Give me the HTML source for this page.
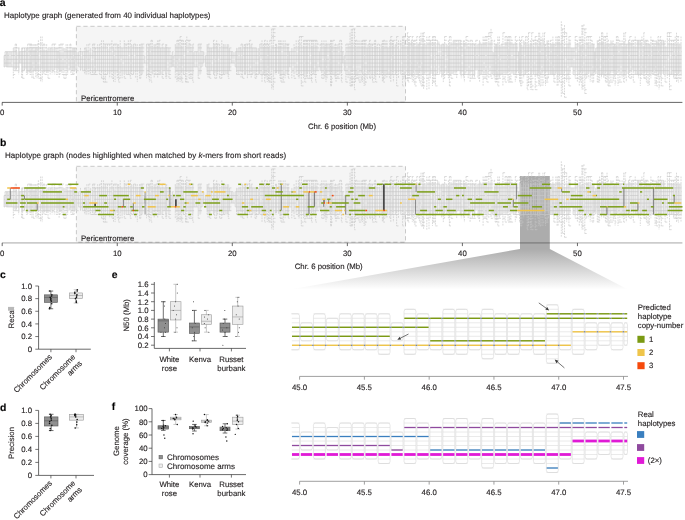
<!DOCTYPE html>
<html><head><meta charset="utf-8"><style>
html,body{margin:0;padding:0;background:#fff;}
svg{display:block;will-change:transform;}
text{font-family:"Liberation Sans", sans-serif;text-rendering:geometricPrecision;}
text{stroke:#231f20;stroke-width:0.14px;}
text.nb{stroke:none;}
</style></head><body>
<svg width="685" height="520" viewBox="0 0 685 520" font-family='"Liberation Sans", sans-serif'><rect width="685" height="520" fill="#fff"/><text x="-0.20" y="6.30" font-size="10.4" text-anchor="start" font-weight="bold" fill="#000" >a</text><text x="4.00" y="18.00" font-size="7.95" text-anchor="start" font-weight="normal" fill="#231f20" >Haplotype graph (generated from 40 individual haplotypes)</text><rect x="76.4" y="26.3" width="329.1" height="75.9" fill="#f5f5f5" stroke="#a8a8a8" stroke-width="0.6" stroke-dasharray="4.2 2.8"/><path id="hgf" d="M4.0 55.5h1.0V66.2h-1.0zM5.0 53.7h1.3V66.9h-1.3zM6.3 51.7h1.0V66.9h-1.0zM7.3 53.3h1.6V66.8h-1.6zM8.9 51.7h2.2V66.9h-2.2zM11.1 51.7h2.2V66.9h-2.2zM13.3 48.8h1.9V68.9h-1.9zM15.2 49.6h1.3V68.8h-1.3zM16.5 51.1h2.2V67.8h-2.2zM18.7 48.2h1.0V71.5h-1.0zM19.7 51.7h1.9V63.1h-1.9zM21.6 47.9h1.0V70.8h-1.0zM22.6 50.7h1.9V71.1h-1.9zM24.5 49.5h1.9V68.8h-1.9zM26.4 47.9h1.3V71.4h-1.3zM27.7 47.7h2.2V72.0h-2.2zM29.9 50.4h1.0V71.1h-1.0zM30.9 49.2h1.0V68.6h-1.0zM31.9 47.4h1.3V68.2h-1.3zM33.2 50.3h1.6V70.9h-1.6zM34.8 49.3h1.0V70.2h-1.0zM35.8 47.4h1.3V70.0h-1.3zM37.1 48.8h1.3V69.2h-1.3zM38.4 47.3h2.2V70.2h-2.2zM40.6 49.8h1.6V68.7h-1.6zM42.2 47.5h1.0V68.0h-1.0zM43.2 49.8h1.6V71.8h-1.6zM44.8 50.2h1.9V70.6h-1.9zM46.7 51.0h1.3V71.2h-1.3zM48.0 49.1h2.2V71.2h-2.2zM50.2 47.9h1.9V70.5h-1.9zM52.1 47.0h2.2V71.4h-2.2zM54.3 48.0h1.9V68.2h-1.9zM56.2 50.2h1.6V68.3h-1.6zM57.8 50.8h1.3V68.8h-1.3zM59.1 50.7h1.0V70.5h-1.0zM60.1 49.7h1.9V70.3h-1.9zM62.0 47.2h1.9V71.2h-1.9zM63.9 47.9h2.2V68.6h-2.2zM66.1 49.0h1.6V69.1h-1.6zM67.7 49.8h2.2V71.0h-2.2zM69.9 49.8h1.0V68.1h-1.0zM70.9 49.5h1.9V71.3h-1.9zM72.8 47.9h1.3V69.5h-1.3zM74.1 47.9h1.0V70.1h-1.0zM75.1 49.4h1.6V70.7h-1.6zM76.7 51.7h1.9V68.6h-1.9zM78.6 51.7h1.9V66.9h-1.9zM80.5 52.2h1.9V69.0h-1.9zM82.4 51.7h2.2V70.6h-2.2zM84.6 50.9h1.3V69.0h-1.3zM85.9 49.6h1.0V70.7h-1.0zM86.9 51.1h1.9V68.0h-1.9zM88.8 51.2h1.6V67.7h-1.6zM90.4 48.5h2.2V69.1h-2.2zM92.6 51.4h1.6V71.2h-1.6zM94.2 48.2h1.3V69.5h-1.3zM95.5 50.9h2.2V71.1h-2.2zM97.7 47.9h1.9V70.6h-1.9zM99.6 47.0h1.9V69.9h-1.9zM101.5 49.7h1.9V71.0h-1.9zM103.4 45.3h1.9V72.9h-1.9zM105.3 46.0h2.2V70.4h-2.2zM107.5 48.8h2.2V73.0h-2.2zM109.7 47.8h2.2V72.8h-2.2zM111.9 46.7h1.6V70.5h-1.6zM113.5 47.7h1.6V71.8h-1.6zM115.1 49.4h2.2V73.0h-2.2zM117.3 45.8h1.3V71.4h-1.3zM118.6 49.2h1.6V73.5h-1.6zM120.2 47.4h1.9V71.7h-1.9zM122.1 47.9h2.2V74.0h-2.2zM124.3 44.5h1.9V73.2h-1.9zM126.2 48.0h2.2V73.2h-2.2zM128.4 47.0h1.9V74.3h-1.9zM130.3 46.6h1.3V72.2h-1.3zM131.6 45.1h1.9V70.1h-1.9zM133.5 44.8h2.2V72.9h-2.2zM135.7 46.6h1.6V70.4h-1.6zM137.3 46.9h2.2V70.4h-2.2zM139.5 48.8h1.3V71.8h-1.3zM140.8 46.5h1.3V74.0h-1.3zM142.1 45.8h2.2V72.7h-2.2zM144.3 55.5h2.2V63.1h-2.2zM146.5 45.9h1.9V74.5h-1.9zM148.4 47.2h1.0V69.9h-1.0zM149.4 44.7h1.6V70.7h-1.6zM151.0 48.3h1.3V71.3h-1.3zM152.3 48.0h1.9V74.4h-1.9zM154.2 45.1h1.6V70.2h-1.6zM155.8 46.3h1.9V69.7h-1.9zM157.7 47.1h1.3V70.3h-1.3zM159.0 45.0h1.6V72.4h-1.6zM160.6 48.2h1.6V74.3h-1.6zM162.2 46.5h1.9V73.2h-1.9zM164.1 47.9h1.6V70.7h-1.6zM165.7 45.4h1.0V72.8h-1.0zM166.7 46.9h2.2V69.7h-2.2zM168.9 47.9h2.2V73.2h-2.2zM171.1 55.5h1.3V66.9h-1.3zM172.4 51.7h1.3V66.9h-1.3zM173.7 55.5h1.6V66.9h-1.6zM175.3 45.8h1.6V70.9h-1.6zM176.9 45.2h1.3V70.3h-1.3zM178.2 44.2h1.9V74.1h-1.9zM180.1 46.3h1.6V73.1h-1.6zM181.7 47.4h1.6V71.0h-1.6zM183.3 46.4h2.2V73.0h-2.2zM185.5 47.8h1.3V69.8h-1.3zM186.8 44.2h2.2V70.2h-2.2zM189.0 44.6h1.9V71.3h-1.9zM190.9 48.9h1.9V70.1h-1.9zM192.8 44.7h1.3V73.9h-1.3zM194.1 51.7h2.2V66.9h-2.2zM196.3 51.7h1.9V66.9h-1.9zM198.2 46.2h1.9V74.5h-1.9zM200.1 44.5h1.9V73.8h-1.9zM202.0 51.7h1.6V66.9h-1.6zM203.6 51.7h1.9V63.1h-1.9zM205.5 55.5h1.6V66.9h-1.6zM207.1 44.6h1.0V70.1h-1.0zM208.1 44.3h1.6V73.1h-1.6zM209.7 47.9h1.6V73.5h-1.6zM211.3 47.9h2.2V70.7h-2.2zM213.5 45.3h1.3V72.8h-1.3zM214.8 44.7h1.9V71.7h-1.9zM216.7 47.3h1.0V74.4h-1.0zM217.7 46.3h1.9V70.3h-1.9zM219.6 48.7h2.2V70.6h-2.2zM221.8 49.0h1.6V71.6h-1.6zM223.4 46.1h1.6V72.2h-1.6zM225.0 45.9h2.2V74.2h-2.2zM227.2 44.4h1.0V72.6h-1.0zM228.2 44.2h1.3V72.7h-1.3zM229.5 47.9h1.9V70.7h-1.9zM231.4 51.7h1.6V63.1h-1.6zM233.0 51.7h2.2V63.1h-2.2zM235.2 51.7h1.3V66.9h-1.3zM236.5 47.9h1.6V70.2h-1.6zM238.1 47.9h1.9V74.5h-1.9zM240.0 47.9h1.0V70.5h-1.0zM241.0 48.4h1.6V70.4h-1.6zM242.6 44.2h1.9V70.8h-1.9zM244.5 47.2h1.0V72.9h-1.0zM245.5 45.2h1.9V72.8h-1.9zM247.4 47.8h2.2V73.7h-2.2zM249.6 44.9h1.6V70.9h-1.6zM251.2 44.1h1.6V70.4h-1.6zM252.8 47.9h2.2V72.7h-2.2zM255.0 47.9h1.6V73.9h-1.6zM256.6 47.9h2.2V70.2h-2.2zM258.8 48.2h1.0V74.5h-1.0zM259.8 45.3h2.2V72.0h-2.2zM262.0 44.0h1.6V74.7h-1.6zM263.6 47.4h1.0V74.5h-1.0zM264.6 46.8h1.3V71.6h-1.3zM265.9 47.8h1.3V74.7h-1.3zM267.2 46.1h1.3V70.2h-1.3zM268.5 46.9h1.3V71.4h-1.3zM269.8 47.1h1.9V74.7h-1.9zM271.7 45.4h1.6V70.5h-1.6zM273.3 47.1h2.2V75.1h-2.2zM275.5 48.8h1.0V71.5h-1.0zM276.5 45.8h2.2V71.2h-2.2zM278.7 46.0h1.3V72.0h-1.3zM280.0 46.3h1.0V74.3h-1.0zM281.0 47.5h2.2V74.6h-2.2zM283.2 44.1h1.9V73.5h-1.9zM285.1 44.0h2.2V74.5h-2.2zM287.3 46.8h1.0V73.9h-1.0zM288.3 48.2h1.3V70.7h-1.3zM289.6 51.7h2.2V66.9h-2.2zM291.8 47.9h2.2V71.4h-2.2zM294.0 47.6h2.2V72.4h-2.2zM296.2 48.4h2.2V70.9h-2.2zM298.4 48.3h1.0V72.4h-1.0zM299.4 44.3h1.9V72.1h-1.9zM301.3 45.5h2.2V71.7h-2.2zM303.5 47.2h1.3V74.0h-1.3zM304.8 45.6h1.6V75.2h-1.6zM306.4 46.7h1.0V75.2h-1.0zM307.4 45.2h2.2V72.1h-2.2zM309.6 44.5h1.9V72.2h-1.9zM311.5 46.8h1.3V71.4h-1.3zM312.8 47.8h1.0V70.1h-1.0zM313.8 43.9h1.9V74.1h-1.9zM315.7 45.2h1.3V70.9h-1.3zM317.0 47.0h2.2V70.7h-2.2zM319.2 51.7h1.0V66.9h-1.0zM320.2 46.8h1.6V70.7h-1.6zM321.8 44.9h2.2V71.3h-2.2zM324.0 47.7h1.0V74.6h-1.0zM325.0 46.9h1.0V72.2h-1.0zM326.0 44.0h1.0V73.1h-1.0zM327.0 45.2h2.2V71.1h-2.2zM329.2 44.5h1.3V70.7h-1.3zM330.5 48.5h1.0V73.0h-1.0zM331.5 45.2h1.3V70.6h-1.3zM332.8 45.5h2.2V74.5h-2.2zM335.0 47.5h1.0V72.3h-1.0zM336.0 47.9h1.9V71.8h-1.9zM337.9 44.7h1.9V70.5h-1.9zM339.8 46.6h1.6V73.8h-1.6zM341.4 46.8h1.3V71.4h-1.3zM342.7 51.7h1.6V63.1h-1.6zM344.3 55.5h1.6V70.7h-1.6zM345.9 47.6h2.2V73.0h-2.2zM348.1 46.1h1.9V73.6h-1.9zM350.0 47.7h1.3V74.0h-1.3zM351.3 46.8h1.3V70.5h-1.3zM352.6 45.9h1.9V70.4h-1.9zM354.5 46.2h1.0V73.1h-1.0zM355.5 48.3h1.6V75.1h-1.6zM357.1 46.4h1.9V74.2h-1.9zM359.0 47.1h2.2V71.0h-2.2zM361.2 46.6h1.3V71.0h-1.3zM362.5 46.1h1.6V73.1h-1.6zM364.1 45.7h1.0V74.2h-1.0zM365.1 45.3h1.9V70.1h-1.9zM367.0 47.9h1.0V71.0h-1.0zM368.0 45.7h1.6V72.3h-1.6zM369.6 47.9h1.3V70.8h-1.3zM370.9 45.4h1.6V73.7h-1.6zM372.5 47.4h2.2V73.6h-2.2zM374.7 47.9h1.0V72.0h-1.0zM375.7 47.7h1.6V72.9h-1.6zM377.3 48.0h2.2V70.2h-2.2zM379.5 48.0h1.6V70.6h-1.6zM381.1 46.1h1.3V74.5h-1.3zM382.4 48.1h1.0V71.4h-1.0zM383.4 48.0h1.6V73.5h-1.6zM385.0 45.8h1.9V72.0h-1.9zM386.9 45.6h1.0V73.1h-1.0zM387.9 47.9h1.9V74.5h-1.9zM389.8 47.6h1.0V73.3h-1.0zM390.8 43.6h1.6V74.6h-1.6zM392.4 47.8h1.0V70.6h-1.0zM393.4 44.5h2.2V70.9h-2.2zM395.6 44.5h1.0V72.8h-1.0zM396.6 46.0h1.9V71.3h-1.9zM398.5 47.5h2.2V70.6h-2.2zM400.7 45.0h1.9V73.6h-1.9zM402.6 45.9h1.3V70.3h-1.3zM403.9 46.2h1.3V73.1h-1.3zM405.2 45.7h2.2V72.2h-2.2zM407.4 47.2h1.0V74.1h-1.0zM408.4 43.4h1.0V71.6h-1.0zM409.4 43.0h1.9V74.3h-1.9zM411.3 41.1h1.0V74.8h-1.0zM412.3 44.8h1.3V75.8h-1.3zM413.6 44.0h1.3V71.1h-1.3zM414.9 45.7h1.9V72.5h-1.9zM416.8 45.8h1.3V73.2h-1.3zM418.1 44.1h1.3V76.1h-1.3zM419.4 42.0h1.6V71.3h-1.6zM421.0 46.2h1.6V72.0h-1.6zM422.6 44.7h1.0V73.3h-1.0zM423.6 43.6h1.3V73.6h-1.3zM424.9 43.5h1.9V71.9h-1.9zM426.8 43.5h2.2V71.9h-2.2zM429.0 43.2h1.3V73.8h-1.3zM430.3 42.2h2.2V73.8h-2.2zM432.5 47.0h1.3V74.2h-1.3zM433.8 42.3h1.6V72.1h-1.6zM435.4 45.6h2.2V74.8h-2.2zM437.6 41.6h2.2V71.5h-2.2zM439.8 44.8h1.9V72.1h-1.9zM441.7 44.1h1.6V75.6h-1.6zM443.3 44.1h1.3V72.4h-1.3zM444.6 45.6h2.2V71.4h-2.2zM446.8 45.1h1.6V73.2h-1.6zM448.4 45.7h1.0V71.4h-1.0zM449.4 45.0h1.6V76.1h-1.6zM451.0 43.8h2.2V74.4h-2.2zM453.2 41.0h1.9V72.0h-1.9zM455.1 42.6h1.6V71.9h-1.6zM456.7 43.4h1.6V70.9h-1.6zM458.3 42.4h1.9V70.7h-1.9zM460.2 42.2h1.0V73.3h-1.0zM461.2 46.6h2.2V72.1h-2.2zM463.4 42.4h1.0V74.8h-1.0zM464.4 43.1h1.6V73.5h-1.6zM466.0 44.0h2.2V71.0h-2.2zM468.2 46.6h1.9V73.7h-1.9zM470.1 43.7h2.2V71.9h-2.2zM472.3 42.9h2.2V76.0h-2.2zM474.5 46.5h1.3V75.0h-1.3zM475.8 43.6h2.2V70.7h-2.2zM478.0 44.5h1.6V75.9h-1.6zM479.6 42.0h1.6V74.5h-1.6zM481.2 44.1h1.9V72.2h-1.9zM483.1 42.7h1.9V73.1h-1.9zM485.0 42.3h1.9V73.4h-1.9zM486.9 46.5h1.9V75.6h-1.9zM488.8 42.4h2.2V70.6h-2.2zM491.0 41.2h1.9V75.2h-1.9zM492.9 51.7h1.3V73.1h-1.3zM494.2 46.3h1.0V74.7h-1.0zM495.2 44.1h1.3V72.7h-1.3zM496.5 44.1h1.3V75.6h-1.3zM497.8 45.4h1.6V75.5h-1.6zM499.4 46.5h1.6V75.8h-1.6zM501.0 44.1h1.9V73.9h-1.9zM502.9 45.9h2.2V72.9h-2.2zM505.1 41.9h1.9V73.3h-1.9zM507.0 41.4h1.0V72.4h-1.0zM508.0 46.0h1.3V71.3h-1.3zM509.3 41.3h1.6V70.6h-1.6zM510.9 42.3h2.2V72.7h-2.2zM513.1 44.1h2.2V74.1h-2.2zM515.3 43.6h1.3V73.3h-1.3zM516.6 45.2h1.9V70.9h-1.9zM518.5 51.7h1.0V71.5h-1.0zM519.5 42.5h1.0V74.4h-1.0zM520.5 44.0h1.3V74.5h-1.3zM521.8 46.6h1.9V71.7h-1.9zM523.7 41.5h1.9V74.9h-1.9zM525.6 44.7h1.6V73.1h-1.6zM527.2 46.7h1.3V71.0h-1.3zM528.5 43.5h1.9V70.5h-1.9zM530.4 43.1h1.3V72.8h-1.3zM531.7 45.0h1.9V72.5h-1.9zM533.6 46.9h1.6V72.4h-1.6zM535.2 41.9h2.2V75.3h-2.2zM537.4 45.1h1.3V74.8h-1.3zM538.7 46.8h1.0V71.7h-1.0zM539.7 42.6h1.3V74.9h-1.3zM541.0 42.8h1.9V73.5h-1.9zM542.9 41.3h1.6V70.9h-1.6zM544.5 44.6h1.0V72.1h-1.0zM545.5 46.8h1.6V71.7h-1.6zM547.1 42.1h1.3V71.0h-1.3zM548.4 46.8h1.9V73.5h-1.9zM550.3 44.7h1.6V73.8h-1.6zM551.9 44.8h1.0V74.5h-1.0zM552.9 43.9h1.0V74.5h-1.0zM553.9 44.1h1.9V74.9h-1.9zM555.8 47.0h1.3V71.8h-1.3zM557.1 41.5h1.0V75.9h-1.0zM558.1 41.6h1.3V73.0h-1.3zM559.4 43.8h1.9V74.6h-1.9zM561.3 41.1h1.3V73.3h-1.3zM562.6 45.6h1.9V75.1h-1.9zM564.5 47.0h2.2V71.6h-2.2zM566.7 44.3h2.2V75.9h-2.2zM568.9 41.4h2.2V73.3h-2.2zM571.1 47.9h1.9V66.9h-1.9zM573.0 47.9h2.2V73.6h-2.2zM575.2 43.9h2.2V72.1h-2.2zM577.4 44.5h1.9V74.4h-1.9zM579.3 46.1h1.3V73.0h-1.3zM580.6 45.3h1.3V70.9h-1.3zM581.9 44.0h1.0V73.1h-1.0zM582.9 44.7h1.9V71.7h-1.9zM584.8 46.7h1.9V76.1h-1.9zM586.7 42.7h1.6V73.4h-1.6zM588.3 42.5h1.9V72.4h-1.9zM590.2 44.7h1.9V76.0h-1.9zM592.1 44.0h1.6V74.6h-1.6zM593.7 44.1h1.0V71.7h-1.0zM594.7 51.7h1.0V70.9h-1.0zM595.7 47.9h1.6V72.4h-1.6zM597.3 42.2h1.0V72.7h-1.0zM598.3 44.8h1.3V73.3h-1.3zM599.6 42.1h1.9V73.9h-1.9zM601.5 41.7h1.3V75.0h-1.3zM602.8 41.3h1.0V72.0h-1.0zM603.8 45.1h1.6V76.0h-1.6zM605.4 44.2h1.6V71.7h-1.6zM607.0 44.5h1.0V75.1h-1.0zM608.0 45.0h1.0V73.4h-1.0zM609.0 44.1h1.9V74.5h-1.9zM610.9 41.5h2.2V71.1h-2.2zM613.1 46.1h1.0V71.3h-1.0zM614.1 44.1h1.0V72.6h-1.0zM615.1 46.0h1.3V74.6h-1.3zM616.4 45.8h1.6V72.6h-1.6zM618.0 44.8h1.9V71.4h-1.9zM619.9 43.6h2.2V73.6h-2.2zM622.1 46.8h1.6V72.0h-1.6zM623.7 41.2h1.3V75.1h-1.3zM625.0 45.7h1.3V71.9h-1.3zM626.3 44.1h2.2V73.7h-2.2zM628.5 41.9h1.3V72.9h-1.3zM629.8 42.9h1.9V71.4h-1.9zM631.7 42.6h1.6V70.6h-1.6zM633.3 46.0h1.9V71.0h-1.9zM635.2 46.6h2.2V74.5h-2.2zM637.4 41.4h1.0V74.5h-1.0zM638.4 41.0h1.9V74.7h-1.9zM640.3 42.4h1.6V74.2h-1.6zM641.9 46.0h1.9V73.1h-1.9zM643.8 46.0h1.0V74.5h-1.0zM644.8 41.1h1.6V71.4h-1.6zM646.4 44.4h1.6V73.2h-1.6zM648.0 44.1h1.3V71.5h-1.3zM649.3 45.1h1.6V72.6h-1.6zM650.9 46.4h1.6V74.6h-1.6zM652.5 46.4h1.3V70.6h-1.3zM653.8 45.0h1.3V72.7h-1.3zM655.1 46.7h1.3V71.5h-1.3zM656.4 40.9h1.6V71.8h-1.6zM658.0 41.7h1.0V75.1h-1.0zM659.0 44.2h1.3V73.1h-1.3zM660.3 45.3h1.0V72.7h-1.0zM661.3 41.1h2.2V73.8h-2.2zM663.5 41.6h1.6V73.5h-1.6zM665.1 46.7h2.2V75.1h-2.2zM667.3 42.8h2.2V74.3h-2.2zM669.5 43.2h2.2V75.1h-2.2zM671.7 44.0h1.9V74.0h-1.9zM673.6 44.2h1.6V75.8h-1.6zM675.2 46.8h1.3V71.2h-1.3zM676.5 43.7h1.6V74.7h-1.6zM678.1 46.0h1.0V74.1h-1.0zM679.1 44.5h1.9V71.7h-1.9zM681.0 46.1h0.5V74.4h-0.5z" fill="#f0f0f0" stroke="none"/><g id="hg"><path d="M4.0 55.5V66.2M5.0 53.7V66.9M6.3 51.7V66.9M7.3 53.3V66.8M8.9 51.7V66.9M11.1 51.7V66.9M13.3 48.8V68.9M15.2 49.6V68.8M16.5 51.1V67.8M18.7 48.2V71.5M19.7 51.7V63.1M21.6 47.9V70.8M22.6 50.7V71.1M24.5 49.5V68.8M26.4 47.9V71.4M27.7 47.7V72.0M29.9 50.4V71.1M30.9 49.2V68.6M31.9 47.4V68.2M33.2 50.3V70.9M34.8 49.3V70.2M35.8 47.4V70.0M37.1 48.8V69.2M38.4 47.3V70.2M40.6 49.8V68.7M42.2 47.5V68.0M43.2 49.8V71.8M44.8 50.2V70.6M46.7 51.0V71.2M48.0 49.1V71.2M50.2 47.9V70.5M52.1 47.0V71.4M54.3 48.0V68.2M56.2 50.2V68.3M57.8 50.8V68.8M59.1 50.7V70.5M60.1 49.7V70.3M62.0 47.2V71.2M63.9 47.9V68.6M66.1 49.0V69.1M67.7 49.8V71.0M69.9 49.8V68.1M70.9 49.5V71.3M72.8 47.9V69.5M74.1 47.9V70.1M75.1 49.4V70.7M76.7 51.7V68.6M78.6 51.7V66.9M80.5 52.2V69.0M82.4 51.7V70.6M84.6 50.9V69.0M85.9 49.6V70.7M86.9 51.1V68.0M88.8 51.2V67.7M90.4 48.5V69.1M92.6 51.4V71.2M94.2 48.2V69.5M95.5 50.9V71.1M97.7 47.9V70.6M99.6 47.0V69.9M101.5 49.7V71.0M103.4 45.3V72.9M105.3 46.0V70.4M107.5 48.8V73.0M109.7 47.8V72.8M111.9 46.7V70.5M113.5 47.7V71.8M115.1 49.4V73.0M117.3 45.8V71.4M118.6 49.2V73.5M120.2 47.4V71.7M122.1 47.9V74.0M124.3 44.5V73.2M126.2 48.0V73.2M128.4 47.0V74.3M130.3 46.6V72.2M131.6 45.1V70.1M133.5 44.8V72.9M135.7 46.6V70.4M137.3 46.9V70.4M139.5 48.8V71.8M140.8 46.5V74.0M142.1 45.8V72.7M144.3 55.5V63.1M146.5 45.9V74.5M148.4 47.2V69.9M149.4 44.7V70.7M151.0 48.3V71.3M152.3 48.0V74.4M154.2 45.1V70.2M155.8 46.3V69.7M157.7 47.1V70.3M159.0 45.0V72.4M160.6 48.2V74.3M162.2 46.5V73.2M164.1 47.9V70.7M165.7 45.4V72.8M166.7 46.9V69.7M168.9 47.9V73.2M171.1 55.5V66.9M172.4 51.7V66.9M173.7 55.5V66.9M175.3 45.8V70.9M176.9 45.2V70.3M178.2 44.2V74.1M180.1 46.3V73.1M181.7 47.4V71.0M183.3 46.4V73.0M185.5 47.8V69.8M186.8 44.2V70.2M189.0 44.6V71.3M190.9 48.9V70.1M192.8 44.7V73.9M194.1 51.7V66.9M196.3 51.7V66.9M198.2 46.2V74.5M200.1 44.5V73.8M202.0 51.7V66.9M203.6 51.7V63.1M205.5 55.5V66.9M207.1 44.6V70.1M208.1 44.3V73.1M209.7 47.9V73.5M211.3 47.9V70.7M213.5 45.3V72.8M214.8 44.7V71.7M216.7 47.3V74.4M217.7 46.3V70.3M219.6 48.7V70.6M221.8 49.0V71.6M223.4 46.1V72.2M225.0 45.9V74.2M227.2 44.4V72.6M228.2 44.2V72.7M229.5 47.9V70.7M231.4 51.7V63.1M233.0 51.7V63.1M235.2 51.7V66.9M236.5 47.9V70.2M238.1 47.9V74.5M240.0 47.9V70.5M241.0 48.4V70.4M242.6 44.2V70.8M244.5 47.2V72.9M245.5 45.2V72.8M247.4 47.8V73.7M249.6 44.9V70.9M251.2 44.1V70.4M252.8 47.9V72.7M255.0 47.9V73.9M256.6 47.9V70.2M258.8 48.2V74.5M259.8 45.3V72.0M262.0 44.0V74.7M263.6 47.4V74.5M264.6 46.8V71.6M265.9 47.8V74.7M267.2 46.1V70.2M268.5 46.9V71.4M269.8 47.1V74.7M271.7 45.4V70.5M273.3 47.1V75.1M275.5 48.8V71.5M276.5 45.8V71.2M278.7 46.0V72.0M280.0 46.3V74.3M281.0 47.5V74.6M283.2 44.1V73.5M285.1 44.0V74.5M287.3 46.8V73.9M288.3 48.2V70.7M289.6 51.7V66.9M291.8 47.9V71.4M294.0 47.6V72.4M296.2 48.4V70.9M298.4 48.3V72.4M299.4 44.3V72.1M301.3 45.5V71.7M303.5 47.2V74.0M304.8 45.6V75.2M306.4 46.7V75.2M307.4 45.2V72.1M309.6 44.5V72.2M311.5 46.8V71.4M312.8 47.8V70.1M313.8 43.9V74.1M315.7 45.2V70.9M317.0 47.0V70.7M319.2 51.7V66.9M320.2 46.8V70.7M321.8 44.9V71.3M324.0 47.7V74.6M325.0 46.9V72.2M326.0 44.0V73.1M327.0 45.2V71.1M329.2 44.5V70.7M330.5 48.5V73.0M331.5 45.2V70.6M332.8 45.5V74.5M335.0 47.5V72.3M336.0 47.9V71.8M337.9 44.7V70.5M339.8 46.6V73.8M341.4 46.8V71.4M342.7 51.7V63.1M344.3 55.5V70.7M345.9 47.6V73.0M348.1 46.1V73.6M350.0 47.7V74.0M351.3 46.8V70.5M352.6 45.9V70.4M354.5 46.2V73.1M355.5 48.3V75.1M357.1 46.4V74.2M359.0 47.1V71.0M361.2 46.6V71.0M362.5 46.1V73.1M364.1 45.7V74.2M365.1 45.3V70.1M367.0 47.9V71.0M368.0 45.7V72.3M369.6 47.9V70.8M370.9 45.4V73.7M372.5 47.4V73.6M374.7 47.9V72.0M375.7 47.7V72.9M377.3 48.0V70.2M379.5 48.0V70.6M381.1 46.1V74.5M382.4 48.1V71.4M383.4 48.0V73.5M385.0 45.8V72.0M386.9 45.6V73.1M387.9 47.9V74.5M389.8 47.6V73.3M390.8 43.6V74.6M392.4 47.8V70.6M393.4 44.5V70.9M395.6 44.5V72.8M396.6 46.0V71.3M398.5 47.5V70.6M400.7 45.0V73.6M402.6 45.9V70.3M403.9 46.2V73.1M405.2 45.7V72.2M407.4 47.2V74.1M408.4 43.4V71.6M409.4 43.0V74.3M411.3 41.1V74.8M412.3 44.8V75.8M413.6 44.0V71.1M414.9 45.7V72.5M416.8 45.8V73.2M418.1 44.1V76.1M419.4 42.0V71.3M421.0 46.2V72.0M422.6 44.7V73.3M423.6 43.6V73.6M424.9 43.5V71.9M426.8 43.5V71.9M429.0 43.2V73.8M430.3 42.2V73.8M432.5 47.0V74.2M433.8 42.3V72.1M435.4 45.6V74.8M437.6 41.6V71.5M439.8 44.8V72.1M441.7 44.1V75.6M443.3 44.1V72.4M444.6 45.6V71.4M446.8 45.1V73.2M448.4 45.7V71.4M449.4 45.0V76.1M451.0 43.8V74.4M453.2 41.0V72.0M455.1 42.6V71.9M456.7 43.4V70.9M458.3 42.4V70.7M460.2 42.2V73.3M461.2 46.6V72.1M463.4 42.4V74.8M464.4 43.1V73.5M466.0 44.0V71.0M468.2 46.6V73.7M470.1 43.7V71.9M472.3 42.9V76.0M474.5 46.5V75.0M475.8 43.6V70.7M478.0 44.5V75.9M479.6 42.0V74.5M481.2 44.1V72.2M483.1 42.7V73.1M485.0 42.3V73.4M486.9 46.5V75.6M488.8 42.4V70.6M491.0 41.2V75.2M492.9 51.7V73.1M494.2 46.3V74.7M495.2 44.1V72.7M496.5 44.1V75.6M497.8 45.4V75.5M499.4 46.5V75.8M501.0 44.1V73.9M502.9 45.9V72.9M505.1 41.9V73.3M507.0 41.4V72.4M508.0 46.0V71.3M509.3 41.3V70.6M510.9 42.3V72.7M513.1 44.1V74.1M515.3 43.6V73.3M516.6 45.2V70.9M518.5 51.7V71.5M519.5 42.5V74.4M520.5 44.0V74.5M521.8 46.6V71.7M523.7 41.5V74.9M525.6 44.7V73.1M527.2 46.7V71.0M528.5 43.5V70.5M530.4 43.1V72.8M531.7 45.0V72.5M533.6 46.9V72.4M535.2 41.9V75.3M537.4 45.1V74.8M538.7 46.8V71.7M539.7 42.6V74.9M541.0 42.8V73.5M542.9 41.3V70.9M544.5 44.6V72.1M545.5 46.8V71.7M547.1 42.1V71.0M548.4 46.8V73.5M550.3 44.7V73.8M551.9 44.8V74.5M552.9 43.9V74.5M553.9 44.1V74.9M555.8 47.0V71.8M557.1 41.5V75.9M558.1 41.6V73.0M559.4 43.8V74.6M561.3 41.1V73.3M562.6 45.6V75.1M564.5 47.0V71.6M566.7 44.3V75.9M568.9 41.4V73.3M571.1 47.9V66.9M573.0 47.9V73.6M575.2 43.9V72.1M577.4 44.5V74.4M579.3 46.1V73.0M580.6 45.3V70.9M581.9 44.0V73.1M582.9 44.7V71.7M584.8 46.7V76.1M586.7 42.7V73.4M588.3 42.5V72.4M590.2 44.7V76.0M592.1 44.0V74.6M593.7 44.1V71.7M594.7 51.7V70.9M595.7 47.9V72.4M597.3 42.2V72.7M598.3 44.8V73.3M599.6 42.1V73.9M601.5 41.7V75.0M602.8 41.3V72.0M603.8 45.1V76.0M605.4 44.2V71.7M607.0 44.5V75.1M608.0 45.0V73.4M609.0 44.1V74.5M610.9 41.5V71.1M613.1 46.1V71.3M614.1 44.1V72.6M615.1 46.0V74.6M616.4 45.8V72.6M618.0 44.8V71.4M619.9 43.6V73.6M622.1 46.8V72.0M623.7 41.2V75.1M625.0 45.7V71.9M626.3 44.1V73.7M628.5 41.9V72.9M629.8 42.9V71.4M631.7 42.6V70.6M633.3 46.0V71.0M635.2 46.6V74.5M637.4 41.4V74.5M638.4 41.0V74.7M640.3 42.4V74.2M641.9 46.0V73.1M643.8 46.0V74.5M644.8 41.1V71.4M646.4 44.4V73.2M648.0 44.1V71.5M649.3 45.1V72.6M650.9 46.4V74.6M652.5 46.4V70.6M653.8 45.0V72.7M655.1 46.7V71.5M656.4 40.9V71.8M658.0 41.7V75.1M659.0 44.2V73.1M660.3 45.3V72.7M661.3 41.1V73.8M663.5 41.6V73.5M665.1 46.7V75.1M667.3 42.8V74.3M669.5 43.2V75.1M671.7 44.0V74.0M673.6 44.2V75.8M675.2 46.8V71.2M676.5 43.7V74.7M678.1 46.0V74.1M679.1 44.5V71.7M681.0 46.1V74.4" stroke="#d0d0d0" stroke-width="0.65" fill="none"/><path d="M4.0 66.2V66.9M5.0 51.7V53.7M6.3 51.7V51.7M7.3 51.7V53.3M7.3 66.8V66.9M13.3 47.9V48.8M13.3 68.9V78.3M15.2 44.1V49.6M15.2 68.8V70.7M16.5 44.1V51.1M16.5 67.8V70.7M18.7 47.9V48.2M18.7 71.5V74.5M21.6 70.8V78.3M22.6 47.9V50.7M22.6 71.1V78.3M24.5 47.9V49.5M24.5 68.8V70.7M26.4 71.4V74.5M27.7 44.1V47.7M27.7 72.0V74.5M29.9 44.1V50.4M29.9 71.1V74.5M30.9 44.1V49.2M30.9 68.6V74.5M31.9 44.1V47.4M31.9 68.2V78.3M33.2 44.1V50.3M33.2 70.9V78.3M34.8 44.1V49.3M34.8 70.2V70.7M35.8 44.1V47.4M35.8 70.0V78.3M37.1 44.1V48.8M37.1 69.2V78.3M38.4 40.3V47.3M38.4 70.2V78.3M40.6 36.5V49.8M40.6 68.7V82.1M42.2 36.5V47.5M42.2 68.0V82.1M43.2 44.1V49.8M43.2 71.8V74.5M44.8 44.1V50.2M44.8 70.6V74.5M46.7 44.1V51.0M46.7 71.2V74.5M48.0 47.9V49.1M48.0 71.2V78.3M50.2 70.5V74.5M52.1 44.1V47.0M52.1 71.4V74.5M54.3 44.1V48.0M54.3 68.2V74.5M56.2 47.9V50.2M56.2 68.3V74.5M57.8 47.9V50.8M57.8 68.8V74.5M59.1 44.1V50.7M59.1 70.5V78.3M60.1 44.1V49.7M60.1 70.3V74.5M62.0 44.1V47.2M62.0 71.2V74.5M63.9 68.6V78.3M66.1 44.1V49.0M66.1 69.1V78.3M67.7 44.1V49.8M67.7 71.0V74.5M69.9 44.1V49.8M69.9 68.1V70.7M70.9 44.1V49.5M70.9 71.3V74.5M72.8 69.5V74.5M74.1 70.1V74.5M75.1 47.9V49.4M76.7 68.6V70.7M80.5 47.9V52.2M80.5 69.0V70.7M82.4 70.6V70.7M84.6 47.9V50.9M84.6 69.0V74.5M85.9 47.9V49.6M85.9 70.7V74.5M86.9 44.1V51.1M86.9 68.0V74.5M88.8 44.1V51.2M88.8 67.7V74.5M90.4 47.9V48.5M90.4 69.1V74.5M92.6 44.1V51.4M92.6 71.2V74.5M94.2 44.1V48.2M94.2 69.5V74.5M95.5 47.9V50.9M95.5 71.1V74.5M97.7 44.1V47.9M97.7 70.6V70.7M99.6 44.1V47.0M99.6 69.9V74.5M101.5 40.3V49.7M101.5 71.0V78.3M103.4 40.3V45.3M103.4 72.9V82.1M105.3 44.1V46.0M105.3 70.4V82.1M107.5 44.1V48.8M107.5 73.0V74.5M109.7 44.1V47.8M109.7 72.8V78.3M111.9 40.3V46.7M111.9 70.5V78.3M113.5 44.1V47.7M113.5 71.8V82.1M115.1 44.1V49.4M115.1 73.0V82.1M117.3 44.1V45.8M117.3 71.4V78.3M118.6 44.1V49.2M118.6 73.5V82.1M120.2 40.3V47.4M120.2 71.7V78.3M122.1 74.0V78.3M124.3 40.3V44.5M124.3 73.2V78.3M126.2 44.1V48.0M126.2 73.2V74.5M128.4 40.3V47.0M128.4 74.3V74.5M130.3 40.3V46.6M130.3 72.2V78.3M131.6 44.1V45.1M131.6 70.1V74.5M133.5 44.1V44.8M133.5 72.9V74.5M135.7 44.1V46.6M135.7 70.4V78.3M137.3 44.1V46.9M137.3 70.4V82.1M139.5 44.1V48.8M139.5 71.8V78.3M140.8 44.1V46.5M140.8 74.0V78.3M142.1 44.1V45.8M142.1 72.7V74.5M146.5 44.1V45.9M146.5 74.5V78.3M148.4 44.1V47.2M148.4 69.9V78.3M149.4 44.1V44.7M149.4 70.7V82.1M151.0 40.3V48.3M151.0 71.3V82.1M152.3 40.3V48.0M152.3 74.4V74.5M154.2 44.1V45.1M154.2 70.2V78.3M155.8 44.1V46.3M155.8 69.7V74.5M157.7 40.3V47.1M157.7 70.3V78.3M159.0 40.3V45.0M159.0 72.4V74.5M160.6 47.9V48.2M160.6 74.3V74.5M162.2 44.1V46.5M162.2 73.2V78.3M165.7 44.1V45.4M165.7 72.8V78.3M166.7 44.1V46.9M166.7 69.7V78.3M168.9 73.2V78.3M175.3 44.1V45.8M175.3 70.9V78.3M176.9 40.3V45.2M176.9 70.3V82.1M178.2 40.3V44.2M178.2 74.1V82.1M180.1 36.5V46.3M180.1 73.1V82.1M181.7 40.3V47.4M181.7 71.0V82.1M183.3 40.3V46.4M183.3 73.0V74.5M185.5 40.3V47.8M185.5 69.8V82.1M186.8 36.5V44.2M186.8 70.2V82.1M189.0 40.3V44.6M189.0 71.3V78.3M190.9 44.1V48.9M190.9 70.1V78.3M192.8 44.1V44.7M192.8 73.9V82.1M198.2 44.1V46.2M198.2 74.5V78.3M200.1 44.1V44.5M200.1 73.8V74.5M207.1 44.1V44.6M207.1 70.1V74.5M208.1 44.1V44.3M208.1 73.1V78.3M209.7 73.5V78.3M213.5 40.3V45.3M213.5 72.8V74.5M214.8 44.1V44.7M214.8 71.7V78.3M216.7 40.3V47.3M216.7 74.4V78.3M217.7 44.1V46.3M217.7 70.3V74.5M219.6 44.1V48.7M219.6 70.6V78.3M221.8 40.3V49.0M221.8 71.6V78.3M223.4 44.1V46.1M223.4 72.2V74.5M225.0 44.1V45.9M225.0 74.2V74.5M227.2 44.1V44.4M227.2 72.6V74.5M228.2 44.1V44.2M228.2 72.7V78.3M236.5 70.2V74.5M240.0 70.5V70.7M241.0 44.1V48.4M241.0 70.4V78.3M242.6 44.1V44.2M242.6 70.8V78.3M244.5 44.1V47.2M244.5 72.9V74.5M245.5 44.1V45.2M245.5 72.8V74.5M247.4 44.1V47.8M247.4 73.7V78.3M249.6 40.3V44.9M249.6 70.9V74.5M251.2 70.4V78.3M252.8 72.7V74.5M255.0 73.9V78.3M256.6 70.2V78.3M258.8 47.9V48.2M259.8 44.1V45.3M259.8 72.0V74.5M262.0 40.3V44.0M262.0 74.7V82.1M263.6 44.1V47.4M264.6 40.3V46.8M264.6 71.6V82.1M265.9 44.1V47.8M265.9 74.7V78.3M267.2 40.3V46.1M267.2 70.2V82.1M268.5 44.1V46.9M268.5 71.4V82.1M269.8 40.3V47.1M269.8 74.7V82.1M271.7 28.9V45.4M271.7 70.5V89.7M273.3 28.9V47.1M273.3 75.1V89.7M275.5 44.1V48.8M275.5 71.5V74.5M276.5 44.1V45.8M276.5 71.2V74.5M278.7 40.3V46.0M278.7 72.0V74.5M280.0 40.3V46.3M280.0 74.3V78.3M281.0 40.3V47.5M281.0 74.6V82.1M283.2 40.3V44.1M283.2 73.5V82.1M285.1 40.3V44.0M285.1 74.5V78.3M287.3 44.1V46.8M287.3 73.9V74.5M288.3 44.1V48.2M288.3 70.7V78.3M291.8 71.4V78.3M294.0 44.1V47.6M294.0 72.4V78.3M296.2 40.3V48.4M296.2 70.9V74.5M298.4 40.3V48.3M298.4 72.4V78.3M299.4 36.5V44.3M299.4 72.1V78.3M301.3 36.5V45.5M301.3 71.7V85.9M303.5 40.3V47.2M303.5 74.0V78.3M304.8 40.3V45.6M304.8 75.2V82.1M306.4 40.3V46.7M306.4 75.2V78.3M307.4 40.3V45.2M307.4 72.1V78.3M309.6 40.3V44.5M309.6 72.2V78.3M311.5 40.3V46.8M311.5 71.4V82.1M312.8 40.3V47.8M312.8 70.1V74.5M313.8 40.3V43.9M313.8 74.1V74.5M315.7 40.3V45.2M315.7 70.9V82.1M317.0 40.3V47.0M320.2 44.1V46.8M321.8 40.3V44.9M321.8 71.3V78.3M324.0 40.3V47.7M324.0 74.6V78.3M325.0 44.1V46.9M325.0 72.2V78.3M326.0 40.3V44.0M326.0 73.1V82.1M327.0 44.1V45.2M327.0 71.1V78.3M329.2 44.1V44.5M329.2 70.7V74.5M330.5 40.3V48.5M330.5 73.0V85.9M331.5 40.3V45.2M331.5 70.6V85.9M332.8 40.3V45.5M335.0 44.1V47.5M335.0 72.3V78.3M336.0 44.1V47.9M336.0 71.8V82.1M337.9 44.1V44.7M337.9 70.5V78.3M339.8 40.3V46.6M339.8 73.8V74.5M341.4 40.3V46.8M341.4 71.4V82.1M345.9 44.1V47.6M345.9 73.0V82.1M348.1 44.1V46.1M348.1 73.6V78.3M350.0 32.7V47.7M350.0 74.0V85.9M351.3 28.9V46.8M351.3 70.5V85.9M352.6 28.9V45.9M352.6 70.4V85.9M354.5 28.9V46.2M354.5 73.1V89.7M355.5 40.3V48.3M355.5 75.1V82.1M357.1 40.3V46.4M357.1 74.2V78.3M359.0 40.3V47.1M359.0 71.0V82.1M361.2 40.3V46.6M361.2 71.0V82.1M362.5 40.3V46.1M362.5 73.1V82.1M364.1 40.3V45.7M364.1 74.2V85.9M365.1 40.3V45.3M365.1 70.1V85.9M367.0 71.0V78.3M368.0 44.1V45.7M368.0 72.3V74.5M369.6 40.3V47.9M369.6 70.8V78.3M370.9 44.1V45.4M370.9 73.7V78.3M372.5 44.1V47.4M372.5 73.6V82.1M374.7 40.3V47.9M374.7 72.0V78.3M375.7 40.3V47.7M375.7 72.9V82.1M377.3 44.1V48.0M377.3 70.2V74.5M379.5 44.1V48.0M379.5 70.6V78.3M381.1 44.1V46.1M382.4 40.3V48.1M382.4 71.4V82.1M383.4 40.3V48.0M383.4 73.5V82.1M385.0 40.3V45.8M385.0 72.0V78.3M386.9 40.3V45.6M386.9 73.1V78.3M389.8 40.3V47.6M389.8 73.3V78.3M390.8 36.5V43.6M390.8 74.6V82.1M392.4 40.3V47.8M392.4 70.6V74.5M393.4 40.3V44.5M393.4 70.9V82.1M395.6 44.1V44.5M395.6 72.8V74.5M396.6 36.5V46.0M396.6 71.3V85.9M398.5 40.3V47.5M398.5 70.6V78.3M400.7 40.3V45.0M400.7 73.6V74.5M402.6 36.5V45.9M402.6 70.3V85.9M403.9 36.5V46.2M403.9 73.1V78.3M405.2 40.3V45.7M405.2 72.2V82.1M407.4 32.7V47.2M407.4 74.1V82.1M408.4 36.5V43.4M408.4 71.6V82.1M409.4 36.5V43.0M409.4 74.3V78.3M411.3 40.3V41.1M411.3 74.8V78.3M412.3 36.5V44.8M412.3 75.8V82.1M413.6 40.3V44.0M413.6 71.1V82.1M414.9 40.3V45.7M414.9 72.5V85.9M416.8 36.5V45.8M416.8 73.2V78.3M418.1 76.1V78.3M419.4 36.5V42.0M419.4 71.3V82.1M421.0 32.7V46.2M421.0 72.0V85.9M422.6 32.7V44.7M422.6 73.3V85.9M423.6 32.7V43.6M423.6 73.6V89.7M424.9 40.3V43.5M424.9 71.9V74.5M426.8 36.5V43.5M426.8 71.9V89.7M429.0 36.5V43.2M429.0 73.8V89.7M430.3 40.3V42.2M430.3 73.8V78.3M432.5 36.5V47.0M432.5 74.2V85.9M433.8 36.5V42.3M433.8 72.1V82.1M435.4 36.5V45.6M435.4 74.8V85.9M437.6 40.3V41.6M437.6 71.5V74.5M439.8 44.1V44.8M439.8 72.1V74.5M441.7 75.6V78.3M443.3 72.4V82.1M444.6 36.5V45.6M444.6 71.4V78.3M446.8 44.1V45.1M446.8 73.2V74.5M448.4 40.3V45.7M448.4 71.4V78.3M449.4 36.5V45.0M449.4 76.1V85.9M451.0 36.5V43.8M451.0 74.4V78.3M453.2 40.3V41.0M453.2 72.0V74.5M455.1 40.3V42.6M455.1 71.9V74.5M456.7 40.3V43.4M456.7 70.9V78.3M458.3 40.3V42.4M460.2 40.3V42.2M460.2 73.3V74.5M461.2 40.3V46.6M461.2 72.1V78.3M463.4 40.3V42.4M463.4 74.8V78.3M464.4 40.3V43.1M464.4 73.5V82.1M466.0 36.5V44.0M466.0 71.0V74.5M468.2 40.3V46.6M468.2 73.7V78.3M470.1 40.3V43.7M470.1 71.9V82.1M472.3 40.3V42.9M472.3 76.0V78.3M474.5 44.1V46.5M474.5 75.0V78.3M475.8 40.3V43.6M478.0 44.1V44.5M478.0 75.9V78.3M479.6 40.3V42.0M479.6 74.5V82.1M481.2 72.2V74.5M483.1 36.5V42.7M483.1 73.1V85.9M485.0 36.5V42.3M485.0 73.4V78.3M486.9 36.5V46.5M486.9 75.6V82.1M488.8 32.7V42.4M488.8 70.6V78.3M491.0 28.9V41.2M491.0 75.2V78.3M492.9 73.1V74.5M494.2 40.3V46.3M494.2 74.7V78.3M495.2 72.7V82.1M496.5 75.6V82.1M497.8 36.5V45.4M497.8 75.5V85.9M499.4 36.5V46.5M499.4 75.8V78.3M501.0 73.9V74.5M502.9 32.7V45.9M502.9 72.9V85.9M505.1 36.5V41.9M505.1 73.3V82.1M507.0 36.5V41.4M507.0 72.4V74.5M508.0 36.5V46.0M508.0 71.3V82.1M509.3 36.5V41.3M509.3 70.6V82.1M510.9 36.5V42.3M510.9 72.7V82.1M513.1 74.1V74.5M515.3 36.5V43.6M515.3 73.3V82.1M516.6 40.3V45.2M516.6 70.9V78.3M518.5 71.5V74.5M519.5 36.5V42.5M519.5 74.4V82.1M520.5 40.3V44.0M520.5 74.5V85.9M521.8 36.5V46.6M521.8 71.7V85.9M523.7 40.3V41.5M523.7 74.9V78.3M525.6 36.5V44.7M525.6 73.1V74.5M527.2 36.5V46.7M527.2 71.0V89.7M528.5 32.7V43.5M528.5 70.5V85.9M530.4 40.3V43.1M530.4 72.8V89.7M531.7 32.7V45.0M531.7 72.5V89.7M533.6 40.3V46.9M533.6 72.4V74.5M535.2 36.5V41.9M535.2 75.3V89.7M537.4 40.3V45.1M537.4 74.8V78.3M538.7 32.7V46.8M538.7 71.7V85.9M539.7 32.7V42.6M539.7 74.9V85.9M541.0 36.5V42.8M541.0 73.5V85.9M542.9 32.7V41.3M542.9 70.9V85.9M544.5 32.7V44.6M544.5 72.1V78.3M545.5 44.1V46.8M545.5 71.7V85.9M547.1 40.3V42.1M547.1 71.0V82.1M548.4 40.3V46.8M548.4 73.5V78.3M550.3 40.3V44.7M550.3 73.8V74.5M551.9 44.1V44.8M552.9 36.5V43.9M553.9 74.9V82.1M555.8 36.5V47.0M555.8 71.8V74.5M557.1 36.5V41.5M557.1 75.9V85.9M558.1 36.5V41.6M558.1 73.0V85.9M559.4 36.5V43.8M559.4 74.6V82.1M561.3 21.3V41.1M561.3 73.3V97.3M562.6 28.9V45.6M562.6 75.1V93.5M564.5 25.1V47.0M564.5 71.6V97.3M566.7 32.7V44.3M566.7 75.9V82.1M568.9 36.5V41.4M568.9 73.3V85.9M573.0 73.6V74.5M575.2 36.5V43.9M575.2 72.1V78.3M577.4 40.3V44.5M577.4 74.4V82.1M579.3 36.5V46.1M579.3 73.0V85.9M580.6 36.5V45.3M580.6 70.9V82.1M581.9 25.1V44.0M581.9 73.1V89.7M582.9 25.1V44.7M582.9 71.7V89.7M584.8 28.9V46.7M584.8 76.1V93.5M586.7 36.5V42.7M586.7 73.4V78.3M588.3 36.5V42.5M588.3 72.4V78.3M590.2 36.5V44.7M590.2 76.0V82.1M592.1 40.3V44.0M592.1 74.6V82.1M593.7 71.7V82.1M594.7 70.9V74.5M595.7 72.4V74.5M597.3 40.3V42.2M597.3 72.7V82.1M598.3 40.3V44.8M598.3 73.3V82.1M599.6 36.5V42.1M599.6 73.9V82.1M601.5 32.7V41.7M601.5 75.0V78.3M602.8 32.7V41.3M602.8 72.0V74.5M603.8 36.5V45.1M603.8 76.0V78.3M605.4 36.5V44.2M605.4 71.7V82.1M607.0 32.7V44.5M607.0 75.1V82.1M608.0 40.3V45.0M608.0 73.4V85.9M609.0 74.5V85.9M610.9 40.3V41.5M610.9 71.1V82.1M613.1 40.3V46.1M613.1 71.3V82.1M614.1 72.6V78.3M615.1 44.1V46.0M615.1 74.6V85.9M616.4 36.5V45.8M616.4 72.6V74.5M618.0 36.5V44.8M618.0 71.4V85.9M619.9 40.3V43.6M619.9 73.6V82.1M622.1 40.3V46.8M622.1 72.0V78.3M623.7 32.7V41.2M623.7 75.1V82.1M625.0 32.7V45.7M625.0 71.9V78.3M626.3 73.7V82.1M628.5 40.3V41.9M628.5 72.9V78.3M629.8 36.5V42.9M629.8 71.4V78.3M631.7 40.3V42.6M631.7 70.6V78.3M633.3 40.3V46.0M633.3 71.0V82.1M635.2 36.5V46.6M637.4 40.3V41.4M638.4 40.3V41.0M638.4 74.7V78.3M640.3 40.3V42.4M640.3 74.2V85.9M641.9 36.5V46.0M641.9 73.1V74.5M643.8 32.7V46.0M643.8 74.5V78.3M644.8 40.3V41.1M644.8 71.4V78.3M646.4 40.3V44.4M646.4 73.2V82.1M648.0 40.3V44.1M648.0 71.5V85.9M649.3 44.1V45.1M649.3 72.6V85.9M650.9 36.5V46.4M650.9 74.6V78.3M652.5 40.3V46.4M652.5 70.6V74.5M653.8 40.3V45.0M653.8 72.7V74.5M655.1 40.3V46.7M655.1 71.5V85.9M656.4 40.3V40.9M656.4 71.8V85.9M658.0 36.5V41.7M658.0 75.1V78.3M659.0 40.3V44.2M659.0 73.1V89.7M660.3 36.5V45.3M660.3 72.7V78.3M661.3 40.3V41.1M661.3 73.8V85.9M663.5 40.3V41.6M663.5 73.5V74.5M665.1 40.3V46.7M665.1 75.1V82.1M667.3 32.7V42.8M667.3 74.3V78.3M669.5 32.7V43.2M669.5 75.1V89.7M671.7 40.3V44.0M671.7 74.0V74.5M673.6 40.3V44.2M673.6 75.8V78.3M675.2 36.5V46.8M675.2 71.2V78.3M676.5 32.7V43.7M676.5 74.7V82.1M678.1 36.5V46.0M678.1 74.1V82.1M679.1 44.1V44.5M679.1 71.7V78.3M681.0 36.5V46.1M681.0 74.4V82.1" stroke="#c6c6c6" stroke-width="0.65" fill="none" stroke-dasharray="1.8 0.9"/><path d="M4.0 55.5H6.3M7.3 55.5H8.9M11.1 55.5H15.2M16.5 55.5H29.9M30.9 55.5H38.4M40.6 55.5H72.8M74.1 55.5H80.5M82.4 55.5H113.5M115.1 55.5H128.4M130.3 55.5H133.5M135.7 55.5H144.3M146.5 55.5H172.4M173.7 55.5H183.3M185.5 55.5H203.6M205.5 55.5H238.1M240.0 55.5H241.0M242.6 55.5H258.8M259.8 55.5H267.2M268.5 55.5H287.3M288.3 55.5H309.6M311.5 55.5H327.0M329.2 55.5H342.7M344.3 55.5H364.1M365.1 55.5H392.4M393.4 55.5H407.4M408.4 55.5H430.3M432.5 55.5H433.8M435.4 55.5H439.8M441.7 55.5H444.6M446.8 55.5H461.2M463.4 55.5H474.5M475.8 55.5H478.0M479.6 55.5H485.0M486.9 55.5H497.8M499.4 55.5H507.0M508.0 55.5H510.9M513.1 55.5H519.5M520.5 55.5H523.7M525.6 55.5H545.5M547.1 55.5H557.1M558.1 55.5H580.6M581.9 55.5H584.8M586.7 55.5H613.1M614.1 55.5H628.5M629.8 55.5H638.4M640.3 55.5H641.9M643.8 55.5H648.0M649.3 55.5H650.9M652.5 55.5H660.3M661.3 55.5H669.5M671.7 55.5H675.2M676.5 55.5H681.5M4.0 59.3H5.0M6.3 59.3H18.7M19.7 59.3H57.8M59.1 59.3H62.0M63.9 59.3H66.1M67.7 59.3H69.9M70.9 59.3H74.1M75.1 59.3H85.9M86.9 59.3H90.4M94.2 59.3H120.2M122.1 59.3H144.3M146.5 59.3H172.4M175.3 59.3H178.2M180.1 59.3H213.5M214.8 59.3H217.7M219.6 59.3H231.4M235.2 59.3H259.8M262.0 59.3H321.8M324.0 59.3H325.0M326.0 59.3H329.2M330.5 59.3H344.3M345.9 59.3H390.8M392.4 59.3H407.4M408.4 59.3H433.8M435.4 59.3H444.6M448.4 59.3H495.2M496.5 59.3H499.4M501.0 59.3H507.0M508.0 59.3H516.6M518.5 59.3H547.1M548.4 59.3H564.5M566.7 59.3H573.0M575.2 59.3H595.7M597.3 59.3H599.6M601.5 59.3H608.0M609.0 59.3H667.3M669.5 59.3H681.5M4.0 63.1H11.1M13.3 63.1H31.9M34.8 63.1H37.1M40.6 63.1H66.1M67.7 63.1H75.1M76.7 63.1H122.1M124.3 63.1H130.3M131.6 63.1H149.4M151.0 63.1H166.7M168.9 63.1H172.4M175.3 63.1H176.9M178.2 63.1H194.1M198.2 63.1H203.6M205.5 63.1H211.3M213.5 63.1H235.2M236.5 63.1H255.0M258.8 63.1H296.2M298.4 63.1H303.5M304.8 63.1H309.6M311.5 63.1H317.0M319.2 63.1H330.5M331.5 63.1H337.9M339.8 63.1H364.1M367.0 63.1H400.7M402.6 63.1H411.3M412.3 63.1H416.8M418.1 63.1H421.0M422.6 63.1H461.2M463.4 63.1H483.1M485.0 63.1H495.2M496.5 63.1H530.4M531.7 63.1H533.6M535.2 63.1H550.3M551.9 63.1H582.9M584.8 63.1H602.8M603.8 63.1H681.5M4.0 66.9H5.0M6.3 66.9H19.7M21.6 66.9H33.2M34.8 66.9H67.7M69.9 66.9H75.1M78.6 66.9H94.2M95.5 66.9H144.3M148.4 66.9H166.7M168.9 66.9H172.4M173.7 66.9H176.9M178.2 66.9H181.7M183.3 66.9H198.2M200.1 66.9H202.0M205.5 66.9H231.4M235.2 66.9H249.6M251.2 66.9H267.2M268.5 66.9H291.8M294.0 66.9H313.8M315.7 66.9H326.0M327.0 66.9H342.7M344.3 66.9H345.9M348.1 66.9H352.6M354.5 66.9H355.5M361.2 66.9H407.4M408.4 66.9H418.1M421.0 66.9H430.3M432.5 66.9H433.8M435.4 66.9H437.6M439.8 66.9H444.6M446.8 66.9H468.2M470.1 66.9H485.0M486.9 66.9H488.8M491.0 66.9H508.0M509.3 66.9H530.4M531.7 66.9H541.0M542.9 66.9H552.9M553.9 66.9H566.7M568.9 66.9H581.9M582.9 66.9H592.1M593.7 66.9H594.7M595.7 66.9H599.6M601.5 66.9H619.9M622.1 66.9H629.8M631.7 66.9H640.3M641.9 66.9H644.8M646.4 66.9H655.1M656.4 66.9H663.5M665.1 66.9H681.5M5.0 51.7H16.5M18.7 51.7H26.4M27.7 51.7H37.1M38.4 51.7H59.1M63.9 51.7H76.7M78.6 51.7H88.8M92.6 51.7H111.9M113.5 51.7H144.3M146.5 51.7H149.4M151.0 51.7H171.1M172.4 51.7H173.7M175.3 51.7H186.8M189.0 51.7H192.8M194.1 51.7H198.2M200.1 51.7H203.6M207.1 51.7H233.0M235.2 51.7H258.8M259.8 51.7H281.0M283.2 51.7H296.2M298.4 51.7H331.5M332.8 51.7H337.9M339.8 51.7H344.3M345.9 51.7H354.5M355.5 51.7H437.6M441.7 51.7H492.9M494.2 51.7H538.7M541.0 51.7H544.5M545.5 51.7H550.3M551.9 51.7H561.3M562.6 51.7H575.2M577.4 51.7H581.9M582.9 51.7H618.0M619.9 51.7H638.4M640.3 51.7H641.9M643.8 51.7H650.9M652.5 51.7H658.0M659.0 51.7H673.6M675.2 51.7H676.5M678.1 51.7H679.1M681.0 51.7H681.5M13.3 47.9H19.7M21.6 47.9H43.2M44.8 47.9H46.7M48.0 47.9H52.1M54.3 47.9H62.0M66.1 47.9H76.7M84.6 47.9H85.9M92.6 47.9H107.5M109.7 47.9H113.5M115.1 47.9H130.3M131.6 47.9H144.3M146.5 47.9H148.4M149.4 47.9H171.1M175.3 47.9H183.3M185.5 47.9H194.1M198.2 47.9H202.0M207.1 47.9H217.7M219.6 47.9H228.2M229.5 47.9H231.4M238.1 47.9H241.0M242.6 47.9H256.6M259.8 47.9H269.8M271.7 47.9H289.6M294.0 47.9H319.2M320.2 47.9H339.8M341.4 47.9H342.7M345.9 47.9H379.5M381.1 47.9H395.6M396.6 47.9H398.5M400.7 47.9H411.3M412.3 47.9H456.7M458.3 47.9H463.4M466.0 47.9H492.9M494.2 47.9H508.0M509.3 47.9H518.5M519.5 47.9H577.4M579.3 47.9H584.8M586.7 47.9H594.7M595.7 47.9H608.0M609.0 47.9H681.5M13.3 70.7H18.7M21.6 70.7H24.5M26.4 70.7H50.2M52.1 70.7H54.3M56.2 70.7H57.8M59.1 70.7H62.0M63.9 70.7H67.7M70.9 70.7H75.1M76.7 70.7H78.6M82.4 70.7H85.9M86.9 70.7H118.6M120.2 70.7H144.3M146.5 70.7H149.4M152.3 70.7H160.6M162.2 70.7H165.7M166.7 70.7H171.1M175.3 70.7H194.1M198.2 70.7H202.0M207.1 70.7H231.4M236.5 70.7H244.5M245.5 70.7H262.0M263.6 70.7H267.2M268.5 70.7H269.8M273.3 70.7H283.2M285.1 70.7H289.6M291.8 70.7H294.0M296.2 70.7H311.5M312.8 70.7H319.2M320.2 70.7H324.0M325.0 70.7H342.7M344.3 70.7H348.1M350.0 70.7H357.1M359.0 70.7H362.5M364.1 70.7H365.1M367.0 70.7H387.9M389.8 70.7H392.4M393.4 70.7H403.9M405.2 70.7H413.6M414.9 70.7H437.6M439.8 70.7H464.4M466.0 70.7H474.5M478.0 70.7H483.1M485.0 70.7H486.9M488.8 70.7H496.5M497.8 70.7H518.5M519.5 70.7H521.8M523.7 70.7H539.7M541.0 70.7H571.1M573.0 70.7H575.2M577.4 70.7H595.7M597.3 70.7H616.4M618.0 70.7H619.9M622.1 70.7H626.3M628.5 70.7H631.7M633.3 70.7H637.4M638.4 70.7H653.8M655.1 70.7H669.5M671.7 70.7H681.5M13.3 74.5H15.2M21.6 74.5H22.6M26.4 74.5H27.7M29.9 74.5H30.9M37.1 74.5H40.6M42.2 74.5H43.2M44.8 74.5H46.7M56.2 74.5H57.8M59.1 74.5H60.1M62.0 74.5H67.7M70.9 74.5H74.1M90.4 74.5H97.7M99.6 74.5H101.5M103.4 74.5H107.5M111.9 74.5H113.5M117.3 74.5H118.6M126.2 74.5H130.3M131.6 74.5H133.5M140.8 74.5H142.1M146.5 74.5H151.0M154.2 74.5H160.6M162.2 74.5H164.1M165.7 74.5H166.7M168.9 74.5H171.1M178.2 74.5H180.1M183.3 74.5H185.5M189.0 74.5H192.8M207.1 74.5H211.3M213.5 74.5H214.8M219.6 74.5H225.0M228.2 74.5H229.5M236.5 74.5H240.0M241.0 74.5H242.6M244.5 74.5H245.5M247.4 74.5H252.8M255.0 74.5H258.8M259.8 74.5H268.5M269.8 74.5H271.7M280.0 74.5H285.1M287.3 74.5H289.6M296.2 74.5H298.4M299.4 74.5H303.5M309.6 74.5H312.8M313.8 74.5H317.0M321.8 74.5H324.0M325.0 74.5H330.5M331.5 74.5H339.8M341.4 74.5H342.7M345.9 74.5H361.2M362.5 74.5H369.6M370.9 74.5H398.5M400.7 74.5H430.3M432.5 74.5H439.8M441.7 74.5H451.0M453.2 74.5H458.3M460.2 74.5H474.5M479.6 74.5H486.9M488.8 74.5H491.0M492.9 74.5H510.9M513.1 74.5H538.7M539.7 74.5H555.8M557.1 74.5H571.1M573.0 74.5H588.3M590.2 74.5H594.7M597.3 74.5H626.3M628.5 74.5H643.8M644.8 74.5H650.9M652.5 74.5H659.0M660.3 74.5H661.3M663.5 74.5H665.1M667.3 74.5H678.1M679.1 74.5H681.5M15.2 44.1H16.5M27.7 44.1H31.9M37.1 44.1H42.2M43.2 44.1H44.8M52.1 44.1H56.2M60.1 44.1H63.9M69.9 44.1H70.9M88.8 44.1H90.4M92.6 44.1H95.5M99.6 44.1H101.5M103.4 44.1H111.9M113.5 44.1H117.3M124.3 44.1H130.3M133.5 44.1H135.7M140.8 44.1H144.3M146.5 44.1H151.0M155.8 44.1H160.6M162.2 44.1H164.1M178.2 44.1H180.1M181.7 44.1H186.8M189.0 44.1H190.9M192.8 44.1H194.1M198.2 44.1H202.0M208.1 44.1H209.7M213.5 44.1H219.6M241.0 44.1H242.6M245.5 44.1H249.6M251.2 44.1H252.8M259.8 44.1H262.0M263.6 44.1H268.5M275.5 44.1H276.5M278.7 44.1H283.2M285.1 44.1H289.6M299.4 44.1H301.3M303.5 44.1H306.4M307.4 44.1H309.6M317.0 44.1H319.2M320.2 44.1H324.0M326.0 44.1H330.5M335.0 44.1H336.0M337.9 44.1H339.8M341.4 44.1H342.7M345.9 44.1H367.0M368.0 44.1H375.7M377.3 44.1H379.5M381.1 44.1H387.9M389.8 44.1H393.4M395.6 44.1H402.6M403.9 44.1H424.9M426.8 44.1H439.8M441.7 44.1H446.8M448.4 44.1H475.8M478.0 44.1H492.9M494.2 44.1H499.4M501.0 44.1H518.5M519.5 44.1H520.5M523.7 44.1H528.5M530.4 44.1H537.4M538.7 44.1H541.0M542.9 44.1H544.5M545.5 44.1H571.1M575.2 44.1H580.6M581.9 44.1H588.3M590.2 44.1H594.7M597.3 44.1H643.8M644.8 44.1H665.1M667.3 44.1H681.5M22.6 78.3H24.5M33.2 78.3H34.8M38.4 78.3H42.2M48.0 78.3H50.2M63.9 78.3H66.1M101.5 78.3H105.3M111.9 78.3H113.5M118.6 78.3H120.2M124.3 78.3H126.2M130.3 78.3H131.6M139.5 78.3H140.8M162.2 78.3H164.1M165.7 78.3H166.7M168.9 78.3H171.1M176.9 78.3H183.3M185.5 78.3H186.8M189.0 78.3H192.8M198.2 78.3H200.1M209.7 78.3H211.3M214.8 78.3H216.7M219.6 78.3H221.8M228.2 78.3H229.5M242.6 78.3H244.5M255.0 78.3H256.6M267.2 78.3H271.7M273.3 78.3H275.5M280.0 78.3H283.2M288.3 78.3H289.6M294.0 78.3H296.2M304.8 78.3H306.4M307.4 78.3H312.8M321.8 78.3H324.0M331.5 78.3H332.8M335.0 78.3H339.8M341.4 78.3H342.7M350.0 78.3H354.5M355.5 78.3H359.0M361.2 78.3H362.5M364.1 78.3H365.1M367.0 78.3H368.0M369.6 78.3H370.9M372.5 78.3H374.7M382.4 78.3H385.0M389.8 78.3H390.8M402.6 78.3H403.9M405.2 78.3H408.4M409.4 78.3H411.3M414.9 78.3H416.8M418.1 78.3H419.4M422.6 78.3H424.9M426.8 78.3H429.0M432.5 78.3H435.4M443.3 78.3H444.6M451.0 78.3H453.2M470.1 78.3H475.8M478.0 78.3H479.6M483.1 78.3H486.9M491.0 78.3H492.9M495.2 78.3H501.0M502.9 78.3H505.1M509.3 78.3H510.9M528.5 78.3H530.4M531.7 78.3H533.6M545.5 78.3H548.4M553.9 78.3H555.8M557.1 78.3H558.1M562.6 78.3H571.1M575.2 78.3H579.3M580.6 78.3H582.9M584.8 78.3H586.7M605.4 78.3H607.0M613.1 78.3H614.1M615.1 78.3H616.4M623.7 78.3H625.0M629.8 78.3H631.7M640.3 78.3H641.9M643.8 78.3H646.4M656.4 78.3H658.0M659.0 78.3H660.3M661.3 78.3H663.5M673.6 78.3H678.1M679.1 78.3H681.0M103.4 82.1H107.5M118.6 82.1H120.2M151.0 82.1H152.3M181.7 82.1H183.3M185.5 82.1H189.0M192.8 82.1H194.1M264.6 82.1H265.9M268.5 82.1H271.7M273.3 82.1H275.5M281.0 82.1H285.1M301.3 82.1H303.5M304.8 82.1H306.4M311.5 82.1H312.8M315.7 82.1H317.0M330.5 82.1H332.8M341.4 82.1H342.7M345.9 82.1H348.1M351.3 82.1H354.5M359.0 82.1H361.2M365.1 82.1H367.0M372.5 82.1H374.7M375.7 82.1H377.3M383.4 82.1H385.0M408.4 82.1H409.4M413.6 82.1H416.8M419.4 82.1H421.0M422.6 82.1H424.9M432.5 82.1H435.4M449.4 82.1H451.0M486.9 82.1H488.8M495.2 82.1H496.5M497.8 82.1H499.4M505.1 82.1H507.0M508.0 82.1H513.1M519.5 82.1H520.5M521.8 82.1H523.7M527.2 82.1H531.7M535.2 82.1H537.4M538.7 82.1H539.7M542.9 82.1H544.5M545.5 82.1H548.4M553.9 82.1H555.8M559.4 82.1H564.5M580.6 82.1H581.9M592.1 82.1H593.7M597.3 82.1H599.6M605.4 82.1H607.0M609.0 82.1H613.1M615.1 82.1H616.4M618.0 82.1H622.1M623.7 82.1H625.0M633.3 82.1H635.2M646.4 82.1H649.3M655.1 82.1H658.0M659.0 82.1H660.3M665.1 82.1H667.3M678.1 82.1H679.1M130.3 40.3H131.6M151.0 40.3H152.3M159.0 40.3H160.6M176.9 40.3H183.3M186.8 40.3H190.9M213.5 40.3H214.8M249.6 40.3H251.2M264.6 40.3H265.9M269.8 40.3H271.7M273.3 40.3H275.5M303.5 40.3H317.0M330.5 40.3H331.5M332.8 40.3H335.0M339.8 40.3H341.4M351.3 40.3H352.6M355.5 40.3H357.1M362.5 40.3H367.0M369.6 40.3H370.9M374.7 40.3H375.7M383.4 40.3H385.0M389.8 40.3H392.4M393.4 40.3H395.6M402.6 40.3H403.9M405.2 40.3H408.4M411.3 40.3H412.3M413.6 40.3H416.8M419.4 40.3H424.9M426.8 40.3H432.5M433.8 40.3H437.6M444.6 40.3H446.8M453.2 40.3H461.2M466.0 40.3H468.2M470.1 40.3H472.3M475.8 40.3H478.0M483.1 40.3H486.9M491.0 40.3H492.9M494.2 40.3H495.2M497.8 40.3H499.4M507.0 40.3H509.3M510.9 40.3H513.1M516.6 40.3H518.5M520.5 40.3H521.8M531.7 40.3H538.7M539.7 40.3H544.5M550.3 40.3H551.9M558.1 40.3H559.4M561.3 40.3H564.5M568.9 40.3H571.1M575.2 40.3H577.4M579.3 40.3H584.8M590.2 40.3H592.1M598.3 40.3H601.5M603.8 40.3H605.4M608.0 40.3H609.0M616.4 40.3H619.9M625.0 40.3H626.3M628.5 40.3H629.8M631.7 40.3H643.8M644.8 40.3H648.0M650.9 40.3H653.8M658.0 40.3H663.5M667.3 40.3H675.2M676.5 40.3H679.1M180.1 36.5H181.7M271.7 36.5H275.5M299.4 36.5H303.5M354.5 36.5H355.5M390.8 36.5H392.4M396.6 36.5H398.5M402.6 36.5H405.2M407.4 36.5H408.4M409.4 36.5H411.3M412.3 36.5H413.6M416.8 36.5H418.1M419.4 36.5H421.0M423.6 36.5H424.9M429.0 36.5H430.3M432.5 36.5H435.4M444.6 36.5H446.8M449.4 36.5H451.0M466.0 36.5H468.2M485.0 36.5H491.0M505.1 36.5H507.0M508.0 36.5H510.9M515.3 36.5H516.6M521.8 36.5H523.7M525.6 36.5H527.2M535.2 36.5H537.4M558.1 36.5H559.4M561.3 36.5H566.7M568.9 36.5H571.1M575.2 36.5H577.4M586.7 36.5H592.1M601.5 36.5H602.8M603.8 36.5H608.0M616.4 36.5H618.0M629.8 36.5H631.7M658.0 36.5H659.0M660.3 36.5H661.3M667.3 36.5H671.7M676.5 36.5H679.1M271.7 28.9H275.5M352.6 28.9H355.5M561.3 28.9H564.5M581.9 28.9H586.7M271.7 85.9H273.3M301.3 85.9H303.5M330.5 85.9H331.5M350.0 85.9H352.6M396.6 85.9H398.5M402.6 85.9H403.9M414.9 85.9H416.8M421.0 85.9H424.9M435.4 85.9H437.6M449.4 85.9H451.0M497.8 85.9H499.4M520.5 85.9H521.8M527.2 85.9H528.5M531.7 85.9H533.6M535.2 85.9H537.4M539.7 85.9H541.0M561.3 85.9H562.6M568.9 85.9H571.1M581.9 85.9H584.8M608.0 85.9H610.9M656.4 85.9H658.0M659.0 85.9H660.3M661.3 85.9H663.5M669.5 85.9H671.7M273.3 32.7H275.5M354.5 32.7H355.5M407.4 32.7H408.4M423.6 32.7H424.9M488.8 32.7H492.9M502.9 32.7H505.1M528.5 32.7H530.4M531.7 32.7H533.6M544.5 32.7H545.5M562.6 32.7H566.7M581.9 32.7H582.9M584.8 32.7H586.7M601.5 32.7H602.8M625.0 32.7H626.3M643.8 32.7H644.8M667.3 32.7H671.7M354.5 89.7H355.5M527.2 89.7H528.5M531.7 89.7H533.6M535.2 89.7H537.4M584.8 89.7H586.7M669.5 89.7H671.7M561.3 25.1H562.6M582.9 25.1H584.8M562.6 93.5H564.5M584.8 93.5H586.7M564.5 97.3H566.7" stroke="#c8c8c8" stroke-width="0.65" fill="none"/></g><text x="81.00" y="100.90" font-size="7.8" text-anchor="start" font-weight="normal" fill="#231f20" >Pericentromere</text><line x1="2" y1="102.4" x2="682.4" y2="102.4" stroke="#555" stroke-width="0.9"/><line x1="2.20" y1="102.4" x2="2.20" y2="105.60000000000001" stroke="#444" stroke-width="0.8"/><text x="2.20" y="115.20" font-size="7.8" text-anchor="middle" font-weight="normal" fill="#231f20" >0</text><line x1="117.25" y1="102.4" x2="117.25" y2="105.60000000000001" stroke="#444" stroke-width="0.8"/><text x="117.25" y="115.20" font-size="7.8" text-anchor="middle" font-weight="normal" fill="#231f20" >10</text><line x1="232.30" y1="102.4" x2="232.30" y2="105.60000000000001" stroke="#444" stroke-width="0.8"/><text x="232.30" y="115.20" font-size="7.8" text-anchor="middle" font-weight="normal" fill="#231f20" >20</text><line x1="347.35" y1="102.4" x2="347.35" y2="105.60000000000001" stroke="#444" stroke-width="0.8"/><text x="347.35" y="115.20" font-size="7.8" text-anchor="middle" font-weight="normal" fill="#231f20" >30</text><line x1="462.40" y1="102.4" x2="462.40" y2="105.60000000000001" stroke="#444" stroke-width="0.8"/><text x="462.40" y="115.20" font-size="7.8" text-anchor="middle" font-weight="normal" fill="#231f20" >40</text><line x1="577.45" y1="102.4" x2="577.45" y2="105.60000000000001" stroke="#444" stroke-width="0.8"/><text x="577.45" y="115.20" font-size="7.8" text-anchor="middle" font-weight="normal" fill="#231f20" >50</text><text x="342.00" y="129.00" font-size="7.8" text-anchor="middle" font-weight="normal" fill="#231f20" >Chr. 6 position (Mb)</text><text x="0.00" y="146.20" font-size="10.4" text-anchor="start" font-weight="bold" fill="#000" >b</text><text x="5.00" y="158.00" font-size="8" text-anchor="start" font-weight="normal" fill="#231f20" >Haplotype graph (nodes highlighted when matched by <tspan font-style="italic">k</tspan>-mers from short reads)</text><rect x="76.4" y="166.3" width="329.1" height="75.9" fill="#f5f5f5" stroke="#a8a8a8" stroke-width="0.6" stroke-dasharray="4.2 2.8"/><use href="#hgf" transform="translate(0 140)"/><rect x="520" y="176" width="29.8" height="73" fill="#acacac"/><use href="#hg" transform="translate(0 140)"/><line x1="10.3" y1="188" x2="10.3" y2="199.3" stroke="#5a5a5a" stroke-width="0.72"/><line x1="37.2" y1="203" x2="37.2" y2="210.5" stroke="#5a5a5a" stroke-width="0.72"/><line x1="24.4" y1="195.6" x2="24.4" y2="199.3" stroke="#5a5a5a" stroke-width="0.72"/><line x1="95.1" y1="203" x2="95.1" y2="206.8" stroke="#2a2a2a" stroke-width="1.44"/><line x1="123.4" y1="199.3" x2="123.4" y2="206.8" stroke="#5a5a5a" stroke-width="0.72"/><line x1="133.3" y1="203" x2="133.3" y2="210.5" stroke="#5a5a5a" stroke-width="0.72"/><line x1="145.1" y1="191.9" x2="145.1" y2="214.5" stroke="#5a5a5a" stroke-width="0.63"/><line x1="169.9" y1="188" x2="169.9" y2="206.8" stroke="#5a5a5a" stroke-width="0.63"/><line x1="175.9" y1="199.3" x2="175.9" y2="206.8" stroke="#2a2a2a" stroke-width="1.44"/><line x1="281.3" y1="184.3" x2="281.3" y2="210.5" stroke="#5a5a5a" stroke-width="0.72"/><line x1="308.9" y1="191.9" x2="308.9" y2="214.5" stroke="#5a5a5a" stroke-width="0.81"/><line x1="314.4" y1="191.9" x2="314.4" y2="206.8" stroke="#5a5a5a" stroke-width="0.81"/><line x1="323.7" y1="199.3" x2="323.7" y2="206.8" stroke="#5a5a5a" stroke-width="0.72"/><line x1="345.7" y1="195.6" x2="345.7" y2="214.5" stroke="#5a5a5a" stroke-width="0.72"/><line x1="383.9" y1="184.3" x2="383.9" y2="210.5" stroke="#2a2a2a" stroke-width="1.44"/><line x1="324.3" y1="199.3" x2="324.3" y2="203" stroke="#5a5a5a" stroke-width="0.72"/><line x1="328.7" y1="199.3" x2="328.7" y2="203" stroke="#5a5a5a" stroke-width="0.72"/><line x1="416.1" y1="184.3" x2="416.1" y2="191.9" stroke="#5a5a5a" stroke-width="0.63"/><line x1="415.5" y1="199.3" x2="415.5" y2="214.5" stroke="#5a5a5a" stroke-width="0.63"/><line x1="516.6" y1="184.3" x2="516.6" y2="199.3" stroke="#5a5a5a" stroke-width="0.63"/><line x1="513.3" y1="199.3" x2="513.3" y2="206.8" stroke="#5a5a5a" stroke-width="0.72"/><line x1="561.6" y1="188" x2="561.6" y2="191.9" stroke="#5a5a5a" stroke-width="0.63"/><line x1="623.9" y1="188" x2="623.9" y2="206.8" stroke="#5a5a5a" stroke-width="0.72"/><line x1="606.9" y1="206.8" x2="606.9" y2="214.5" stroke="#5a5a5a" stroke-width="0.81"/><line x1="637.9" y1="203" x2="637.9" y2="210.5" stroke="#5a5a5a" stroke-width="0.72"/><line x1="653.6" y1="188" x2="653.6" y2="214.5" stroke="#5a5a5a" stroke-width="0.72"/><line x1="674.2" y1="195.6" x2="674.2" y2="203" stroke="#5a5a5a" stroke-width="0.72"/><line x1="47.5" y1="184.3" x2="62.0" y2="184.3" stroke="#7ea01c" stroke-width="1.5"/><line x1="68.2" y1="184.3" x2="78.4" y2="184.3" stroke="#7ea01c" stroke-width="1.5"/><line x1="127.8" y1="184.3" x2="130.2" y2="184.3" stroke="#f0c44c" stroke-width="1.5"/><line x1="158.2" y1="184.3" x2="159.4" y2="184.3" stroke="#7ea01c" stroke-width="1.5"/><line x1="159.4" y1="184.3" x2="165.6" y2="184.3" stroke="#f0c44c" stroke-width="1.5"/><line x1="189.2" y1="184.3" x2="191.0" y2="184.3" stroke="#f0c44c" stroke-width="1.5"/><line x1="191.0" y1="184.3" x2="192.5" y2="184.3" stroke="#7ea01c" stroke-width="1.5"/><line x1="221.4" y1="184.3" x2="224.5" y2="184.3" stroke="#7ea01c" stroke-width="1.5"/><line x1="238.2" y1="184.3" x2="241.0" y2="184.3" stroke="#7ea01c" stroke-width="1.5"/><line x1="244.3" y1="184.3" x2="246.2" y2="184.3" stroke="#f0c44c" stroke-width="1.5"/><line x1="259.2" y1="184.3" x2="263.8" y2="184.3" stroke="#7ea01c" stroke-width="1.5"/><line x1="266.0" y1="184.3" x2="269.8" y2="184.3" stroke="#7ea01c" stroke-width="1.5"/><line x1="280.3" y1="184.3" x2="281.6" y2="184.3" stroke="#7ea01c" stroke-width="1.5"/><line x1="281.6" y1="184.3" x2="282.8" y2="184.3" stroke="#f0c44c" stroke-width="1.5"/><line x1="302.0" y1="184.3" x2="307.6" y2="184.3" stroke="#7ea01c" stroke-width="1.5"/><line x1="376.8" y1="184.3" x2="382.7" y2="184.3" stroke="#7ea01c" stroke-width="1.5"/><line x1="384.5" y1="184.3" x2="391.3" y2="184.3" stroke="#7ea01c" stroke-width="1.5"/><line x1="394.2" y1="184.3" x2="415.5" y2="184.3" stroke="#7ea01c" stroke-width="1.5"/><line x1="415.5" y1="184.3" x2="416.7" y2="184.3" stroke="#f0c44c" stroke-width="1.5"/><line x1="418.4" y1="184.3" x2="420.5" y2="184.3" stroke="#7ea01c" stroke-width="1.5"/><line x1="483.7" y1="184.3" x2="486.8" y2="184.3" stroke="#7ea01c" stroke-width="1.5"/><line x1="494.9" y1="184.3" x2="509.8" y2="184.3" stroke="#7ea01c" stroke-width="1.5"/><line x1="511.0" y1="184.3" x2="517.0" y2="184.3" stroke="#7ea01c" stroke-width="1.5"/><line x1="542.0" y1="184.3" x2="550.1" y2="184.3" stroke="#7ea01c" stroke-width="1.5"/><line x1="568.7" y1="184.3" x2="578.0" y2="184.3" stroke="#7ea01c" stroke-width="1.5"/><line x1="592.0" y1="184.3" x2="601.6" y2="184.3" stroke="#7ea01c" stroke-width="1.5"/><line x1="603.2" y1="184.3" x2="619.2" y2="184.3" stroke="#7ea01c" stroke-width="1.5"/><line x1="623.0" y1="184.3" x2="624.2" y2="184.3" stroke="#7ea01c" stroke-width="1.5"/><line x1="639.1" y1="184.3" x2="660.8" y2="184.3" stroke="#7ea01c" stroke-width="1.5"/><line x1="7.2" y1="188.0" x2="10.5" y2="188.0" stroke="#f0c44c" stroke-width="1.5"/><line x1="10.5" y1="188.0" x2="19.9" y2="188.0" stroke="#f44b10" stroke-width="1.5"/><line x1="24.2" y1="188.0" x2="45.7" y2="188.0" stroke="#7ea01c" stroke-width="1.5"/><line x1="70.1" y1="188.0" x2="76.3" y2="188.0" stroke="#f0c44c" stroke-width="1.5"/><line x1="140.8" y1="188.0" x2="143.9" y2="188.0" stroke="#7ea01c" stroke-width="1.5"/><line x1="168.9" y1="188.0" x2="170.5" y2="188.0" stroke="#7ea01c" stroke-width="1.5"/><line x1="246.8" y1="188.0" x2="248.7" y2="188.0" stroke="#7ea01c" stroke-width="1.5"/><line x1="255.9" y1="188.0" x2="258.0" y2="188.0" stroke="#7ea01c" stroke-width="1.5"/><line x1="272.0" y1="188.0" x2="275.0" y2="188.0" stroke="#7ea01c" stroke-width="1.5"/><line x1="276.6" y1="188.0" x2="278.7" y2="188.0" stroke="#f0c44c" stroke-width="1.5"/><line x1="299.3" y1="188.0" x2="301.8" y2="188.0" stroke="#7ea01c" stroke-width="1.5"/><line x1="325.0" y1="188.0" x2="326.8" y2="188.0" stroke="#7ea01c" stroke-width="1.5"/><line x1="350.1" y1="188.0" x2="353.5" y2="188.0" stroke="#7ea01c" stroke-width="1.5"/><line x1="368.8" y1="188.0" x2="375.2" y2="188.0" stroke="#7ea01c" stroke-width="1.5"/><line x1="399.8" y1="188.0" x2="411.8" y2="188.0" stroke="#7ea01c" stroke-width="1.5"/><line x1="454.0" y1="188.0" x2="466.0" y2="188.0" stroke="#7ea01c" stroke-width="1.5"/><line x1="529.6" y1="188.0" x2="551.3" y2="188.0" stroke="#7ea01c" stroke-width="1.5"/><line x1="557.5" y1="188.0" x2="561.9" y2="188.0" stroke="#f0c44c" stroke-width="1.5"/><line x1="586.0" y1="188.0" x2="589.5" y2="188.0" stroke="#7ea01c" stroke-width="1.5"/><line x1="597.2" y1="188.0" x2="600.0" y2="188.0" stroke="#7ea01c" stroke-width="1.5"/><line x1="622.0" y1="188.0" x2="654.0" y2="188.0" stroke="#7ea01c" stroke-width="1.5"/><line x1="654.0" y1="188.0" x2="654.8" y2="188.0" stroke="#f0c44c" stroke-width="1.5"/><line x1="654.8" y1="188.0" x2="673.2" y2="188.0" stroke="#7ea01c" stroke-width="1.5"/><line x1="42.8" y1="191.9" x2="62.0" y2="191.9" stroke="#7ea01c" stroke-width="1.5"/><line x1="74.2" y1="191.9" x2="77.2" y2="191.9" stroke="#7ea01c" stroke-width="1.5"/><line x1="80.9" y1="191.9" x2="90.9" y2="191.9" stroke="#7ea01c" stroke-width="1.5"/><line x1="144.5" y1="191.9" x2="145.8" y2="191.9" stroke="#f0c44c" stroke-width="1.5"/><line x1="160.0" y1="191.9" x2="163.7" y2="191.9" stroke="#7ea01c" stroke-width="1.5"/><line x1="183.3" y1="191.9" x2="197.8" y2="191.9" stroke="#7ea01c" stroke-width="1.5"/><line x1="201.9" y1="191.9" x2="203.7" y2="191.9" stroke="#f0c44c" stroke-width="1.5"/><line x1="210.9" y1="191.9" x2="212.7" y2="191.9" stroke="#f0c44c" stroke-width="1.5"/><line x1="214.3" y1="191.9" x2="225.5" y2="191.9" stroke="#f0c44c" stroke-width="1.5"/><line x1="275.4" y1="191.9" x2="282.8" y2="191.9" stroke="#7ea01c" stroke-width="1.5"/><line x1="291.5" y1="191.9" x2="292.7" y2="191.9" stroke="#7ea01c" stroke-width="1.5"/><line x1="292.7" y1="191.9" x2="295.8" y2="191.9" stroke="#f0c44c" stroke-width="1.5"/><line x1="303.3" y1="191.9" x2="308.9" y2="191.9" stroke="#f0c44c" stroke-width="1.5"/><line x1="308.9" y1="191.9" x2="310.1" y2="191.9" stroke="#f44b10" stroke-width="1.5"/><line x1="310.1" y1="191.9" x2="314.4" y2="191.9" stroke="#f0c44c" stroke-width="1.5"/><line x1="314.4" y1="191.9" x2="316.7" y2="191.9" stroke="#f44b10" stroke-width="1.5"/><line x1="320.0" y1="191.9" x2="322.2" y2="191.9" stroke="#f0c44c" stroke-width="1.5"/><line x1="348.3" y1="191.9" x2="353.5" y2="191.9" stroke="#7ea01c" stroke-width="1.5"/><line x1="417.1" y1="191.9" x2="435.0" y2="191.9" stroke="#7ea01c" stroke-width="1.5"/><line x1="484.3" y1="191.9" x2="498.6" y2="191.9" stroke="#7ea01c" stroke-width="1.5"/><line x1="561.9" y1="191.9" x2="569.9" y2="191.9" stroke="#7ea01c" stroke-width="1.5"/><line x1="587.3" y1="191.9" x2="589.8" y2="191.9" stroke="#f0c44c" stroke-width="1.5"/><line x1="589.8" y1="191.9" x2="590.8" y2="191.9" stroke="#7ea01c" stroke-width="1.5"/><line x1="619.2" y1="191.9" x2="621.7" y2="191.9" stroke="#7ea01c" stroke-width="1.5"/><line x1="640.0" y1="191.9" x2="642.2" y2="191.9" stroke="#7ea01c" stroke-width="1.5"/><line x1="21.1" y1="195.6" x2="24.0" y2="195.6" stroke="#7ea01c" stroke-width="1.5"/><line x1="84.3" y1="195.6" x2="88.7" y2="195.6" stroke="#f0c44c" stroke-width="1.5"/><line x1="99.2" y1="195.6" x2="107.0" y2="195.6" stroke="#7ea01c" stroke-width="1.5"/><line x1="113.3" y1="195.6" x2="128.8" y2="195.6" stroke="#7ea01c" stroke-width="1.5"/><line x1="135.8" y1="195.6" x2="140.5" y2="195.6" stroke="#f0c44c" stroke-width="1.5"/><line x1="155.0" y1="195.6" x2="158.8" y2="195.6" stroke="#f0c44c" stroke-width="1.5"/><line x1="168.4" y1="195.6" x2="169.9" y2="195.6" stroke="#f0c44c" stroke-width="1.5"/><line x1="173.0" y1="195.6" x2="174.9" y2="195.6" stroke="#7ea01c" stroke-width="1.5"/><line x1="176.1" y1="195.6" x2="180.8" y2="195.6" stroke="#7ea01c" stroke-width="1.5"/><line x1="191.0" y1="195.6" x2="197.8" y2="195.6" stroke="#f0c44c" stroke-width="1.5"/><line x1="205.3" y1="195.6" x2="210.6" y2="195.6" stroke="#f0c44c" stroke-width="1.5"/><line x1="227.0" y1="195.6" x2="228.9" y2="195.6" stroke="#7ea01c" stroke-width="1.5"/><line x1="264.8" y1="195.6" x2="303.9" y2="195.6" stroke="#7ea01c" stroke-width="1.5"/><line x1="331.8" y1="195.6" x2="333.6" y2="195.6" stroke="#f44b10" stroke-width="1.5"/><line x1="345.4" y1="195.6" x2="349.8" y2="195.6" stroke="#7ea01c" stroke-width="1.5"/><line x1="358.2" y1="195.6" x2="364.9" y2="195.6" stroke="#7ea01c" stroke-width="1.5"/><line x1="368.8" y1="195.6" x2="372.7" y2="195.6" stroke="#f0c44c" stroke-width="1.5"/><line x1="412.2" y1="195.6" x2="418.9" y2="195.6" stroke="#7ea01c" stroke-width="1.5"/><line x1="456.1" y1="195.6" x2="459.3" y2="195.6" stroke="#7ea01c" stroke-width="1.5"/><line x1="462.0" y1="195.6" x2="463.9" y2="195.6" stroke="#7ea01c" stroke-width="1.5"/><line x1="517.8" y1="195.6" x2="531.9" y2="195.6" stroke="#7ea01c" stroke-width="1.5"/><line x1="570.9" y1="195.6" x2="582.6" y2="195.6" stroke="#7ea01c" stroke-width="1.5"/><line x1="592.5" y1="195.6" x2="596.0" y2="195.6" stroke="#f0c44c" stroke-width="1.5"/><line x1="596.0" y1="195.6" x2="597.0" y2="195.6" stroke="#7ea01c" stroke-width="1.5"/><line x1="673.0" y1="195.6" x2="675.0" y2="195.6" stroke="#7ea01c" stroke-width="1.5"/><line x1="7.2" y1="199.3" x2="10.2" y2="199.3" stroke="#7ea01c" stroke-width="1.5"/><line x1="21.3" y1="199.3" x2="24.2" y2="199.3" stroke="#7ea01c" stroke-width="1.5"/><line x1="24.8" y1="199.3" x2="65.8" y2="199.3" stroke="#7ea01c" stroke-width="1.5"/><line x1="65.8" y1="199.3" x2="68.0" y2="199.3" stroke="#f0c44c" stroke-width="1.5"/><line x1="114.1" y1="199.3" x2="116.0" y2="199.3" stroke="#7ea01c" stroke-width="1.5"/><line x1="123.2" y1="199.3" x2="130.2" y2="199.3" stroke="#7ea01c" stroke-width="1.5"/><line x1="143.9" y1="199.3" x2="155.9" y2="199.3" stroke="#7ea01c" stroke-width="1.5"/><line x1="166.2" y1="199.3" x2="168.1" y2="199.3" stroke="#7ea01c" stroke-width="1.5"/><line x1="179.9" y1="199.3" x2="184.2" y2="199.3" stroke="#7ea01c" stroke-width="1.5"/><line x1="198.2" y1="199.3" x2="200.7" y2="199.3" stroke="#f0c44c" stroke-width="1.5"/><line x1="212.1" y1="199.3" x2="218.9" y2="199.3" stroke="#7ea01c" stroke-width="1.5"/><line x1="222.7" y1="199.3" x2="232.6" y2="199.3" stroke="#7ea01c" stroke-width="1.5"/><line x1="250.2" y1="199.3" x2="253.0" y2="199.3" stroke="#f0c44c" stroke-width="1.5"/><line x1="266.0" y1="199.3" x2="270.8" y2="199.3" stroke="#f0c44c" stroke-width="1.5"/><line x1="296.1" y1="199.3" x2="298.3" y2="199.3" stroke="#7ea01c" stroke-width="1.5"/><line x1="322.2" y1="199.3" x2="325.6" y2="199.3" stroke="#f0c44c" stroke-width="1.5"/><line x1="327.2" y1="199.3" x2="330.5" y2="199.3" stroke="#7ea01c" stroke-width="1.5"/><line x1="351.3" y1="199.3" x2="353.5" y2="199.3" stroke="#7ea01c" stroke-width="1.5"/><line x1="355.1" y1="199.3" x2="357.8" y2="199.3" stroke="#7ea01c" stroke-width="1.5"/><line x1="408.1" y1="199.3" x2="415.5" y2="199.3" stroke="#f0c44c" stroke-width="1.5"/><line x1="437.8" y1="199.3" x2="440.9" y2="199.3" stroke="#7ea01c" stroke-width="1.5"/><line x1="445.9" y1="199.3" x2="452.4" y2="199.3" stroke="#7ea01c" stroke-width="1.5"/><line x1="467.6" y1="199.3" x2="472.0" y2="199.3" stroke="#7ea01c" stroke-width="1.5"/><line x1="475.7" y1="199.3" x2="482.2" y2="199.3" stroke="#7ea01c" stroke-width="1.5"/><line x1="507.9" y1="199.3" x2="512.3" y2="199.3" stroke="#7ea01c" stroke-width="1.5"/><line x1="512.3" y1="199.3" x2="513.3" y2="199.3" stroke="#f0c44c" stroke-width="1.5"/><line x1="544.5" y1="199.3" x2="558.2" y2="199.3" stroke="#f0c44c" stroke-width="1.5"/><line x1="566.2" y1="199.3" x2="568.7" y2="199.3" stroke="#f0c44c" stroke-width="1.5"/><line x1="570.2" y1="199.3" x2="619.2" y2="199.3" stroke="#7ea01c" stroke-width="1.5"/><line x1="646.9" y1="199.3" x2="649.0" y2="199.3" stroke="#7ea01c" stroke-width="1.5"/><line x1="654.0" y1="199.3" x2="667.6" y2="199.3" stroke="#7ea01c" stroke-width="1.5"/><line x1="6.0" y1="203.0" x2="17.4" y2="203.0" stroke="#7ea01c" stroke-width="1.5"/><line x1="20.1" y1="203.0" x2="25.8" y2="203.0" stroke="#7ea01c" stroke-width="1.5"/><line x1="27.0" y1="203.0" x2="37.0" y2="203.0" stroke="#7ea01c" stroke-width="1.5"/><line x1="37.0" y1="203.0" x2="38.7" y2="203.0" stroke="#f0c44c" stroke-width="1.5"/><line x1="41.0" y1="203.0" x2="73.8" y2="203.0" stroke="#7ea01c" stroke-width="1.5"/><line x1="82.9" y1="203.0" x2="85.0" y2="203.0" stroke="#7ea01c" stroke-width="1.5"/><line x1="89.3" y1="203.0" x2="97.4" y2="203.0" stroke="#f0c44c" stroke-width="1.5"/><line x1="104.2" y1="203.0" x2="107.0" y2="203.0" stroke="#7ea01c" stroke-width="1.5"/><line x1="133.3" y1="203.0" x2="135.8" y2="203.0" stroke="#f0c44c" stroke-width="1.5"/><line x1="184.6" y1="203.0" x2="186.7" y2="203.0" stroke="#7ea01c" stroke-width="1.5"/><line x1="186.7" y1="203.0" x2="188.8" y2="203.0" stroke="#f0c44c" stroke-width="1.5"/><line x1="195.4" y1="203.0" x2="200.3" y2="203.0" stroke="#7ea01c" stroke-width="1.5"/><line x1="203.2" y1="203.0" x2="220.2" y2="203.0" stroke="#7ea01c" stroke-width="1.5"/><line x1="241.9" y1="203.0" x2="244.4" y2="203.0" stroke="#f0c44c" stroke-width="1.5"/><line x1="321.2" y1="203.0" x2="323.7" y2="203.0" stroke="#7ea01c" stroke-width="1.5"/><line x1="323.7" y1="203.0" x2="325.0" y2="203.0" stroke="#f44b10" stroke-width="1.5"/><line x1="326.2" y1="203.0" x2="328.0" y2="203.0" stroke="#f0c44c" stroke-width="1.5"/><line x1="328.0" y1="203.0" x2="329.3" y2="203.0" stroke="#f44b10" stroke-width="1.5"/><line x1="329.3" y1="203.0" x2="331.8" y2="203.0" stroke="#f0c44c" stroke-width="1.5"/><line x1="331.8" y1="203.0" x2="348.8" y2="203.0" stroke="#7ea01c" stroke-width="1.5"/><line x1="353.7" y1="203.0" x2="360.3" y2="203.0" stroke="#7ea01c" stroke-width="1.5"/><line x1="400.0" y1="203.0" x2="401.9" y2="203.0" stroke="#f0c44c" stroke-width="1.5"/><line x1="470.1" y1="203.0" x2="494.9" y2="203.0" stroke="#7ea01c" stroke-width="1.5"/><line x1="497.4" y1="203.0" x2="511.0" y2="203.0" stroke="#7ea01c" stroke-width="1.5"/><line x1="513.5" y1="203.0" x2="528.4" y2="203.0" stroke="#7ea01c" stroke-width="1.5"/><line x1="559.4" y1="203.0" x2="561.9" y2="203.0" stroke="#7ea01c" stroke-width="1.5"/><line x1="630.0" y1="203.0" x2="637.8" y2="203.0" stroke="#7ea01c" stroke-width="1.5"/><line x1="637.8" y1="203.0" x2="639.4" y2="203.0" stroke="#f0c44c" stroke-width="1.5"/><line x1="662.0" y1="203.0" x2="663.9" y2="203.0" stroke="#7ea01c" stroke-width="1.5"/><line x1="667.6" y1="203.0" x2="674.4" y2="203.0" stroke="#7ea01c" stroke-width="1.5"/><line x1="674.4" y1="203.0" x2="681.3" y2="203.0" stroke="#f0c44c" stroke-width="1.5"/><line x1="20.1" y1="206.8" x2="24.2" y2="206.8" stroke="#7ea01c" stroke-width="1.5"/><line x1="62.7" y1="206.8" x2="64.5" y2="206.8" stroke="#7ea01c" stroke-width="1.5"/><line x1="83.1" y1="206.8" x2="108.5" y2="206.8" stroke="#7ea01c" stroke-width="1.5"/><line x1="117.8" y1="206.8" x2="121.6" y2="206.8" stroke="#7ea01c" stroke-width="1.5"/><line x1="121.6" y1="206.8" x2="123.4" y2="206.8" stroke="#f44b10" stroke-width="1.5"/><line x1="123.4" y1="206.8" x2="125.9" y2="206.8" stroke="#7ea01c" stroke-width="1.5"/><line x1="130.2" y1="206.8" x2="132.7" y2="206.8" stroke="#7ea01c" stroke-width="1.5"/><line x1="142.0" y1="206.8" x2="144.5" y2="206.8" stroke="#7ea01c" stroke-width="1.5"/><line x1="147.6" y1="206.8" x2="155.7" y2="206.8" stroke="#f0c44c" stroke-width="1.5"/><line x1="167.2" y1="206.8" x2="170.9" y2="206.8" stroke="#7ea01c" stroke-width="1.5"/><line x1="170.9" y1="206.8" x2="174.9" y2="206.8" stroke="#f0c44c" stroke-width="1.5"/><line x1="174.9" y1="206.8" x2="176.4" y2="206.8" stroke="#f44b10" stroke-width="1.5"/><line x1="176.4" y1="206.8" x2="179.9" y2="206.8" stroke="#f0c44c" stroke-width="1.5"/><line x1="183.3" y1="206.8" x2="185.8" y2="206.8" stroke="#7ea01c" stroke-width="1.5"/><line x1="204.0" y1="206.8" x2="206.2" y2="206.8" stroke="#7ea01c" stroke-width="1.5"/><line x1="241.9" y1="206.8" x2="248.1" y2="206.8" stroke="#7ea01c" stroke-width="1.5"/><line x1="251.2" y1="206.8" x2="263.0" y2="206.8" stroke="#7ea01c" stroke-width="1.5"/><line x1="283.2" y1="206.8" x2="289.0" y2="206.8" stroke="#f0c44c" stroke-width="1.5"/><line x1="295.8" y1="206.8" x2="299.3" y2="206.8" stroke="#f0c44c" stroke-width="1.5"/><line x1="307.6" y1="206.8" x2="314.4" y2="206.8" stroke="#7ea01c" stroke-width="1.5"/><line x1="329.7" y1="206.8" x2="331.8" y2="206.8" stroke="#7ea01c" stroke-width="1.5"/><line x1="336.1" y1="206.8" x2="345.4" y2="206.8" stroke="#7ea01c" stroke-width="1.5"/><line x1="434.1" y1="206.8" x2="436.2" y2="206.8" stroke="#7ea01c" stroke-width="1.5"/><line x1="443.4" y1="206.8" x2="446.9" y2="206.8" stroke="#7ea01c" stroke-width="1.5"/><line x1="503.0" y1="206.8" x2="507.9" y2="206.8" stroke="#7ea01c" stroke-width="1.5"/><line x1="513.5" y1="206.8" x2="517.8" y2="206.8" stroke="#7ea01c" stroke-width="1.5"/><line x1="532.1" y1="206.8" x2="542.0" y2="206.8" stroke="#7ea01c" stroke-width="1.5"/><line x1="553.8" y1="206.8" x2="556.9" y2="206.8" stroke="#7ea01c" stroke-width="1.5"/><line x1="559.4" y1="206.8" x2="582.3" y2="206.8" stroke="#7ea01c" stroke-width="1.5"/><line x1="600.0" y1="206.8" x2="606.8" y2="206.8" stroke="#7ea01c" stroke-width="1.5"/><line x1="606.8" y1="206.8" x2="607.7" y2="206.8" stroke="#f0c44c" stroke-width="1.5"/><line x1="607.7" y1="206.8" x2="623.9" y2="206.8" stroke="#7ea01c" stroke-width="1.5"/><line x1="623.9" y1="206.8" x2="626.1" y2="206.8" stroke="#f0c44c" stroke-width="1.5"/><line x1="650.9" y1="206.8" x2="653.6" y2="206.8" stroke="#7ea01c" stroke-width="1.5"/><line x1="668.9" y1="206.8" x2="682.5" y2="206.8" stroke="#7ea01c" stroke-width="1.5"/><line x1="25.8" y1="210.5" x2="27.9" y2="210.5" stroke="#7ea01c" stroke-width="1.5"/><line x1="30.4" y1="210.5" x2="37.0" y2="210.5" stroke="#7ea01c" stroke-width="1.5"/><line x1="95.5" y1="210.5" x2="100.5" y2="210.5" stroke="#7ea01c" stroke-width="1.5"/><line x1="109.8" y1="210.5" x2="113.5" y2="210.5" stroke="#f0c44c" stroke-width="1.5"/><line x1="113.5" y1="210.5" x2="114.7" y2="210.5" stroke="#7ea01c" stroke-width="1.5"/><line x1="131.5" y1="210.5" x2="132.8" y2="210.5" stroke="#7ea01c" stroke-width="1.5"/><line x1="132.8" y1="210.5" x2="134.0" y2="210.5" stroke="#f44b10" stroke-width="1.5"/><line x1="134.0" y1="210.5" x2="138.3" y2="210.5" stroke="#7ea01c" stroke-width="1.5"/><line x1="181.1" y1="210.5" x2="184.2" y2="210.5" stroke="#7ea01c" stroke-width="1.5"/><line x1="219.3" y1="210.5" x2="222.3" y2="210.5" stroke="#7ea01c" stroke-width="1.5"/><line x1="246.8" y1="210.5" x2="249.3" y2="210.5" stroke="#7ea01c" stroke-width="1.5"/><line x1="249.3" y1="210.5" x2="251.4" y2="210.5" stroke="#f0c44c" stroke-width="1.5"/><line x1="261.7" y1="210.5" x2="266.0" y2="210.5" stroke="#7ea01c" stroke-width="1.5"/><line x1="269.8" y1="210.5" x2="271.6" y2="210.5" stroke="#7ea01c" stroke-width="1.5"/><line x1="279.7" y1="210.5" x2="280.9" y2="210.5" stroke="#7ea01c" stroke-width="1.5"/><line x1="320.0" y1="210.5" x2="329.3" y2="210.5" stroke="#7ea01c" stroke-width="1.5"/><line x1="334.9" y1="210.5" x2="342.1" y2="210.5" stroke="#f0c44c" stroke-width="1.5"/><line x1="344.2" y1="210.5" x2="345.4" y2="210.5" stroke="#f0c44c" stroke-width="1.5"/><line x1="348.8" y1="210.5" x2="365.3" y2="210.5" stroke="#7ea01c" stroke-width="1.5"/><line x1="365.3" y1="210.5" x2="367.1" y2="210.5" stroke="#f44b10" stroke-width="1.5"/><line x1="375.2" y1="210.5" x2="383.3" y2="210.5" stroke="#f0c44c" stroke-width="1.5"/><line x1="383.3" y1="210.5" x2="385.1" y2="210.5" stroke="#f44b10" stroke-width="1.5"/><line x1="385.1" y1="210.5" x2="387.0" y2="210.5" stroke="#f0c44c" stroke-width="1.5"/><line x1="420.1" y1="210.5" x2="427.0" y2="210.5" stroke="#7ea01c" stroke-width="1.5"/><line x1="435.4" y1="210.5" x2="442.8" y2="210.5" stroke="#7ea01c" stroke-width="1.5"/><line x1="446.9" y1="210.5" x2="455.8" y2="210.5" stroke="#7ea01c" stroke-width="1.5"/><line x1="463.9" y1="210.5" x2="474.2" y2="210.5" stroke="#7ea01c" stroke-width="1.5"/><line x1="488.7" y1="210.5" x2="493.9" y2="210.5" stroke="#7ea01c" stroke-width="1.5"/><line x1="510.0" y1="210.5" x2="517.2" y2="210.5" stroke="#7ea01c" stroke-width="1.5"/><line x1="517.2" y1="210.5" x2="544.5" y2="210.5" stroke="#f0c44c" stroke-width="1.5"/><line x1="578.4" y1="210.5" x2="583.6" y2="210.5" stroke="#7ea01c" stroke-width="1.5"/><line x1="626.1" y1="210.5" x2="629.8" y2="210.5" stroke="#7ea01c" stroke-width="1.5"/><line x1="631.0" y1="210.5" x2="637.8" y2="210.5" stroke="#7ea01c" stroke-width="1.5"/><line x1="642.2" y1="210.5" x2="646.9" y2="210.5" stroke="#7ea01c" stroke-width="1.5"/><line x1="667.6" y1="210.5" x2="682.5" y2="210.5" stroke="#7ea01c" stroke-width="1.5"/><line x1="62.7" y1="214.5" x2="65.8" y2="214.5" stroke="#7ea01c" stroke-width="1.5"/><line x1="98.0" y1="214.5" x2="114.1" y2="214.5" stroke="#7ea01c" stroke-width="1.5"/><line x1="134.0" y1="214.5" x2="136.8" y2="214.5" stroke="#7ea01c" stroke-width="1.5"/><line x1="152.6" y1="214.5" x2="156.9" y2="214.5" stroke="#7ea01c" stroke-width="1.5"/><line x1="188.3" y1="214.5" x2="191.0" y2="214.5" stroke="#7ea01c" stroke-width="1.5"/><line x1="209.0" y1="214.5" x2="211.9" y2="214.5" stroke="#7ea01c" stroke-width="1.5"/><line x1="237.5" y1="214.5" x2="248.1" y2="214.5" stroke="#7ea01c" stroke-width="1.5"/><line x1="263.0" y1="214.5" x2="266.0" y2="214.5" stroke="#f0c44c" stroke-width="1.5"/><line x1="272.0" y1="214.5" x2="273.7" y2="214.5" stroke="#7ea01c" stroke-width="1.5"/><line x1="283.2" y1="214.5" x2="289.0" y2="214.5" stroke="#7ea01c" stroke-width="1.5"/><line x1="305.8" y1="214.5" x2="308.9" y2="214.5" stroke="#7ea01c" stroke-width="1.5"/><line x1="310.1" y1="214.5" x2="316.7" y2="214.5" stroke="#7ea01c" stroke-width="1.5"/><line x1="342.3" y1="214.5" x2="344.2" y2="214.5" stroke="#f0c44c" stroke-width="1.5"/><line x1="349.2" y1="214.5" x2="351.0" y2="214.5" stroke="#7ea01c" stroke-width="1.5"/><line x1="354.7" y1="214.5" x2="387.0" y2="214.5" stroke="#7ea01c" stroke-width="1.5"/><line x1="415.9" y1="214.5" x2="469.7" y2="214.5" stroke="#7ea01c" stroke-width="1.5"/><line x1="472.0" y1="214.5" x2="483.7" y2="214.5" stroke="#7ea01c" stroke-width="1.5"/><line x1="494.9" y1="214.5" x2="497.1" y2="214.5" stroke="#7ea01c" stroke-width="1.5"/><line x1="553.8" y1="214.5" x2="558.2" y2="214.5" stroke="#7ea01c" stroke-width="1.5"/><line x1="584.2" y1="214.5" x2="586.0" y2="214.5" stroke="#7ea01c" stroke-width="1.5"/><line x1="589.2" y1="214.5" x2="591.6" y2="214.5" stroke="#7ea01c" stroke-width="1.5"/><line x1="600.0" y1="214.5" x2="606.9" y2="214.5" stroke="#7ea01c" stroke-width="1.5"/><line x1="610.2" y1="214.5" x2="649.0" y2="214.5" stroke="#7ea01c" stroke-width="1.5"/><line x1="654.6" y1="214.5" x2="667.0" y2="214.5" stroke="#7ea01c" stroke-width="1.5"/><text x="81.00" y="241.00" font-size="7.8" text-anchor="start" font-weight="normal" fill="#231f20" >Pericentromere</text><line x1="2" y1="242.9" x2="682.4" y2="242.9" stroke="rgba(0,0,0,0.2)" stroke-width="1.7"/><line x1="2.20" y1="242.9" x2="2.20" y2="246.1" stroke="#444" stroke-width="0.8"/><text x="2.20" y="256.20" font-size="7.8" text-anchor="middle" font-weight="normal" fill="#231f20" >0</text><line x1="117.25" y1="242.9" x2="117.25" y2="246.1" stroke="#444" stroke-width="0.8"/><text x="117.25" y="256.20" font-size="7.8" text-anchor="middle" font-weight="normal" fill="#231f20" >10</text><line x1="232.30" y1="242.9" x2="232.30" y2="246.1" stroke="#444" stroke-width="0.8"/><text x="232.30" y="256.20" font-size="7.8" text-anchor="middle" font-weight="normal" fill="#231f20" >20</text><line x1="347.35" y1="242.9" x2="347.35" y2="246.1" stroke="#444" stroke-width="0.8"/><text x="347.35" y="256.20" font-size="7.8" text-anchor="middle" font-weight="normal" fill="#231f20" >30</text><line x1="462.40" y1="242.9" x2="462.40" y2="246.1" stroke="#444" stroke-width="0.8"/><text x="462.40" y="256.20" font-size="7.8" text-anchor="middle" font-weight="normal" fill="#231f20" >40</text><line x1="577.45" y1="242.9" x2="577.45" y2="246.1" stroke="#444" stroke-width="0.8"/><text x="577.45" y="256.20" font-size="7.8" text-anchor="middle" font-weight="normal" fill="#231f20" >50</text><text x="328.70" y="268.50" font-size="7.8" text-anchor="middle" font-weight="normal" fill="#231f20" >Chr. 6 position (Mb)</text><defs><linearGradient id="wg" x1="0" y1="0" x2="0" y2="1"><stop offset="0" stop-color="#acacac"/><stop offset="1" stop-color="#fff"/></linearGradient></defs><polygon points="520,249 549.8,249 628,289.5 290,289.5" fill="url(#wg)"/><text x="0.00" y="277.70" font-size="10.4" text-anchor="start" font-weight="bold" fill="#000" >c</text><line x1="38.6" y1="286.00" x2="38.6" y2="349.20" stroke="#3a3a3a" stroke-width="0.75"/><line x1="35.300000000000004" y1="349.20" x2="38.6" y2="349.20" stroke="#3a3a3a" stroke-width="0.7"/><text x="32.00" y="352.00" font-size="7.8" text-anchor="end" font-weight="normal" fill="#231f20" >0</text><line x1="35.300000000000004" y1="336.56" x2="38.6" y2="336.56" stroke="#3a3a3a" stroke-width="0.7"/><text x="32.00" y="339.36" font-size="7.8" text-anchor="end" font-weight="normal" fill="#231f20" >0.2</text><line x1="35.300000000000004" y1="323.92" x2="38.6" y2="323.92" stroke="#3a3a3a" stroke-width="0.7"/><text x="32.00" y="326.72" font-size="7.8" text-anchor="end" font-weight="normal" fill="#231f20" >0.4</text><line x1="35.300000000000004" y1="311.28" x2="38.6" y2="311.28" stroke="#3a3a3a" stroke-width="0.7"/><text x="32.00" y="314.08" font-size="7.8" text-anchor="end" font-weight="normal" fill="#231f20" >0.6</text><line x1="35.300000000000004" y1="298.64" x2="38.6" y2="298.64" stroke="#3a3a3a" stroke-width="0.7"/><text x="32.00" y="301.44" font-size="7.8" text-anchor="end" font-weight="normal" fill="#231f20" >0.8</text><line x1="35.300000000000004" y1="286.00" x2="38.6" y2="286.00" stroke="#3a3a3a" stroke-width="0.7"/><text x="32.00" y="288.80" font-size="7.8" text-anchor="end" font-weight="normal" fill="#231f20" >1.0</text><line x1="38.6" y1="349.20" x2="90.8" y2="349.20" stroke="#3a3a3a" stroke-width="0.75"/><line x1="50.9" y1="349.20" x2="50.9" y2="352.20" stroke="#3a3a3a" stroke-width="0.7"/><line x1="76" y1="349.20" x2="76" y2="352.20" stroke="#3a3a3a" stroke-width="0.7"/><line x1="50.90" y1="291.06" x2="50.90" y2="308.75" stroke="#333" stroke-width="0.7"/><line x1="48.60" y1="291.06" x2="53.20" y2="291.06" stroke="#333" stroke-width="0.7"/><line x1="48.60" y1="308.75" x2="53.20" y2="308.75" stroke="#333" stroke-width="0.7"/><rect x="44.30" y="294.85" width="13.20" height="7.58" fill="#8f8f8f" stroke="#555" stroke-width="0.6"/><line x1="44.30" y1="297.38" x2="57.50" y2="297.38" stroke="#555" stroke-width="0.6"/><line x1="76.00" y1="289.79" x2="76.00" y2="303.06" stroke="#b0b0b0" stroke-width="0.7"/><line x1="73.70" y1="289.79" x2="78.30" y2="289.79" stroke="#b0b0b0" stroke-width="0.7"/><line x1="73.70" y1="303.06" x2="78.30" y2="303.06" stroke="#b0b0b0" stroke-width="0.7"/><rect x="69.40" y="292.95" width="13.20" height="5.69" fill="#ececec" stroke="#9a9a9a" stroke-width="0.6"/><line x1="69.40" y1="295.48" x2="82.60" y2="295.48" stroke="#9a9a9a" stroke-width="0.6"/><circle cx="49.88" cy="291.06" r="0.8" fill="#111"/><circle cx="51.87" cy="294.85" r="0.8" fill="#111"/><circle cx="51.64" cy="296.11" r="0.8" fill="#111"/><circle cx="50.21" cy="297.38" r="0.8" fill="#111"/><circle cx="50.89" cy="298.64" r="0.8" fill="#111"/><circle cx="50.76" cy="299.90" r="0.8" fill="#111"/><circle cx="51.32" cy="301.17" r="0.8" fill="#111"/><circle cx="51.71" cy="303.70" r="0.8" fill="#111"/><circle cx="49.76" cy="307.49" r="0.8" fill="#111"/><circle cx="49.58" cy="308.75" r="0.8" fill="#111"/><circle cx="77.28" cy="289.79" r="0.8" fill="#111"/><circle cx="77.25" cy="291.06" r="0.8" fill="#111"/><circle cx="74.76" cy="292.32" r="0.8" fill="#111"/><circle cx="74.84" cy="293.58" r="0.8" fill="#111"/><circle cx="76.94" cy="294.85" r="0.8" fill="#111"/><circle cx="76.66" cy="296.11" r="0.8" fill="#111"/><circle cx="76.48" cy="297.38" r="0.8" fill="#111"/><circle cx="75.46" cy="298.64" r="0.8" fill="#111"/><circle cx="76.30" cy="301.17" r="0.8" fill="#111"/><circle cx="76.30" cy="302.43" r="0.8" fill="#111"/><text transform="translate(13.6 317.6) rotate(-90)" font-size="7.8" text-anchor="middle" fill="#231f20">Recall</text><rect x="8" y="306.9" width="6" height="3.8" fill="#b9b9b9"/><g transform="rotate(-45 52.6 357.5)"><text x="52.60" y="357.50" font-size="7.8" text-anchor="end" font-weight="normal" fill="#231f20" >Chromosomes</text></g><g transform="rotate(-45 75.9 357.5)"><text x="75.90" y="357.50" font-size="7.8" text-anchor="end" font-weight="normal" fill="#231f20" >Chromosome</text><text x="75.90" y="366.70" font-size="7.8" text-anchor="end" font-weight="normal" fill="#231f20" >arms</text></g><text x="0.00" y="410.50" font-size="10.4" text-anchor="start" font-weight="bold" fill="#000" >d</text><line x1="38.6" y1="410.40" x2="38.6" y2="475.40" stroke="#3a3a3a" stroke-width="0.75"/><line x1="35.300000000000004" y1="475.40" x2="38.6" y2="475.40" stroke="#3a3a3a" stroke-width="0.7"/><text x="32.00" y="478.20" font-size="7.8" text-anchor="end" font-weight="normal" fill="#231f20" >0</text><line x1="35.300000000000004" y1="462.40" x2="38.6" y2="462.40" stroke="#3a3a3a" stroke-width="0.7"/><text x="32.00" y="465.20" font-size="7.8" text-anchor="end" font-weight="normal" fill="#231f20" >0.2</text><line x1="35.300000000000004" y1="449.40" x2="38.6" y2="449.40" stroke="#3a3a3a" stroke-width="0.7"/><text x="32.00" y="452.20" font-size="7.8" text-anchor="end" font-weight="normal" fill="#231f20" >0.4</text><line x1="35.300000000000004" y1="436.40" x2="38.6" y2="436.40" stroke="#3a3a3a" stroke-width="0.7"/><text x="32.00" y="439.20" font-size="7.8" text-anchor="end" font-weight="normal" fill="#231f20" >0.6</text><line x1="35.300000000000004" y1="423.40" x2="38.6" y2="423.40" stroke="#3a3a3a" stroke-width="0.7"/><text x="32.00" y="426.20" font-size="7.8" text-anchor="end" font-weight="normal" fill="#231f20" >0.8</text><line x1="35.300000000000004" y1="410.40" x2="38.6" y2="410.40" stroke="#3a3a3a" stroke-width="0.7"/><text x="32.00" y="413.20" font-size="7.8" text-anchor="end" font-weight="normal" fill="#231f20" >1.0</text><line x1="38.6" y1="475.40" x2="94" y2="475.40" stroke="#3a3a3a" stroke-width="0.75"/><line x1="50.9" y1="475.40" x2="50.9" y2="478.40" stroke="#3a3a3a" stroke-width="0.7"/><line x1="76" y1="475.40" x2="76" y2="478.40" stroke="#3a3a3a" stroke-width="0.7"/><line x1="51.20" y1="414.30" x2="51.20" y2="430.55" stroke="#333" stroke-width="0.7"/><line x1="48.90" y1="414.30" x2="53.50" y2="414.30" stroke="#333" stroke-width="0.7"/><line x1="48.90" y1="430.55" x2="53.50" y2="430.55" stroke="#333" stroke-width="0.7"/><rect x="44.40" y="416.90" width="13.60" height="9.10" fill="#8f8f8f" stroke="#555" stroke-width="0.6"/><line x1="44.40" y1="420.80" x2="58.00" y2="420.80" stroke="#555" stroke-width="0.6"/><line x1="76.60" y1="414.30" x2="76.60" y2="427.95" stroke="#b0b0b0" stroke-width="0.7"/><line x1="74.30" y1="414.30" x2="78.90" y2="414.30" stroke="#b0b0b0" stroke-width="0.7"/><line x1="74.30" y1="427.95" x2="78.90" y2="427.95" stroke="#b0b0b0" stroke-width="0.7"/><rect x="69.60" y="414.30" width="14.00" height="5.85" fill="#ececec" stroke="#9a9a9a" stroke-width="0.6"/><line x1="69.60" y1="416.90" x2="83.60" y2="416.90" stroke="#9a9a9a" stroke-width="0.6"/><circle cx="50.17" cy="414.30" r="0.8" fill="#111"/><circle cx="51.02" cy="415.60" r="0.8" fill="#111"/><circle cx="50.54" cy="416.90" r="0.8" fill="#111"/><circle cx="51.19" cy="418.20" r="0.8" fill="#111"/><circle cx="51.25" cy="420.15" r="0.8" fill="#111"/><circle cx="49.68" cy="421.45" r="0.8" fill="#111"/><circle cx="49.54" cy="423.40" r="0.8" fill="#111"/><circle cx="51.84" cy="425.35" r="0.8" fill="#111"/><circle cx="50.23" cy="428.60" r="0.8" fill="#111"/><circle cx="50.16" cy="430.55" r="0.8" fill="#111"/><circle cx="75.26" cy="414.30" r="0.8" fill="#111"/><circle cx="74.89" cy="414.30" r="0.8" fill="#111"/><circle cx="75.71" cy="414.95" r="0.8" fill="#111"/><circle cx="75.03" cy="414.95" r="0.8" fill="#111"/><circle cx="74.79" cy="415.60" r="0.8" fill="#111"/><circle cx="75.72" cy="416.90" r="0.8" fill="#111"/><circle cx="77.17" cy="419.50" r="0.8" fill="#111"/><circle cx="76.84" cy="422.10" r="0.8" fill="#111"/><circle cx="76.74" cy="424.70" r="0.8" fill="#111"/><circle cx="75.22" cy="427.95" r="0.8" fill="#111"/><text transform="translate(13.6 443) rotate(-90)" font-size="7.8" text-anchor="middle" fill="#231f20">Precision</text><g transform="rotate(-45 52.6 483.7)"><text x="52.60" y="483.70" font-size="7.8" text-anchor="end" font-weight="normal" fill="#231f20" >Chromosomes</text></g><g transform="rotate(-45 75.9 483.7)"><text x="75.90" y="483.70" font-size="7.8" text-anchor="end" font-weight="normal" fill="#231f20" >Chromosome</text><text x="75.90" y="492.90" font-size="7.8" text-anchor="end" font-weight="normal" fill="#231f20" >arms</text></g><text x="111.80" y="277.70" font-size="10.4" text-anchor="start" font-weight="bold" fill="#000" >e</text><line x1="154.3" y1="282.00" x2="154.3" y2="348.40" stroke="#3a3a3a" stroke-width="0.75"/><line x1="151.0" y1="345.20" x2="154.3" y2="345.20" stroke="#3a3a3a" stroke-width="0.7"/><text x="148.60" y="348.00" font-size="7.8" text-anchor="end" font-weight="normal" fill="#231f20" >0.2</text><line x1="151.0" y1="336.50" x2="154.3" y2="336.50" stroke="#3a3a3a" stroke-width="0.7"/><text x="148.60" y="339.30" font-size="7.8" text-anchor="end" font-weight="normal" fill="#231f20" >0.4</text><line x1="151.0" y1="327.80" x2="154.3" y2="327.80" stroke="#3a3a3a" stroke-width="0.7"/><text x="148.60" y="330.60" font-size="7.8" text-anchor="end" font-weight="normal" fill="#231f20" >0.6</text><line x1="151.0" y1="319.10" x2="154.3" y2="319.10" stroke="#3a3a3a" stroke-width="0.7"/><text x="148.60" y="321.90" font-size="7.8" text-anchor="end" font-weight="normal" fill="#231f20" >0.8</text><line x1="151.0" y1="310.40" x2="154.3" y2="310.40" stroke="#3a3a3a" stroke-width="0.7"/><text x="148.60" y="313.20" font-size="7.8" text-anchor="end" font-weight="normal" fill="#231f20" >1.0</text><line x1="151.0" y1="301.70" x2="154.3" y2="301.70" stroke="#3a3a3a" stroke-width="0.7"/><text x="148.60" y="304.50" font-size="7.8" text-anchor="end" font-weight="normal" fill="#231f20" >1.2</text><line x1="151.0" y1="293.00" x2="154.3" y2="293.00" stroke="#3a3a3a" stroke-width="0.7"/><text x="148.60" y="295.80" font-size="7.8" text-anchor="end" font-weight="normal" fill="#231f20" >1.4</text><line x1="151.0" y1="284.30" x2="154.3" y2="284.30" stroke="#3a3a3a" stroke-width="0.7"/><text x="148.60" y="287.10" font-size="7.8" text-anchor="end" font-weight="normal" fill="#231f20" >1.6</text><line x1="154.3" y1="348.40" x2="246" y2="348.40" stroke="#3a3a3a" stroke-width="0.75"/><line x1="169.4" y1="348.40" x2="169.4" y2="351.40" stroke="#3a3a3a" stroke-width="0.7"/><line x1="200" y1="348.40" x2="200" y2="351.40" stroke="#3a3a3a" stroke-width="0.7"/><line x1="231.4" y1="348.40" x2="231.4" y2="351.40" stroke="#3a3a3a" stroke-width="0.7"/><line x1="163.30" y1="301.70" x2="163.30" y2="336.50" stroke="#333" stroke-width="0.7"/><line x1="161.00" y1="301.70" x2="165.60" y2="301.70" stroke="#333" stroke-width="0.7"/><line x1="161.00" y1="336.50" x2="165.60" y2="336.50" stroke="#333" stroke-width="0.7"/><rect x="158.00" y="319.10" width="10.60" height="13.05" fill="#8f8f8f" stroke="#555" stroke-width="0.6"/><line x1="158.00" y1="320.84" x2="168.60" y2="320.84" stroke="#555" stroke-width="0.6"/><line x1="175.70" y1="284.30" x2="175.70" y2="332.15" stroke="#b0b0b0" stroke-width="0.7"/><line x1="173.40" y1="284.30" x2="178.00" y2="284.30" stroke="#b0b0b0" stroke-width="0.7"/><line x1="173.40" y1="332.15" x2="178.00" y2="332.15" stroke="#b0b0b0" stroke-width="0.7"/><rect x="170.40" y="301.70" width="10.60" height="18.27" fill="#ececec" stroke="#9a9a9a" stroke-width="0.6"/><line x1="170.40" y1="310.40" x2="181.00" y2="310.40" stroke="#9a9a9a" stroke-width="0.6"/><line x1="194.40" y1="310.40" x2="194.40" y2="340.85" stroke="#333" stroke-width="0.7"/><line x1="192.10" y1="310.40" x2="196.70" y2="310.40" stroke="#333" stroke-width="0.7"/><line x1="192.10" y1="340.85" x2="196.70" y2="340.85" stroke="#333" stroke-width="0.7"/><rect x="189.40" y="323.01" width="10.00" height="10.44" fill="#8f8f8f" stroke="#555" stroke-width="0.6"/><line x1="189.40" y1="326.93" x2="199.40" y2="326.93" stroke="#555" stroke-width="0.6"/><line x1="206.40" y1="310.40" x2="206.40" y2="332.15" stroke="#b0b0b0" stroke-width="0.7"/><line x1="204.10" y1="310.40" x2="208.70" y2="310.40" stroke="#b0b0b0" stroke-width="0.7"/><line x1="204.10" y1="332.15" x2="208.70" y2="332.15" stroke="#b0b0b0" stroke-width="0.7"/><rect x="201.40" y="314.75" width="10.00" height="9.57" fill="#ececec" stroke="#9a9a9a" stroke-width="0.6"/><line x1="201.40" y1="321.27" x2="211.40" y2="321.27" stroke="#9a9a9a" stroke-width="0.6"/><line x1="225.00" y1="319.10" x2="225.00" y2="336.50" stroke="#333" stroke-width="0.7"/><line x1="222.70" y1="319.10" x2="227.30" y2="319.10" stroke="#333" stroke-width="0.7"/><line x1="222.70" y1="336.50" x2="227.30" y2="336.50" stroke="#333" stroke-width="0.7"/><rect x="220.00" y="323.01" width="10.00" height="9.13" fill="#8f8f8f" stroke="#555" stroke-width="0.6"/><line x1="220.00" y1="327.80" x2="230.00" y2="327.80" stroke="#555" stroke-width="0.6"/><line x1="237.70" y1="297.35" x2="237.70" y2="336.50" stroke="#b0b0b0" stroke-width="0.7"/><line x1="235.40" y1="297.35" x2="240.00" y2="297.35" stroke="#b0b0b0" stroke-width="0.7"/><line x1="235.40" y1="336.50" x2="240.00" y2="336.50" stroke="#b0b0b0" stroke-width="0.7"/><rect x="232.40" y="306.05" width="10.60" height="18.27" fill="#ececec" stroke="#9a9a9a" stroke-width="0.6"/><line x1="232.40" y1="316.92" x2="243.00" y2="316.92" stroke="#9a9a9a" stroke-width="0.6"/><circle cx="163.91" cy="301.70" r="0.5" fill="#333"/><circle cx="164.51" cy="306.05" r="0.5" fill="#333"/><circle cx="164.78" cy="319.10" r="0.5" fill="#333"/><circle cx="165.51" cy="323.45" r="0.5" fill="#333"/><circle cx="164.50" cy="327.80" r="0.5" fill="#333"/><circle cx="165.41" cy="332.15" r="0.5" fill="#333"/><circle cx="160.95" cy="332.15" r="0.5" fill="#333"/><circle cx="163.13" cy="336.50" r="0.5" fill="#333"/><circle cx="177.17" cy="284.30" r="0.5" fill="#333"/><circle cx="177.31" cy="293.00" r="0.5" fill="#333"/><circle cx="175.63" cy="301.70" r="0.5" fill="#333"/><circle cx="174.51" cy="306.05" r="0.5" fill="#333"/><circle cx="173.20" cy="310.40" r="0.5" fill="#333"/><circle cx="176.51" cy="314.75" r="0.5" fill="#333"/><circle cx="175.55" cy="319.10" r="0.5" fill="#333"/><circle cx="177.00" cy="327.80" r="0.5" fill="#333"/><circle cx="175.07" cy="332.15" r="0.5" fill="#333"/><circle cx="193.52" cy="301.70" r="0.5" fill="#333"/><circle cx="192.65" cy="310.40" r="0.5" fill="#333"/><circle cx="195.15" cy="323.45" r="0.5" fill="#333"/><circle cx="192.26" cy="327.80" r="0.5" fill="#333"/><circle cx="194.58" cy="332.15" r="0.5" fill="#333"/><circle cx="193.73" cy="336.50" r="0.5" fill="#333"/><circle cx="192.19" cy="340.85" r="0.5" fill="#333"/><circle cx="205.03" cy="310.40" r="0.5" fill="#333"/><circle cx="208.71" cy="314.75" r="0.5" fill="#333"/><circle cx="204.53" cy="316.92" r="0.5" fill="#333"/><circle cx="207.42" cy="319.10" r="0.5" fill="#333"/><circle cx="204.33" cy="323.45" r="0.5" fill="#333"/><circle cx="205.14" cy="327.80" r="0.5" fill="#333"/><circle cx="208.90" cy="332.15" r="0.5" fill="#333"/><circle cx="224.82" cy="310.40" r="0.5" fill="#333"/><circle cx="224.37" cy="319.10" r="0.5" fill="#333"/><circle cx="223.19" cy="323.45" r="0.5" fill="#333"/><circle cx="226.83" cy="327.80" r="0.5" fill="#333"/><circle cx="222.53" cy="329.97" r="0.5" fill="#333"/><circle cx="225.01" cy="332.15" r="0.5" fill="#333"/><circle cx="226.99" cy="336.50" r="0.5" fill="#333"/><circle cx="222.90" cy="345.20" r="0.5" fill="#333"/><circle cx="238.06" cy="297.35" r="0.5" fill="#333"/><circle cx="237.34" cy="301.70" r="0.5" fill="#333"/><circle cx="238.09" cy="306.05" r="0.5" fill="#333"/><circle cx="236.23" cy="314.75" r="0.5" fill="#333"/><circle cx="239.27" cy="319.10" r="0.5" fill="#333"/><circle cx="239.32" cy="327.80" r="0.5" fill="#333"/><circle cx="238.47" cy="332.15" r="0.5" fill="#333"/><circle cx="236.00" cy="336.50" r="0.5" fill="#333"/><text transform="translate(129.2 315.3) rotate(-90)" font-size="7.8" text-anchor="middle" fill="#231f20">N50 (Mb)</text><text x="169.40" y="362.00" font-size="7.8" text-anchor="middle" font-weight="normal" fill="#231f20" >White</text><text x="169.40" y="370.60" font-size="7.8" text-anchor="middle" font-weight="normal" fill="#231f20" >rose</text><text x="200.00" y="362.00" font-size="7.8" text-anchor="middle" font-weight="normal" fill="#231f20" >Kenva</text><text x="231.40" y="362.00" font-size="7.8" text-anchor="middle" font-weight="normal" fill="#231f20" >Russet</text><text x="231.40" y="370.60" font-size="7.8" text-anchor="middle" font-weight="normal" fill="#231f20" >burbank</text><text x="111.80" y="410.20" font-size="10.4" text-anchor="start" font-weight="bold" fill="#000" >f</text><line x1="152" y1="408.60" x2="152" y2="474.60" stroke="#3a3a3a" stroke-width="0.75"/><line x1="148.7" y1="474.60" x2="152" y2="474.60" stroke="#3a3a3a" stroke-width="0.7"/><text x="147.60" y="477.40" font-size="7.8" text-anchor="end" font-weight="normal" fill="#231f20" >0</text><line x1="148.7" y1="461.40" x2="152" y2="461.40" stroke="#3a3a3a" stroke-width="0.7"/><text x="147.60" y="464.20" font-size="7.8" text-anchor="end" font-weight="normal" fill="#231f20" >20</text><line x1="148.7" y1="448.20" x2="152" y2="448.20" stroke="#3a3a3a" stroke-width="0.7"/><text x="147.60" y="451.00" font-size="7.8" text-anchor="end" font-weight="normal" fill="#231f20" >40</text><line x1="148.7" y1="435.00" x2="152" y2="435.00" stroke="#3a3a3a" stroke-width="0.7"/><text x="147.60" y="437.80" font-size="7.8" text-anchor="end" font-weight="normal" fill="#231f20" >60</text><line x1="148.7" y1="421.80" x2="152" y2="421.80" stroke="#3a3a3a" stroke-width="0.7"/><text x="147.60" y="424.60" font-size="7.8" text-anchor="end" font-weight="normal" fill="#231f20" >80</text><line x1="148.7" y1="408.60" x2="152" y2="408.60" stroke="#3a3a3a" stroke-width="0.7"/><text x="147.60" y="411.40" font-size="7.8" text-anchor="end" font-weight="normal" fill="#231f20" >100</text><line x1="152" y1="474.60" x2="246" y2="474.60" stroke="#3a3a3a" stroke-width="0.75"/><line x1="169.4" y1="474.60" x2="169.4" y2="477.60" stroke="#3a3a3a" stroke-width="0.7"/><line x1="200" y1="474.60" x2="200" y2="477.60" stroke="#3a3a3a" stroke-width="0.7"/><line x1="231.4" y1="474.60" x2="231.4" y2="477.60" stroke="#3a3a3a" stroke-width="0.7"/><line x1="163.30" y1="420.48" x2="163.30" y2="430.38" stroke="#333" stroke-width="0.7"/><line x1="161.00" y1="420.48" x2="165.60" y2="420.48" stroke="#333" stroke-width="0.7"/><line x1="161.00" y1="430.38" x2="165.60" y2="430.38" stroke="#333" stroke-width="0.7"/><rect x="158.00" y="425.76" width="10.60" height="3.30" fill="#8f8f8f" stroke="#555" stroke-width="0.6"/><line x1="158.00" y1="427.08" x2="168.60" y2="427.08" stroke="#555" stroke-width="0.6"/><line x1="175.70" y1="414.54" x2="175.70" y2="424.44" stroke="#b0b0b0" stroke-width="0.7"/><line x1="173.40" y1="414.54" x2="178.00" y2="414.54" stroke="#b0b0b0" stroke-width="0.7"/><line x1="173.40" y1="424.44" x2="178.00" y2="424.44" stroke="#b0b0b0" stroke-width="0.7"/><rect x="170.40" y="417.18" width="10.60" height="2.64" fill="#ececec" stroke="#9a9a9a" stroke-width="0.6"/><line x1="170.40" y1="418.50" x2="181.00" y2="418.50" stroke="#9a9a9a" stroke-width="0.6"/><line x1="194.40" y1="424.44" x2="194.40" y2="431.04" stroke="#333" stroke-width="0.7"/><line x1="192.10" y1="424.44" x2="196.70" y2="424.44" stroke="#333" stroke-width="0.7"/><line x1="192.10" y1="431.04" x2="196.70" y2="431.04" stroke="#333" stroke-width="0.7"/><rect x="189.40" y="426.42" width="10.00" height="2.31" fill="#8f8f8f" stroke="#555" stroke-width="0.6"/><line x1="189.40" y1="427.74" x2="199.40" y2="427.74" stroke="#555" stroke-width="0.6"/><line x1="206.40" y1="414.54" x2="206.40" y2="425.76" stroke="#b0b0b0" stroke-width="0.7"/><line x1="204.10" y1="414.54" x2="208.70" y2="414.54" stroke="#b0b0b0" stroke-width="0.7"/><line x1="204.10" y1="425.76" x2="208.70" y2="425.76" stroke="#b0b0b0" stroke-width="0.7"/><rect x="201.40" y="420.15" width="10.00" height="2.31" fill="#ececec" stroke="#9a9a9a" stroke-width="0.6"/><line x1="201.40" y1="421.14" x2="211.40" y2="421.14" stroke="#9a9a9a" stroke-width="0.6"/><line x1="225.00" y1="423.78" x2="225.00" y2="433.02" stroke="#333" stroke-width="0.7"/><line x1="222.70" y1="423.78" x2="227.30" y2="423.78" stroke="#333" stroke-width="0.7"/><line x1="222.70" y1="433.02" x2="227.30" y2="433.02" stroke="#333" stroke-width="0.7"/><rect x="220.00" y="427.08" width="10.00" height="3.63" fill="#8f8f8f" stroke="#555" stroke-width="0.6"/><line x1="220.00" y1="429.06" x2="230.00" y2="429.06" stroke="#555" stroke-width="0.6"/><line x1="237.70" y1="415.20" x2="237.70" y2="429.06" stroke="#b0b0b0" stroke-width="0.7"/><line x1="235.40" y1="415.20" x2="240.00" y2="415.20" stroke="#b0b0b0" stroke-width="0.7"/><line x1="235.40" y1="429.06" x2="240.00" y2="429.06" stroke="#b0b0b0" stroke-width="0.7"/><rect x="232.40" y="417.18" width="10.60" height="7.26" fill="#ececec" stroke="#9a9a9a" stroke-width="0.6"/><line x1="232.40" y1="421.14" x2="243.00" y2="421.14" stroke="#9a9a9a" stroke-width="0.6"/><circle cx="163.06" cy="420.48" r="0.7" fill="#111"/><circle cx="163.60" cy="425.10" r="0.7" fill="#111"/><circle cx="165.42" cy="425.76" r="0.7" fill="#111"/><circle cx="163.13" cy="426.42" r="0.7" fill="#111"/><circle cx="163.34" cy="427.08" r="0.7" fill="#111"/><circle cx="163.74" cy="427.74" r="0.7" fill="#111"/><circle cx="161.72" cy="428.40" r="0.7" fill="#111"/><circle cx="163.36" cy="429.06" r="0.7" fill="#111"/><circle cx="163.95" cy="435.00" r="0.7" fill="#111"/><circle cx="164.76" cy="438.30" r="0.7" fill="#111"/><circle cx="175.57" cy="414.54" r="0.7" fill="#111"/><circle cx="176.49" cy="417.18" r="0.7" fill="#111"/><circle cx="176.53" cy="417.84" r="0.7" fill="#111"/><circle cx="173.91" cy="418.50" r="0.7" fill="#111"/><circle cx="173.25" cy="418.50" r="0.7" fill="#111"/><circle cx="175.07" cy="419.16" r="0.7" fill="#111"/><circle cx="174.57" cy="419.82" r="0.7" fill="#111"/><circle cx="177.25" cy="424.44" r="0.7" fill="#111"/><circle cx="193.20" cy="421.14" r="0.7" fill="#111"/><circle cx="195.33" cy="425.10" r="0.7" fill="#111"/><circle cx="195.32" cy="426.42" r="0.7" fill="#111"/><circle cx="196.15" cy="427.08" r="0.7" fill="#111"/><circle cx="192.83" cy="427.74" r="0.7" fill="#111"/><circle cx="193.05" cy="428.40" r="0.7" fill="#111"/><circle cx="192.64" cy="429.06" r="0.7" fill="#111"/><circle cx="193.03" cy="433.68" r="0.7" fill="#111"/><circle cx="204.43" cy="414.54" r="0.7" fill="#111"/><circle cx="207.41" cy="419.82" r="0.7" fill="#111"/><circle cx="207.16" cy="420.48" r="0.7" fill="#111"/><circle cx="208.60" cy="421.14" r="0.7" fill="#111"/><circle cx="205.26" cy="421.80" r="0.7" fill="#111"/><circle cx="205.18" cy="422.46" r="0.7" fill="#111"/><circle cx="207.57" cy="423.12" r="0.7" fill="#111"/><circle cx="207.19" cy="425.76" r="0.7" fill="#111"/><circle cx="227.33" cy="423.78" r="0.7" fill="#111"/><circle cx="222.56" cy="426.42" r="0.7" fill="#111"/><circle cx="226.18" cy="427.74" r="0.7" fill="#111"/><circle cx="223.29" cy="428.40" r="0.7" fill="#111"/><circle cx="227.43" cy="429.06" r="0.7" fill="#111"/><circle cx="222.58" cy="429.72" r="0.7" fill="#111"/><circle cx="226.90" cy="430.38" r="0.7" fill="#111"/><circle cx="225.91" cy="436.98" r="0.7" fill="#111"/><circle cx="226.79" cy="440.94" r="0.7" fill="#111"/><circle cx="237.01" cy="415.20" r="0.7" fill="#111"/><circle cx="237.60" cy="416.52" r="0.7" fill="#111"/><circle cx="237.28" cy="417.84" r="0.7" fill="#111"/><circle cx="237.43" cy="419.16" r="0.7" fill="#111"/><circle cx="237.25" cy="420.48" r="0.7" fill="#111"/><circle cx="238.49" cy="421.80" r="0.7" fill="#111"/><circle cx="236.49" cy="424.44" r="0.7" fill="#111"/><circle cx="238.37" cy="428.40" r="0.7" fill="#111"/><circle cx="235.25" cy="434.34" r="0.7" fill="#111"/><rect x="159" y="455.3" width="3.6" height="3.6" fill="#8f8f8f" stroke="#5a5a5a" stroke-width="0.5"/><rect x="159" y="464" width="3.6" height="3.6" fill="#ededed" stroke="#a0a0a0" stroke-width="0.5"/><text x="167.00" y="460.00" font-size="8" text-anchor="start" font-weight="normal" fill="#231f20" >Chromosomes</text><text x="167.00" y="469.00" font-size="8" text-anchor="start" font-weight="normal" fill="#231f20" >Chromosome arms</text><text transform="translate(119 441) rotate(-90)" font-size="7.8" text-anchor="middle" fill="#231f20">Genome</text><text transform="translate(128 441.5) rotate(-90)" font-size="7.8" text-anchor="middle" fill="#231f20">coverage (%)</text><text x="169.40" y="487.40" font-size="7.8" text-anchor="middle" font-weight="normal" fill="#231f20" >White</text><text x="169.40" y="496.00" font-size="7.8" text-anchor="middle" font-weight="normal" fill="#231f20" >rose</text><text x="200.00" y="487.40" font-size="7.8" text-anchor="middle" font-weight="normal" fill="#231f20" >Kenva</text><text x="231.40" y="487.40" font-size="7.8" text-anchor="middle" font-weight="normal" fill="#231f20" >Russet</text><text x="231.40" y="496.00" font-size="7.8" text-anchor="middle" font-weight="normal" fill="#231f20" >burbank</text><path d="M291.80 313.80H299.40M291.80 318.30H299.40M291.80 322.80H299.40M291.80 327.30H299.40M291.80 331.80H299.40M291.80 336.30H299.40M291.80 340.80H299.40M291.80 345.30H299.40M291.80 349.80H299.40M300.60 322.80H312.34M300.60 327.30H312.34M300.60 331.80H312.34M300.60 336.30H312.34M300.60 340.80H312.34M313.54 313.80H325.28M313.54 318.30H325.28M313.54 322.80H325.28M313.54 327.30H325.28M313.54 331.80H325.28M313.54 336.30H325.28M313.54 340.80H325.28M313.54 345.30H325.28M313.54 349.80H325.28M326.48 318.30H338.22M326.48 322.80H338.22M326.48 327.30H338.22M326.48 331.80H338.22M326.48 336.30H338.22M326.48 340.80H338.22M339.42 313.80H351.16M339.42 318.30H351.16M339.42 322.80H351.16M339.42 327.30H351.16M339.42 331.80H351.16M339.42 336.30H351.16M339.42 340.80H351.16M339.42 345.30H351.16M339.42 349.80H351.16M352.36 313.80H364.10M352.36 318.30H364.10M352.36 322.80H364.10M352.36 327.30H364.10M352.36 331.80H364.10M352.36 336.30H364.10M352.36 340.80H364.10M352.36 345.30H364.10M352.36 349.80H364.10M365.30 313.80H377.04M365.30 318.30H377.04M365.30 322.80H377.04M365.30 327.30H377.04M365.30 331.80H377.04M365.30 336.30H377.04M365.30 340.80H377.04M365.30 345.30H377.04M365.30 349.80H377.04M378.24 313.80H389.98M378.24 318.30H389.98M378.24 322.80H389.98M378.24 327.30H389.98M378.24 331.80H389.98M378.24 336.30H389.98M378.24 340.80H389.98M378.24 345.30H389.98M378.24 349.80H389.98M378.24 354.30H389.98M391.18 322.80H402.92M391.18 327.30H402.92M391.18 331.80H402.92M391.18 336.30H402.92M391.18 340.80H402.92M404.12 309.30H415.86M404.12 313.80H415.86M404.12 318.30H415.86M404.12 322.80H415.86M404.12 327.30H415.86M404.12 331.80H415.86M404.12 336.30H415.86M404.12 340.80H415.86M404.12 345.30H415.86M404.12 349.80H415.86M404.12 354.30H415.86M417.06 313.80H428.80M417.06 318.30H428.80M417.06 322.80H428.80M417.06 327.30H428.80M417.06 331.80H428.80M417.06 336.30H428.80M417.06 340.80H428.80M417.06 345.30H428.80M417.06 349.80H428.80M430.00 318.30H441.74M430.00 322.80H441.74M430.00 327.30H441.74M430.00 331.80H441.74M430.00 336.30H441.74M430.00 340.80H441.74M430.00 345.30H441.74M430.00 349.80H441.74M442.94 309.30H454.68M442.94 313.80H454.68M442.94 318.30H454.68M442.94 322.80H454.68M442.94 327.30H454.68M442.94 331.80H454.68M442.94 336.30H454.68M442.94 340.80H454.68M442.94 345.30H454.68M442.94 349.80H454.68M442.94 354.30H454.68M455.88 309.30H467.62M455.88 313.80H467.62M455.88 318.30H467.62M455.88 322.80H467.62M455.88 327.30H467.62M455.88 331.80H467.62M455.88 336.30H467.62M455.88 340.80H467.62M455.88 345.30H467.62M455.88 349.80H467.62M455.88 354.30H467.62M468.82 313.80H480.56M468.82 318.30H480.56M468.82 322.80H480.56M468.82 327.30H480.56M468.82 331.80H480.56M468.82 336.30H480.56M468.82 340.80H480.56M468.82 345.30H480.56M468.82 349.80H480.56M481.76 309.30H493.50M481.76 313.80H493.50M481.76 318.30H493.50M481.76 322.80H493.50M481.76 327.30H493.50M481.76 331.80H493.50M481.76 336.30H493.50M481.76 340.80H493.50M481.76 345.30H493.50M481.76 349.80H493.50M481.76 354.30H493.50M481.76 358.80H493.50M494.70 313.80H506.44M494.70 318.30H506.44M494.70 322.80H506.44M494.70 327.30H506.44M494.70 331.80H506.44M494.70 336.30H506.44M494.70 340.80H506.44M494.70 345.30H506.44M494.70 349.80H506.44M494.70 354.30H506.44M507.64 313.80H519.38M507.64 318.30H519.38M507.64 322.80H519.38M507.64 327.30H519.38M507.64 331.80H519.38M507.64 336.30H519.38M507.64 340.80H519.38M507.64 345.30H519.38M507.64 349.80H519.38M507.64 354.30H519.38M520.58 313.80H532.32M520.58 318.30H532.32M520.58 322.80H532.32M520.58 327.30H532.32M520.58 331.80H532.32M520.58 336.30H532.32M520.58 340.80H532.32M520.58 345.30H532.32M520.58 349.80H532.32M533.52 313.80H545.26M533.52 318.30H545.26M533.52 322.80H545.26M533.52 327.30H545.26M533.52 331.80H545.26M533.52 336.30H545.26M533.52 340.80H545.26M533.52 345.30H545.26M533.52 349.80H545.26M533.52 354.30H545.26M546.46 304.80H558.20M546.46 309.30H558.20M546.46 313.80H558.20M546.46 318.30H558.20M546.46 322.80H558.20M546.46 327.30H558.20M546.46 331.80H558.20M546.46 336.30H558.20M546.46 340.80H558.20M546.46 345.30H558.20M546.46 349.80H558.20M546.46 354.30H558.20M546.46 358.80H558.20M546.46 363.30H558.20M559.40 313.80H571.14M559.40 318.30H571.14M559.40 322.80H571.14M559.40 327.30H571.14M559.40 331.80H571.14M559.40 336.30H571.14M559.40 340.80H571.14M559.40 345.30H571.14M559.40 349.80H571.14M572.34 309.30H584.08M572.34 313.80H584.08M572.34 318.30H584.08M572.34 322.80H584.08M572.34 327.30H584.08M572.34 331.80H584.08M572.34 336.30H584.08M572.34 340.80H584.08M572.34 345.30H584.08M572.34 349.80H584.08M572.34 354.30H584.08M585.28 322.80H597.02M585.28 327.30H597.02M585.28 331.80H597.02M585.28 336.30H597.02M585.28 340.80H597.02M585.28 345.30H597.02M585.28 349.80H597.02M598.22 322.80H609.96M598.22 327.30H609.96M598.22 331.80H609.96M598.22 336.30H609.96M598.22 340.80H609.96M598.22 345.30H609.96M611.16 322.80H622.90M611.16 327.30H622.90M611.16 331.80H622.90M611.16 336.30H622.90M611.16 340.80H622.90M611.16 345.30H622.90M611.16 349.80H622.90M624.10 322.80H627.40M624.10 327.30H627.40M624.10 331.80H627.40M624.10 336.30H627.40M624.10 340.80H627.40M624.10 345.30H627.40" stroke="#d9d9d9" stroke-width="0.55" fill="none"/><path d="M291.20 313.80H297.30Q299.50 313.80 299.50 316.00V347.60Q299.50 349.80 297.30 349.80H291.20" fill="none" stroke="#d4d4d4" stroke-width="0.55"/><rect x="300.50" y="322.80" width="11.94" height="18.00" rx="2.2" ry="2.2" fill="none" stroke="#d4d4d4" stroke-width="0.55"/><rect x="313.44" y="313.80" width="11.94" height="36.00" rx="2.2" ry="2.2" fill="none" stroke="#d4d4d4" stroke-width="0.55"/><rect x="326.38" y="318.30" width="11.94" height="22.50" rx="2.2" ry="2.2" fill="none" stroke="#d4d4d4" stroke-width="0.55"/><rect x="339.32" y="313.80" width="11.94" height="36.00" rx="2.2" ry="2.2" fill="none" stroke="#d4d4d4" stroke-width="0.55"/><rect x="352.26" y="313.80" width="11.94" height="36.00" rx="2.2" ry="2.2" fill="none" stroke="#d4d4d4" stroke-width="0.55"/><rect x="365.20" y="313.80" width="11.94" height="36.00" rx="2.2" ry="2.2" fill="none" stroke="#d4d4d4" stroke-width="0.55"/><rect x="378.14" y="313.80" width="11.94" height="40.50" rx="2.2" ry="2.2" fill="none" stroke="#d4d4d4" stroke-width="0.55"/><rect x="391.08" y="322.80" width="11.94" height="18.00" rx="2.2" ry="2.2" fill="none" stroke="#d4d4d4" stroke-width="0.55"/><rect x="404.02" y="309.30" width="11.94" height="45.00" rx="2.2" ry="2.2" fill="none" stroke="#d4d4d4" stroke-width="0.55"/><rect x="416.96" y="313.80" width="11.94" height="36.00" rx="2.2" ry="2.2" fill="none" stroke="#d4d4d4" stroke-width="0.55"/><rect x="429.90" y="318.30" width="11.94" height="31.50" rx="2.2" ry="2.2" fill="none" stroke="#d4d4d4" stroke-width="0.55"/><rect x="442.84" y="309.30" width="11.94" height="45.00" rx="2.2" ry="2.2" fill="none" stroke="#d4d4d4" stroke-width="0.55"/><rect x="455.78" y="309.30" width="11.94" height="45.00" rx="2.2" ry="2.2" fill="none" stroke="#d4d4d4" stroke-width="0.55"/><rect x="468.72" y="313.80" width="11.94" height="36.00" rx="2.2" ry="2.2" fill="none" stroke="#d4d4d4" stroke-width="0.55"/><rect x="481.66" y="309.30" width="11.94" height="49.50" rx="2.2" ry="2.2" fill="none" stroke="#d4d4d4" stroke-width="0.55"/><rect x="494.60" y="313.80" width="11.94" height="40.50" rx="2.2" ry="2.2" fill="none" stroke="#d4d4d4" stroke-width="0.55"/><rect x="507.54" y="313.80" width="11.94" height="40.50" rx="2.2" ry="2.2" fill="none" stroke="#d4d4d4" stroke-width="0.55"/><rect x="520.48" y="313.80" width="11.94" height="36.00" rx="2.2" ry="2.2" fill="none" stroke="#d4d4d4" stroke-width="0.55"/><rect x="533.42" y="313.80" width="11.94" height="40.50" rx="2.2" ry="2.2" fill="none" stroke="#d4d4d4" stroke-width="0.55"/><rect x="546.36" y="304.80" width="11.94" height="58.50" rx="2.2" ry="2.2" fill="none" stroke="#d4d4d4" stroke-width="0.55"/><rect x="559.30" y="313.80" width="11.94" height="36.00" rx="2.2" ry="2.2" fill="none" stroke="#d4d4d4" stroke-width="0.55"/><rect x="572.24" y="309.30" width="11.94" height="45.00" rx="2.2" ry="2.2" fill="none" stroke="#d4d4d4" stroke-width="0.55"/><rect x="585.18" y="322.80" width="11.94" height="27.00" rx="2.2" ry="2.2" fill="none" stroke="#d4d4d4" stroke-width="0.55"/><rect x="598.12" y="322.80" width="11.94" height="22.50" rx="2.2" ry="2.2" fill="none" stroke="#d4d4d4" stroke-width="0.55"/><rect x="611.06" y="322.80" width="11.94" height="27.00" rx="2.2" ry="2.2" fill="none" stroke="#d4d4d4" stroke-width="0.55"/><rect x="624.00" y="322.80" width="3.50" height="22.50" rx="2.2" ry="2.2" fill="none" stroke="#d4d4d4" stroke-width="0.55"/><line x1="292.00" y1="327.30" x2="299.20" y2="327.30" stroke="#7b9a13" stroke-width="1.45"/><rect x="299.20" y="326.70" width="1.6" height="1.2" fill="#6b7b99"/><line x1="300.80" y1="327.30" x2="312.14" y2="327.30" stroke="#7b9a13" stroke-width="1.45"/><rect x="312.14" y="326.70" width="1.6" height="1.2" fill="#6b7b99"/><line x1="313.74" y1="327.30" x2="325.08" y2="327.30" stroke="#7b9a13" stroke-width="1.45"/><rect x="325.08" y="326.70" width="1.6" height="1.2" fill="#6b7b99"/><line x1="326.68" y1="327.30" x2="338.02" y2="327.30" stroke="#7b9a13" stroke-width="1.45"/><rect x="338.02" y="326.70" width="1.6" height="1.2" fill="#6b7b99"/><line x1="339.62" y1="327.30" x2="350.96" y2="327.30" stroke="#7b9a13" stroke-width="1.45"/><rect x="350.96" y="326.70" width="1.6" height="1.2" fill="#6b7b99"/><line x1="352.56" y1="327.30" x2="363.90" y2="327.30" stroke="#7b9a13" stroke-width="1.45"/><rect x="363.90" y="326.70" width="1.6" height="1.2" fill="#6b7b99"/><line x1="365.50" y1="327.30" x2="376.84" y2="327.30" stroke="#7b9a13" stroke-width="1.45"/><rect x="376.84" y="326.70" width="1.6" height="1.2" fill="#6b7b99"/><line x1="378.44" y1="327.30" x2="389.78" y2="327.30" stroke="#7b9a13" stroke-width="1.45"/><rect x="389.78" y="326.70" width="1.6" height="1.2" fill="#6b7b99"/><line x1="391.38" y1="327.30" x2="402.72" y2="327.30" stroke="#7b9a13" stroke-width="1.45"/><rect x="402.72" y="326.70" width="1.6" height="1.2" fill="#6b7b99"/><line x1="404.32" y1="327.30" x2="415.66" y2="327.30" stroke="#7b9a13" stroke-width="1.45"/><rect x="415.66" y="326.70" width="1.6" height="1.2" fill="#6b7b99"/><line x1="417.26" y1="327.30" x2="428.60" y2="327.30" stroke="#7b9a13" stroke-width="1.45"/><line x1="292.00" y1="336.30" x2="299.20" y2="336.30" stroke="#7b9a13" stroke-width="1.45"/><rect x="299.20" y="335.70" width="1.6" height="1.2" fill="#6b7b99"/><line x1="300.80" y1="336.30" x2="312.14" y2="336.30" stroke="#7b9a13" stroke-width="1.45"/><rect x="312.14" y="335.70" width="1.6" height="1.2" fill="#6b7b99"/><line x1="313.74" y1="336.30" x2="325.08" y2="336.30" stroke="#7b9a13" stroke-width="1.45"/><rect x="325.08" y="335.70" width="1.6" height="1.2" fill="#6b7b99"/><line x1="326.68" y1="336.30" x2="338.02" y2="336.30" stroke="#7b9a13" stroke-width="1.45"/><rect x="338.02" y="335.70" width="1.6" height="1.2" fill="#6b7b99"/><line x1="339.62" y1="336.30" x2="350.96" y2="336.30" stroke="#7b9a13" stroke-width="1.45"/><rect x="350.96" y="335.70" width="1.6" height="1.2" fill="#6b7b99"/><line x1="352.56" y1="336.30" x2="363.90" y2="336.30" stroke="#7b9a13" stroke-width="1.45"/><rect x="363.90" y="335.70" width="1.6" height="1.2" fill="#6b7b99"/><line x1="365.50" y1="336.30" x2="376.84" y2="336.30" stroke="#7b9a13" stroke-width="1.45"/><rect x="376.84" y="335.70" width="1.6" height="1.2" fill="#6b7b99"/><line x1="378.44" y1="336.30" x2="389.78" y2="336.30" stroke="#7b9a13" stroke-width="1.45"/><line x1="404.32" y1="318.30" x2="415.66" y2="318.30" stroke="#7b9a13" stroke-width="1.45"/><rect x="415.66" y="317.70" width="1.6" height="1.2" fill="#6b7b99"/><line x1="417.26" y1="318.30" x2="428.60" y2="318.30" stroke="#7b9a13" stroke-width="1.45"/><rect x="428.60" y="317.70" width="1.6" height="1.2" fill="#6b7b99"/><line x1="430.20" y1="318.30" x2="441.54" y2="318.30" stroke="#7b9a13" stroke-width="1.45"/><rect x="441.54" y="317.70" width="1.6" height="1.2" fill="#6b7b99"/><line x1="443.14" y1="318.30" x2="454.48" y2="318.30" stroke="#7b9a13" stroke-width="1.45"/><rect x="454.48" y="317.70" width="1.6" height="1.2" fill="#6b7b99"/><line x1="456.08" y1="318.30" x2="467.42" y2="318.30" stroke="#7b9a13" stroke-width="1.45"/><rect x="467.42" y="317.70" width="1.6" height="1.2" fill="#6b7b99"/><line x1="469.02" y1="318.30" x2="480.36" y2="318.30" stroke="#7b9a13" stroke-width="1.45"/><rect x="480.36" y="317.70" width="1.6" height="1.2" fill="#6b7b99"/><line x1="481.96" y1="318.30" x2="493.30" y2="318.30" stroke="#7b9a13" stroke-width="1.45"/><rect x="493.30" y="317.70" width="1.6" height="1.2" fill="#6b7b99"/><line x1="494.90" y1="318.30" x2="506.24" y2="318.30" stroke="#7b9a13" stroke-width="1.45"/><rect x="506.24" y="317.70" width="1.6" height="1.2" fill="#6b7b99"/><line x1="507.84" y1="318.30" x2="519.18" y2="318.30" stroke="#7b9a13" stroke-width="1.45"/><rect x="519.18" y="317.70" width="1.6" height="1.2" fill="#6b7b99"/><line x1="520.78" y1="318.30" x2="532.12" y2="318.30" stroke="#7b9a13" stroke-width="1.45"/><rect x="532.12" y="317.70" width="1.6" height="1.2" fill="#6b7b99"/><line x1="533.72" y1="318.30" x2="545.06" y2="318.30" stroke="#7b9a13" stroke-width="1.45"/><rect x="545.06" y="317.70" width="1.6" height="1.2" fill="#6b7b99"/><line x1="546.66" y1="318.30" x2="558.00" y2="318.30" stroke="#7b9a13" stroke-width="1.45"/><rect x="558.00" y="317.70" width="1.6" height="1.2" fill="#6b7b99"/><line x1="559.60" y1="318.30" x2="570.94" y2="318.30" stroke="#7b9a13" stroke-width="1.45"/><rect x="570.94" y="317.70" width="1.6" height="1.2" fill="#6b7b99"/><line x1="572.54" y1="318.30" x2="583.88" y2="318.30" stroke="#7b9a13" stroke-width="1.45"/><rect x="583.88" y="317.70" width="1.6" height="1.2" fill="#6b7b99"/><line x1="585.48" y1="318.30" x2="596.82" y2="318.30" stroke="#7b9a13" stroke-width="1.45"/><rect x="596.82" y="317.70" width="1.6" height="1.2" fill="#6b7b99"/><line x1="598.42" y1="318.30" x2="609.76" y2="318.30" stroke="#7b9a13" stroke-width="1.45"/><rect x="609.76" y="317.70" width="1.6" height="1.2" fill="#6b7b99"/><line x1="611.36" y1="318.30" x2="622.70" y2="318.30" stroke="#7b9a13" stroke-width="1.45"/><rect x="622.70" y="317.70" width="1.6" height="1.2" fill="#6b7b99"/><line x1="624.30" y1="318.30" x2="627.20" y2="318.30" stroke="#7b9a13" stroke-width="1.45"/><line x1="430.20" y1="340.80" x2="441.54" y2="340.80" stroke="#7b9a13" stroke-width="1.45"/><rect x="441.54" y="340.20" width="1.6" height="1.2" fill="#6b7b99"/><line x1="443.14" y1="340.80" x2="454.48" y2="340.80" stroke="#7b9a13" stroke-width="1.45"/><rect x="454.48" y="340.20" width="1.6" height="1.2" fill="#6b7b99"/><line x1="456.08" y1="340.80" x2="467.42" y2="340.80" stroke="#7b9a13" stroke-width="1.45"/><rect x="467.42" y="340.20" width="1.6" height="1.2" fill="#6b7b99"/><line x1="469.02" y1="340.80" x2="480.36" y2="340.80" stroke="#7b9a13" stroke-width="1.45"/><rect x="480.36" y="340.20" width="1.6" height="1.2" fill="#6b7b99"/><line x1="481.96" y1="340.80" x2="493.30" y2="340.80" stroke="#7b9a13" stroke-width="1.45"/><rect x="493.30" y="340.20" width="1.6" height="1.2" fill="#6b7b99"/><line x1="494.90" y1="340.80" x2="506.24" y2="340.80" stroke="#7b9a13" stroke-width="1.45"/><rect x="506.24" y="340.20" width="1.6" height="1.2" fill="#6b7b99"/><line x1="507.84" y1="340.80" x2="519.18" y2="340.80" stroke="#7b9a13" stroke-width="1.45"/><rect x="519.18" y="340.20" width="1.6" height="1.2" fill="#6b7b99"/><line x1="520.78" y1="340.80" x2="532.12" y2="340.80" stroke="#7b9a13" stroke-width="1.45"/><rect x="532.12" y="340.20" width="1.6" height="1.2" fill="#6b7b99"/><line x1="533.72" y1="340.80" x2="545.00" y2="340.80" stroke="#7b9a13" stroke-width="1.45"/><line x1="546.66" y1="313.80" x2="558.00" y2="313.80" stroke="#7b9a13" stroke-width="1.45"/><rect x="558.00" y="313.20" width="1.6" height="1.2" fill="#6b7b99"/><line x1="559.60" y1="313.80" x2="570.94" y2="313.80" stroke="#7b9a13" stroke-width="1.45"/><rect x="570.94" y="313.20" width="1.6" height="1.2" fill="#6b7b99"/><line x1="572.54" y1="313.80" x2="583.88" y2="313.80" stroke="#7b9a13" stroke-width="1.45"/><rect x="583.88" y="313.20" width="1.6" height="1.2" fill="#6b7b99"/><line x1="585.48" y1="313.80" x2="596.82" y2="313.80" stroke="#7b9a13" stroke-width="1.45"/><rect x="596.82" y="313.20" width="1.6" height="1.2" fill="#6b7b99"/><line x1="598.42" y1="313.80" x2="609.76" y2="313.80" stroke="#7b9a13" stroke-width="1.45"/><rect x="609.76" y="313.20" width="1.6" height="1.2" fill="#6b7b99"/><line x1="611.36" y1="313.80" x2="622.70" y2="313.80" stroke="#7b9a13" stroke-width="1.45"/><rect x="622.70" y="313.20" width="1.6" height="1.2" fill="#6b7b99"/><line x1="624.30" y1="313.80" x2="627.20" y2="313.80" stroke="#7b9a13" stroke-width="1.45"/><line x1="292.00" y1="345.30" x2="299.20" y2="345.30" stroke="#efc54b" stroke-width="1.45"/><rect x="299.20" y="344.70" width="1.6" height="1.2" fill="#6b7b99"/><line x1="300.80" y1="345.30" x2="312.14" y2="345.30" stroke="#efc54b" stroke-width="1.45"/><rect x="312.14" y="344.70" width="1.6" height="1.2" fill="#6b7b99"/><line x1="313.74" y1="345.30" x2="325.08" y2="345.30" stroke="#efc54b" stroke-width="1.45"/><rect x="325.08" y="344.70" width="1.6" height="1.2" fill="#6b7b99"/><line x1="326.68" y1="345.30" x2="338.02" y2="345.30" stroke="#efc54b" stroke-width="1.45"/><rect x="338.02" y="344.70" width="1.6" height="1.2" fill="#6b7b99"/><line x1="339.62" y1="345.30" x2="350.96" y2="345.30" stroke="#efc54b" stroke-width="1.45"/><rect x="350.96" y="344.70" width="1.6" height="1.2" fill="#6b7b99"/><line x1="352.56" y1="345.30" x2="363.90" y2="345.30" stroke="#efc54b" stroke-width="1.45"/><rect x="363.90" y="344.70" width="1.6" height="1.2" fill="#6b7b99"/><line x1="365.50" y1="345.30" x2="376.84" y2="345.30" stroke="#efc54b" stroke-width="1.45"/><rect x="376.84" y="344.70" width="1.6" height="1.2" fill="#6b7b99"/><line x1="378.44" y1="345.30" x2="389.78" y2="345.30" stroke="#efc54b" stroke-width="1.45"/><rect x="389.78" y="344.70" width="1.6" height="1.2" fill="#6b7b99"/><line x1="391.38" y1="345.30" x2="402.72" y2="345.30" stroke="#efc54b" stroke-width="1.45"/><rect x="402.72" y="344.70" width="1.6" height="1.2" fill="#6b7b99"/><line x1="404.32" y1="345.30" x2="415.66" y2="345.30" stroke="#efc54b" stroke-width="1.45"/><rect x="415.66" y="344.70" width="1.6" height="1.2" fill="#6b7b99"/><line x1="417.26" y1="345.30" x2="428.60" y2="345.30" stroke="#efc54b" stroke-width="1.45"/><rect x="428.60" y="344.70" width="1.6" height="1.2" fill="#6b7b99"/><line x1="430.20" y1="345.30" x2="441.54" y2="345.30" stroke="#efc54b" stroke-width="1.45"/><rect x="441.54" y="344.70" width="1.6" height="1.2" fill="#6b7b99"/><line x1="443.14" y1="345.30" x2="454.48" y2="345.30" stroke="#efc54b" stroke-width="1.45"/><rect x="454.48" y="344.70" width="1.6" height="1.2" fill="#6b7b99"/><line x1="456.08" y1="345.30" x2="467.42" y2="345.30" stroke="#efc54b" stroke-width="1.45"/><rect x="467.42" y="344.70" width="1.6" height="1.2" fill="#6b7b99"/><line x1="469.02" y1="345.30" x2="480.36" y2="345.30" stroke="#efc54b" stroke-width="1.45"/><rect x="480.36" y="344.70" width="1.6" height="1.2" fill="#6b7b99"/><line x1="481.96" y1="345.30" x2="493.30" y2="345.30" stroke="#efc54b" stroke-width="1.45"/><rect x="493.30" y="344.70" width="1.6" height="1.2" fill="#6b7b99"/><line x1="494.90" y1="345.30" x2="506.24" y2="345.30" stroke="#efc54b" stroke-width="1.45"/><rect x="506.24" y="344.70" width="1.6" height="1.2" fill="#6b7b99"/><line x1="507.84" y1="345.30" x2="519.18" y2="345.30" stroke="#efc54b" stroke-width="1.45"/><rect x="519.18" y="344.70" width="1.6" height="1.2" fill="#6b7b99"/><line x1="520.78" y1="345.30" x2="532.12" y2="345.30" stroke="#efc54b" stroke-width="1.45"/><rect x="532.12" y="344.70" width="1.6" height="1.2" fill="#6b7b99"/><line x1="533.72" y1="345.30" x2="545.06" y2="345.30" stroke="#efc54b" stroke-width="1.45"/><rect x="545.06" y="344.70" width="1.6" height="1.2" fill="#6b7b99"/><line x1="546.66" y1="345.30" x2="558.00" y2="345.30" stroke="#efc54b" stroke-width="1.45"/><rect x="558.00" y="344.70" width="1.6" height="1.2" fill="#6b7b99"/><line x1="559.60" y1="345.30" x2="570.90" y2="345.30" stroke="#efc54b" stroke-width="1.45"/><line x1="572.54" y1="331.80" x2="583.88" y2="331.80" stroke="#efc54b" stroke-width="1.45"/><rect x="583.88" y="331.20" width="1.6" height="1.2" fill="#6b7b99"/><line x1="585.48" y1="331.80" x2="596.82" y2="331.80" stroke="#efc54b" stroke-width="1.45"/><rect x="596.82" y="331.20" width="1.6" height="1.2" fill="#6b7b99"/><line x1="598.42" y1="331.80" x2="609.76" y2="331.80" stroke="#efc54b" stroke-width="1.45"/><rect x="609.76" y="331.20" width="1.6" height="1.2" fill="#6b7b99"/><line x1="611.36" y1="331.80" x2="622.70" y2="331.80" stroke="#efc54b" stroke-width="1.45"/><rect x="622.70" y="331.20" width="1.6" height="1.2" fill="#6b7b99"/><line x1="624.30" y1="331.80" x2="627.20" y2="331.80" stroke="#efc54b" stroke-width="1.45"/><line x1="299.6" y1="376.4" x2="628" y2="376.4" stroke="#777" stroke-width="0.7"/><line x1="299.60" y1="376.4" x2="299.60" y2="379.70" stroke="#888" stroke-width="0.8"/><text x="299.60" y="390.00" font-size="7.8" text-anchor="middle" font-weight="normal" fill="#231f20" >45.0</text><line x1="364.38" y1="376.4" x2="364.38" y2="379.70" stroke="#888" stroke-width="0.8"/><text x="364.38" y="390.00" font-size="7.8" text-anchor="middle" font-weight="normal" fill="#231f20" >45.5</text><line x1="429.16" y1="376.4" x2="429.16" y2="379.70" stroke="#888" stroke-width="0.8"/><text x="429.16" y="390.00" font-size="7.8" text-anchor="middle" font-weight="normal" fill="#231f20" >46.0</text><line x1="493.94" y1="376.4" x2="493.94" y2="379.70" stroke="#888" stroke-width="0.8"/><text x="493.94" y="390.00" font-size="7.8" text-anchor="middle" font-weight="normal" fill="#231f20" >46.5</text><line x1="558.72" y1="376.4" x2="558.72" y2="379.70" stroke="#888" stroke-width="0.8"/><text x="558.72" y="390.00" font-size="7.8" text-anchor="middle" font-weight="normal" fill="#231f20" >47.0</text><line x1="623.50" y1="376.4" x2="623.50" y2="379.70" stroke="#888" stroke-width="0.8"/><text x="623.50" y="390.00" font-size="7.8" text-anchor="middle" font-weight="normal" fill="#231f20" >47.5</text><path d="M291.80 423.00H299.40M291.80 427.50H299.40M291.80 432.00H299.40M291.80 436.50H299.40M291.80 441.00H299.40M291.80 445.50H299.40M291.80 450.00H299.40M291.80 454.50H299.40M291.80 459.00H299.40M300.60 432.00H312.34M300.60 436.50H312.34M300.60 441.00H312.34M300.60 445.50H312.34M300.60 450.00H312.34M313.54 423.00H325.28M313.54 427.50H325.28M313.54 432.00H325.28M313.54 436.50H325.28M313.54 441.00H325.28M313.54 445.50H325.28M313.54 450.00H325.28M313.54 454.50H325.28M313.54 459.00H325.28M326.48 427.50H338.22M326.48 432.00H338.22M326.48 436.50H338.22M326.48 441.00H338.22M326.48 445.50H338.22M326.48 450.00H338.22M339.42 423.00H351.16M339.42 427.50H351.16M339.42 432.00H351.16M339.42 436.50H351.16M339.42 441.00H351.16M339.42 445.50H351.16M339.42 450.00H351.16M339.42 454.50H351.16M339.42 459.00H351.16M352.36 423.00H364.10M352.36 427.50H364.10M352.36 432.00H364.10M352.36 436.50H364.10M352.36 441.00H364.10M352.36 445.50H364.10M352.36 450.00H364.10M352.36 454.50H364.10M352.36 459.00H364.10M365.30 423.00H377.04M365.30 427.50H377.04M365.30 432.00H377.04M365.30 436.50H377.04M365.30 441.00H377.04M365.30 445.50H377.04M365.30 450.00H377.04M365.30 454.50H377.04M365.30 459.00H377.04M378.24 423.00H389.98M378.24 427.50H389.98M378.24 432.00H389.98M378.24 436.50H389.98M378.24 441.00H389.98M378.24 445.50H389.98M378.24 450.00H389.98M378.24 454.50H389.98M378.24 459.00H389.98M378.24 463.50H389.98M391.18 432.00H402.92M391.18 436.50H402.92M391.18 441.00H402.92M391.18 445.50H402.92M391.18 450.00H402.92M404.12 418.50H415.86M404.12 423.00H415.86M404.12 427.50H415.86M404.12 432.00H415.86M404.12 436.50H415.86M404.12 441.00H415.86M404.12 445.50H415.86M404.12 450.00H415.86M404.12 454.50H415.86M404.12 459.00H415.86M404.12 463.50H415.86M417.06 423.00H428.80M417.06 427.50H428.80M417.06 432.00H428.80M417.06 436.50H428.80M417.06 441.00H428.80M417.06 445.50H428.80M417.06 450.00H428.80M417.06 454.50H428.80M417.06 459.00H428.80M430.00 427.50H441.74M430.00 432.00H441.74M430.00 436.50H441.74M430.00 441.00H441.74M430.00 445.50H441.74M430.00 450.00H441.74M430.00 454.50H441.74M430.00 459.00H441.74M442.94 418.50H454.68M442.94 423.00H454.68M442.94 427.50H454.68M442.94 432.00H454.68M442.94 436.50H454.68M442.94 441.00H454.68M442.94 445.50H454.68M442.94 450.00H454.68M442.94 454.50H454.68M442.94 459.00H454.68M442.94 463.50H454.68M455.88 418.50H467.62M455.88 423.00H467.62M455.88 427.50H467.62M455.88 432.00H467.62M455.88 436.50H467.62M455.88 441.00H467.62M455.88 445.50H467.62M455.88 450.00H467.62M455.88 454.50H467.62M455.88 459.00H467.62M455.88 463.50H467.62M468.82 423.00H480.56M468.82 427.50H480.56M468.82 432.00H480.56M468.82 436.50H480.56M468.82 441.00H480.56M468.82 445.50H480.56M468.82 450.00H480.56M468.82 454.50H480.56M468.82 459.00H480.56M481.76 418.50H493.50M481.76 423.00H493.50M481.76 427.50H493.50M481.76 432.00H493.50M481.76 436.50H493.50M481.76 441.00H493.50M481.76 445.50H493.50M481.76 450.00H493.50M481.76 454.50H493.50M481.76 459.00H493.50M481.76 463.50H493.50M481.76 468.00H493.50M494.70 423.00H506.44M494.70 427.50H506.44M494.70 432.00H506.44M494.70 436.50H506.44M494.70 441.00H506.44M494.70 445.50H506.44M494.70 450.00H506.44M494.70 454.50H506.44M494.70 459.00H506.44M494.70 463.50H506.44M507.64 423.00H519.38M507.64 427.50H519.38M507.64 432.00H519.38M507.64 436.50H519.38M507.64 441.00H519.38M507.64 445.50H519.38M507.64 450.00H519.38M507.64 454.50H519.38M507.64 459.00H519.38M507.64 463.50H519.38M520.58 423.00H532.32M520.58 427.50H532.32M520.58 432.00H532.32M520.58 436.50H532.32M520.58 441.00H532.32M520.58 445.50H532.32M520.58 450.00H532.32M520.58 454.50H532.32M520.58 459.00H532.32M533.52 423.00H545.26M533.52 427.50H545.26M533.52 432.00H545.26M533.52 436.50H545.26M533.52 441.00H545.26M533.52 445.50H545.26M533.52 450.00H545.26M533.52 454.50H545.26M533.52 459.00H545.26M533.52 463.50H545.26M546.46 414.00H558.20M546.46 418.50H558.20M546.46 423.00H558.20M546.46 427.50H558.20M546.46 432.00H558.20M546.46 436.50H558.20M546.46 441.00H558.20M546.46 445.50H558.20M546.46 450.00H558.20M546.46 454.50H558.20M546.46 459.00H558.20M546.46 463.50H558.20M546.46 468.00H558.20M546.46 472.50H558.20M559.40 423.00H571.14M559.40 427.50H571.14M559.40 432.00H571.14M559.40 436.50H571.14M559.40 441.00H571.14M559.40 445.50H571.14M559.40 450.00H571.14M559.40 454.50H571.14M559.40 459.00H571.14M572.34 418.50H584.08M572.34 423.00H584.08M572.34 427.50H584.08M572.34 432.00H584.08M572.34 436.50H584.08M572.34 441.00H584.08M572.34 445.50H584.08M572.34 450.00H584.08M572.34 454.50H584.08M572.34 459.00H584.08M572.34 463.50H584.08M585.28 432.00H597.02M585.28 436.50H597.02M585.28 441.00H597.02M585.28 445.50H597.02M585.28 450.00H597.02M585.28 454.50H597.02M585.28 459.00H597.02M598.22 432.00H609.96M598.22 436.50H609.96M598.22 441.00H609.96M598.22 445.50H609.96M598.22 450.00H609.96M598.22 454.50H609.96M611.16 432.00H622.90M611.16 436.50H622.90M611.16 441.00H622.90M611.16 445.50H622.90M611.16 450.00H622.90M611.16 454.50H622.90M611.16 459.00H622.90M624.10 432.00H627.40M624.10 436.50H627.40M624.10 441.00H627.40M624.10 445.50H627.40M624.10 450.00H627.40M624.10 454.50H627.40" stroke="#d9d9d9" stroke-width="0.55" fill="none"/><path d="M291.20 423.00H297.30Q299.50 423.00 299.50 425.20V456.80Q299.50 459.00 297.30 459.00H291.20" fill="none" stroke="#d4d4d4" stroke-width="0.55"/><rect x="300.50" y="432.00" width="11.94" height="18.00" rx="2.2" ry="2.2" fill="none" stroke="#d4d4d4" stroke-width="0.55"/><rect x="313.44" y="423.00" width="11.94" height="36.00" rx="2.2" ry="2.2" fill="none" stroke="#d4d4d4" stroke-width="0.55"/><rect x="326.38" y="427.50" width="11.94" height="22.50" rx="2.2" ry="2.2" fill="none" stroke="#d4d4d4" stroke-width="0.55"/><rect x="339.32" y="423.00" width="11.94" height="36.00" rx="2.2" ry="2.2" fill="none" stroke="#d4d4d4" stroke-width="0.55"/><rect x="352.26" y="423.00" width="11.94" height="36.00" rx="2.2" ry="2.2" fill="none" stroke="#d4d4d4" stroke-width="0.55"/><rect x="365.20" y="423.00" width="11.94" height="36.00" rx="2.2" ry="2.2" fill="none" stroke="#d4d4d4" stroke-width="0.55"/><rect x="378.14" y="423.00" width="11.94" height="40.50" rx="2.2" ry="2.2" fill="none" stroke="#d4d4d4" stroke-width="0.55"/><rect x="391.08" y="432.00" width="11.94" height="18.00" rx="2.2" ry="2.2" fill="none" stroke="#d4d4d4" stroke-width="0.55"/><rect x="404.02" y="418.50" width="11.94" height="45.00" rx="2.2" ry="2.2" fill="none" stroke="#d4d4d4" stroke-width="0.55"/><rect x="416.96" y="423.00" width="11.94" height="36.00" rx="2.2" ry="2.2" fill="none" stroke="#d4d4d4" stroke-width="0.55"/><rect x="429.90" y="427.50" width="11.94" height="31.50" rx="2.2" ry="2.2" fill="none" stroke="#d4d4d4" stroke-width="0.55"/><rect x="442.84" y="418.50" width="11.94" height="45.00" rx="2.2" ry="2.2" fill="none" stroke="#d4d4d4" stroke-width="0.55"/><rect x="455.78" y="418.50" width="11.94" height="45.00" rx="2.2" ry="2.2" fill="none" stroke="#d4d4d4" stroke-width="0.55"/><rect x="468.72" y="423.00" width="11.94" height="36.00" rx="2.2" ry="2.2" fill="none" stroke="#d4d4d4" stroke-width="0.55"/><rect x="481.66" y="418.50" width="11.94" height="49.50" rx="2.2" ry="2.2" fill="none" stroke="#d4d4d4" stroke-width="0.55"/><rect x="494.60" y="423.00" width="11.94" height="40.50" rx="2.2" ry="2.2" fill="none" stroke="#d4d4d4" stroke-width="0.55"/><rect x="507.54" y="423.00" width="11.94" height="40.50" rx="2.2" ry="2.2" fill="none" stroke="#d4d4d4" stroke-width="0.55"/><rect x="520.48" y="423.00" width="11.94" height="36.00" rx="2.2" ry="2.2" fill="none" stroke="#d4d4d4" stroke-width="0.55"/><rect x="533.42" y="423.00" width="11.94" height="40.50" rx="2.2" ry="2.2" fill="none" stroke="#d4d4d4" stroke-width="0.55"/><rect x="546.36" y="414.00" width="11.94" height="58.50" rx="2.2" ry="2.2" fill="none" stroke="#d4d4d4" stroke-width="0.55"/><rect x="559.30" y="423.00" width="11.94" height="36.00" rx="2.2" ry="2.2" fill="none" stroke="#d4d4d4" stroke-width="0.55"/><rect x="572.24" y="418.50" width="11.94" height="45.00" rx="2.2" ry="2.2" fill="none" stroke="#d4d4d4" stroke-width="0.55"/><rect x="585.18" y="432.00" width="11.94" height="27.00" rx="2.2" ry="2.2" fill="none" stroke="#d4d4d4" stroke-width="0.55"/><rect x="598.12" y="432.00" width="11.94" height="22.50" rx="2.2" ry="2.2" fill="none" stroke="#d4d4d4" stroke-width="0.55"/><rect x="611.06" y="432.00" width="11.94" height="27.00" rx="2.2" ry="2.2" fill="none" stroke="#d4d4d4" stroke-width="0.55"/><rect x="624.00" y="432.00" width="3.50" height="22.50" rx="2.2" ry="2.2" fill="none" stroke="#d4d4d4" stroke-width="0.55"/><line x1="292.00" y1="436.50" x2="299.20" y2="436.50" stroke="#3a7fbf" stroke-width="1.3"/><line x1="300.80" y1="436.50" x2="312.14" y2="436.50" stroke="#3a7fbf" stroke-width="1.3"/><line x1="313.74" y1="436.50" x2="325.08" y2="436.50" stroke="#3a7fbf" stroke-width="1.3"/><line x1="326.68" y1="436.50" x2="338.02" y2="436.50" stroke="#3a7fbf" stroke-width="1.3"/><line x1="339.62" y1="436.50" x2="350.96" y2="436.50" stroke="#3a7fbf" stroke-width="1.3"/><line x1="352.56" y1="436.50" x2="363.90" y2="436.50" stroke="#3a7fbf" stroke-width="1.3"/><line x1="365.50" y1="436.50" x2="376.84" y2="436.50" stroke="#3a7fbf" stroke-width="1.3"/><line x1="378.44" y1="436.50" x2="389.78" y2="436.50" stroke="#3a7fbf" stroke-width="1.3"/><line x1="391.38" y1="436.50" x2="402.72" y2="436.50" stroke="#3a7fbf" stroke-width="1.3"/><line x1="404.32" y1="436.50" x2="415.66" y2="436.50" stroke="#3a7fbf" stroke-width="1.3"/><line x1="417.26" y1="436.50" x2="428.60" y2="436.50" stroke="#3a7fbf" stroke-width="1.3"/><line x1="292.00" y1="445.50" x2="299.20" y2="445.50" stroke="#8f4a9e" stroke-width="1.3"/><line x1="300.80" y1="445.50" x2="312.14" y2="445.50" stroke="#8f4a9e" stroke-width="1.3"/><line x1="313.74" y1="445.50" x2="325.08" y2="445.50" stroke="#8f4a9e" stroke-width="1.3"/><line x1="326.68" y1="445.50" x2="338.02" y2="445.50" stroke="#8f4a9e" stroke-width="1.3"/><line x1="339.62" y1="445.50" x2="350.96" y2="445.50" stroke="#8f4a9e" stroke-width="1.3"/><line x1="352.56" y1="445.50" x2="363.90" y2="445.50" stroke="#8f4a9e" stroke-width="1.3"/><line x1="365.50" y1="445.50" x2="376.84" y2="445.50" stroke="#8f4a9e" stroke-width="1.3"/><line x1="378.44" y1="445.50" x2="389.78" y2="445.50" stroke="#8f4a9e" stroke-width="1.3"/><line x1="391.40" y1="450.00" x2="402.70" y2="450.00" stroke="#8f4a9e" stroke-width="1.3"/><line x1="404.32" y1="427.50" x2="415.66" y2="427.50" stroke="#8f4a9e" stroke-width="1.3"/><line x1="417.26" y1="427.50" x2="428.60" y2="427.50" stroke="#8f4a9e" stroke-width="1.3"/><line x1="430.20" y1="427.50" x2="441.54" y2="427.50" stroke="#8f4a9e" stroke-width="1.3"/><line x1="443.14" y1="427.50" x2="454.48" y2="427.50" stroke="#8f4a9e" stroke-width="1.3"/><line x1="456.08" y1="427.50" x2="467.42" y2="427.50" stroke="#8f4a9e" stroke-width="1.3"/><line x1="469.02" y1="427.50" x2="480.36" y2="427.50" stroke="#8f4a9e" stroke-width="1.3"/><line x1="481.96" y1="427.50" x2="493.30" y2="427.50" stroke="#8f4a9e" stroke-width="1.3"/><line x1="494.90" y1="427.50" x2="506.24" y2="427.50" stroke="#8f4a9e" stroke-width="1.3"/><line x1="507.84" y1="427.50" x2="519.18" y2="427.50" stroke="#8f4a9e" stroke-width="1.3"/><line x1="520.78" y1="427.50" x2="532.12" y2="427.50" stroke="#8f4a9e" stroke-width="1.3"/><line x1="533.72" y1="427.50" x2="545.06" y2="427.50" stroke="#8f4a9e" stroke-width="1.3"/><line x1="546.66" y1="427.50" x2="558.00" y2="427.50" stroke="#8f4a9e" stroke-width="1.3"/><line x1="559.60" y1="427.50" x2="570.94" y2="427.50" stroke="#8f4a9e" stroke-width="1.3"/><line x1="572.54" y1="427.50" x2="583.88" y2="427.50" stroke="#8f4a9e" stroke-width="1.3"/><line x1="585.48" y1="427.50" x2="596.82" y2="427.50" stroke="#8f4a9e" stroke-width="1.3"/><line x1="598.42" y1="427.50" x2="609.76" y2="427.50" stroke="#8f4a9e" stroke-width="1.3"/><line x1="611.36" y1="427.50" x2="622.70" y2="427.50" stroke="#8f4a9e" stroke-width="1.3"/><line x1="624.30" y1="427.50" x2="627.20" y2="427.50" stroke="#8f4a9e" stroke-width="1.3"/><line x1="430.20" y1="450.00" x2="441.54" y2="450.00" stroke="#3a7fbf" stroke-width="1.3"/><line x1="443.14" y1="450.00" x2="454.48" y2="450.00" stroke="#3a7fbf" stroke-width="1.3"/><line x1="456.08" y1="450.00" x2="467.42" y2="450.00" stroke="#3a7fbf" stroke-width="1.3"/><line x1="469.02" y1="450.00" x2="480.36" y2="450.00" stroke="#3a7fbf" stroke-width="1.3"/><line x1="481.96" y1="450.00" x2="493.30" y2="450.00" stroke="#3a7fbf" stroke-width="1.3"/><line x1="494.90" y1="450.00" x2="506.24" y2="450.00" stroke="#3a7fbf" stroke-width="1.3"/><line x1="507.84" y1="450.00" x2="519.18" y2="450.00" stroke="#3a7fbf" stroke-width="1.3"/><line x1="520.78" y1="450.00" x2="532.12" y2="450.00" stroke="#3a7fbf" stroke-width="1.3"/><line x1="533.72" y1="450.00" x2="545.00" y2="450.00" stroke="#3a7fbf" stroke-width="1.3"/><line x1="546.66" y1="468.00" x2="557.90" y2="468.00" stroke="#3a7fbf" stroke-width="1.3"/><line x1="559.60" y1="423.00" x2="570.94" y2="423.00" stroke="#3a7fbf" stroke-width="1.3"/><line x1="572.54" y1="423.00" x2="583.88" y2="423.00" stroke="#3a7fbf" stroke-width="1.3"/><line x1="585.48" y1="423.00" x2="596.82" y2="423.00" stroke="#3a7fbf" stroke-width="1.3"/><line x1="598.42" y1="423.00" x2="609.76" y2="423.00" stroke="#3a7fbf" stroke-width="1.3"/><line x1="611.36" y1="423.00" x2="622.70" y2="423.00" stroke="#3a7fbf" stroke-width="1.3"/><line x1="624.30" y1="423.00" x2="627.20" y2="423.00" stroke="#3a7fbf" stroke-width="1.3"/><line x1="292.00" y1="454.50" x2="299.20" y2="454.50" stroke="#e01ad6" stroke-width="2.8"/><line x1="300.80" y1="454.50" x2="312.14" y2="454.50" stroke="#e01ad6" stroke-width="2.8"/><line x1="313.74" y1="454.50" x2="325.08" y2="454.50" stroke="#e01ad6" stroke-width="2.8"/><line x1="326.68" y1="454.50" x2="338.02" y2="454.50" stroke="#e01ad6" stroke-width="2.8"/><line x1="339.62" y1="454.50" x2="350.96" y2="454.50" stroke="#e01ad6" stroke-width="2.8"/><line x1="352.56" y1="454.50" x2="363.90" y2="454.50" stroke="#e01ad6" stroke-width="2.8"/><line x1="365.50" y1="454.50" x2="376.84" y2="454.50" stroke="#e01ad6" stroke-width="2.8"/><line x1="378.44" y1="454.50" x2="389.78" y2="454.50" stroke="#e01ad6" stroke-width="2.8"/><line x1="391.38" y1="454.50" x2="402.72" y2="454.50" stroke="#e01ad6" stroke-width="2.8"/><line x1="404.32" y1="454.50" x2="415.66" y2="454.50" stroke="#e01ad6" stroke-width="2.8"/><line x1="417.26" y1="454.50" x2="428.60" y2="454.50" stroke="#e01ad6" stroke-width="2.8"/><line x1="430.20" y1="454.50" x2="441.54" y2="454.50" stroke="#e01ad6" stroke-width="2.8"/><line x1="443.14" y1="454.50" x2="454.48" y2="454.50" stroke="#e01ad6" stroke-width="2.8"/><line x1="456.08" y1="454.50" x2="467.42" y2="454.50" stroke="#e01ad6" stroke-width="2.8"/><line x1="469.02" y1="454.50" x2="480.36" y2="454.50" stroke="#e01ad6" stroke-width="2.8"/><line x1="481.96" y1="454.50" x2="493.30" y2="454.50" stroke="#e01ad6" stroke-width="2.8"/><line x1="494.90" y1="454.50" x2="506.24" y2="454.50" stroke="#e01ad6" stroke-width="2.8"/><line x1="507.84" y1="454.50" x2="519.18" y2="454.50" stroke="#e01ad6" stroke-width="2.8"/><line x1="520.78" y1="454.50" x2="532.12" y2="454.50" stroke="#e01ad6" stroke-width="2.8"/><line x1="533.72" y1="454.50" x2="545.06" y2="454.50" stroke="#e01ad6" stroke-width="2.8"/><line x1="546.66" y1="454.50" x2="558.00" y2="454.50" stroke="#e01ad6" stroke-width="2.8"/><line x1="559.60" y1="454.50" x2="570.90" y2="454.50" stroke="#e01ad6" stroke-width="2.8"/><line x1="572.54" y1="441.00" x2="583.88" y2="441.00" stroke="#e01ad6" stroke-width="2.8"/><line x1="585.48" y1="441.00" x2="596.82" y2="441.00" stroke="#e01ad6" stroke-width="2.8"/><line x1="598.42" y1="441.00" x2="609.76" y2="441.00" stroke="#e01ad6" stroke-width="2.8"/><line x1="611.36" y1="441.00" x2="622.70" y2="441.00" stroke="#e01ad6" stroke-width="2.8"/><line x1="624.30" y1="441.00" x2="627.20" y2="441.00" stroke="#e01ad6" stroke-width="2.8"/><line x1="299.6" y1="481.3" x2="628" y2="481.3" stroke="#777" stroke-width="0.7"/><line x1="299.60" y1="481.3" x2="299.60" y2="484.60" stroke="#888" stroke-width="0.8"/><text x="299.60" y="495.00" font-size="7.8" text-anchor="middle" font-weight="normal" fill="#231f20" >45.0</text><line x1="364.38" y1="481.3" x2="364.38" y2="484.60" stroke="#888" stroke-width="0.8"/><text x="364.38" y="495.00" font-size="7.8" text-anchor="middle" font-weight="normal" fill="#231f20" >45.5</text><line x1="429.16" y1="481.3" x2="429.16" y2="484.60" stroke="#888" stroke-width="0.8"/><text x="429.16" y="495.00" font-size="7.8" text-anchor="middle" font-weight="normal" fill="#231f20" >46.0</text><line x1="493.94" y1="481.3" x2="493.94" y2="484.60" stroke="#888" stroke-width="0.8"/><text x="493.94" y="495.00" font-size="7.8" text-anchor="middle" font-weight="normal" fill="#231f20" >46.5</text><line x1="558.72" y1="481.3" x2="558.72" y2="484.60" stroke="#888" stroke-width="0.8"/><text x="558.72" y="495.00" font-size="7.8" text-anchor="middle" font-weight="normal" fill="#231f20" >47.0</text><line x1="623.50" y1="481.3" x2="623.50" y2="484.60" stroke="#888" stroke-width="0.8"/><text x="623.50" y="495.00" font-size="7.8" text-anchor="middle" font-weight="normal" fill="#231f20" >47.5</text><line x1="408.5" y1="334" x2="400.50" y2="338.14" stroke="#3a3a3a" stroke-width="0.7"/><polygon points="397.3,339.8 399.76,336.72 401.23,339.57" fill="#3a3a3a"/><line x1="538.8" y1="302.9" x2="546.28" y2="308.29" stroke="#3a3a3a" stroke-width="0.7"/><polygon points="549.2,310.4 545.34,309.59 547.22,307.00" fill="#3a3a3a"/><line x1="564.4" y1="367.9" x2="557.44" y2="361.94" stroke="#3a3a3a" stroke-width="0.7"/><polygon points="554.7,359.6 558.48,360.72 556.40,363.16" fill="#3a3a3a"/><text x="637.80" y="310.40" font-size="7.8" text-anchor="start" font-weight="normal" fill="#231f20" >Predicted</text><text x="637.80" y="319.40" font-size="7.8" text-anchor="start" font-weight="normal" fill="#231f20" >haplotype</text><text x="637.80" y="328.40" font-size="7.8" text-anchor="start" font-weight="normal" fill="#231f20" >copy-number</text><rect x="637.4" y="335.80" width="7.2" height="7" fill="#7b9a13"/><text x="649.00" y="342.00" font-size="7.8" text-anchor="start" font-weight="normal" fill="#231f20" >1</text><rect x="637.4" y="349.00" width="7.2" height="7" fill="#efc54b"/><text x="649.00" y="355.20" font-size="7.8" text-anchor="start" font-weight="normal" fill="#231f20" >2</text><rect x="637.4" y="362.20" width="7.2" height="7" fill="#f64a0c"/><text x="649.00" y="368.40" font-size="7.8" text-anchor="start" font-weight="normal" fill="#231f20" >3</text><text x="637.80" y="417.00" font-size="7.8" text-anchor="start" font-weight="normal" fill="#231f20" >Real</text><text x="637.80" y="425.80" font-size="7.8" text-anchor="start" font-weight="normal" fill="#231f20" >haplotypes</text><rect x="637" y="431.10" width="7.2" height="6.8" fill="#3a7fbf"/><rect x="637" y="444.10" width="7.2" height="6.8" fill="#8f4a9e"/><rect x="637" y="457.10" width="7.2" height="6.8" fill="#e01ad6"/><text x="647.80" y="462.70" font-size="7.8" text-anchor="start" font-weight="normal" fill="#231f20" >(2×)</text></svg>
</body></html>
